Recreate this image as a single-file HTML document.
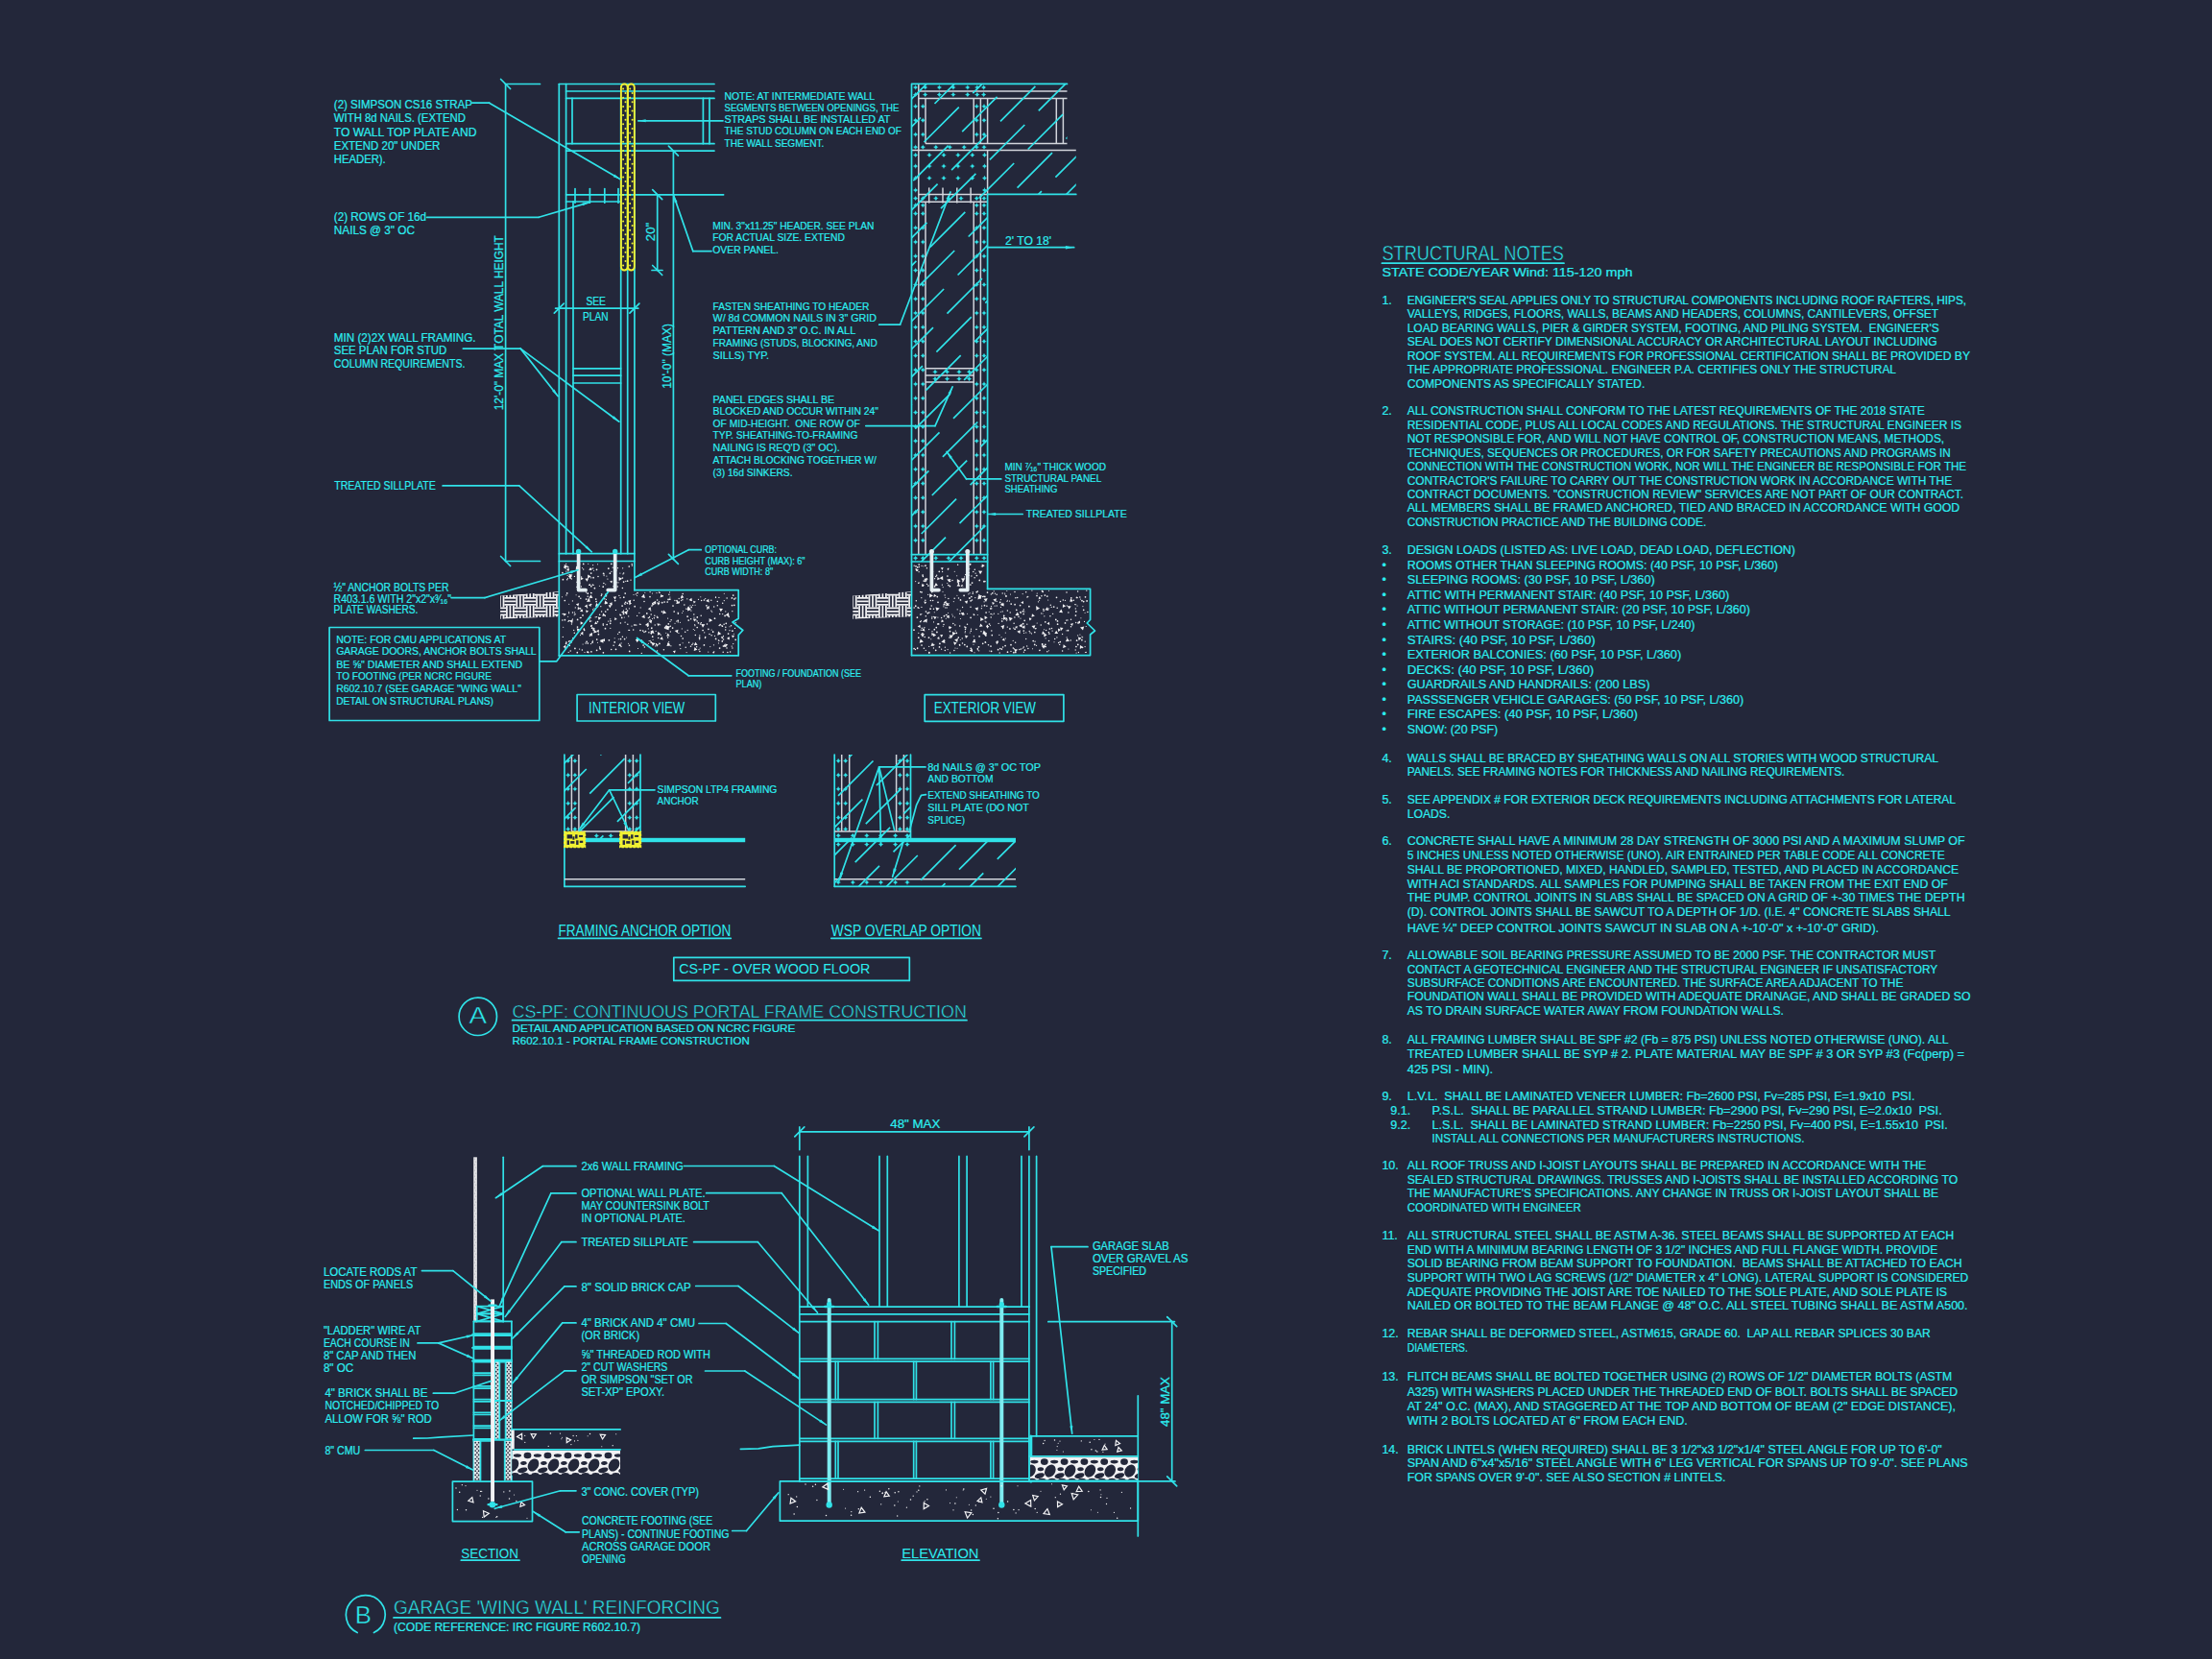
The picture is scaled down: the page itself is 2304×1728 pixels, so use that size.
<!DOCTYPE html>
<html lang="en"><head><meta charset="utf-8"><title>CS-PF Portal Frame Details and Structural Notes</title>
<style>
html,body{margin:0;padding:0;background:#23273a;}
body{width:2304px;height:1728px;overflow:hidden;}
svg{display:block;}
text{font-family:"Liberation Sans","DejaVu Sans",sans-serif;fill:#2ceef0;white-space:pre;}
.t{stroke:#2ceef0;stroke-width:.22px;}
.tl{stroke:#23273a;stroke-width:.5px;}
.tm{}
.c{stroke:#30e2e8;stroke-width:1.7;fill:none;stroke-linecap:round;stroke-linejoin:round;}
.g{stroke:#d2d5dc;stroke-width:1.5;fill:none;}
.jb{stroke:#e4eef2;fill:none;stroke-linecap:round;stroke-linejoin:round;}
.w{stroke:#f2f2f4;stroke-width:1;fill:none;}
.y{stroke:#f0f032;stroke-width:1.3;fill:none;}
.fc{fill:#30e2e8;stroke:none;}
.fw{fill:#f2f2f4;stroke:none;}
.fy{fill:#f0f032;stroke:none;}
.fg{fill:#d2d5dc;stroke:none;}
</style></head>
<body>
<svg width="2304" height="1728" viewBox="0 0 2304 1728">
<rect x="0" y="0" width="2304" height="1728" fill="#23273a"/>
<text class="tl" x="1439.4" y="271.3" font-size="21.6" textLength="189.6" lengthAdjust="spacingAndGlyphs">STRUCTURAL NOTES</text>
<line class="c" x1="1439.4" y1="274.2" x2="1629.0" y2="274.2"/>
<text class="t" x="1439.4" y="287.5" font-size="13.0" textLength="261.1" lengthAdjust="spacingAndGlyphs">STATE CODE/YEAR Wind: 115-120 mph</text>
<text class="t" x="1439.4" y="316.8" font-size="12.5">1.</text>
<text class="t" x="1465.7" y="316.8" font-size="12.5" textLength="582.4" lengthAdjust="spacingAndGlyphs">ENGINEER'S SEAL APPLIES ONLY TO STRUCTURAL COMPONENTS INCLUDING ROOF RAFTERS, HIPS,</text>
<text class="t" x="1465.7" y="331.4" font-size="12.5" textLength="553.4" lengthAdjust="spacingAndGlyphs">VALLEYS, RIDGES, FLOORS, WALLS, BEAMS AND HEADERS, COLUMNS, CANTILEVERS, OFFSET</text>
<text class="t" x="1465.7" y="345.7" font-size="12.5" textLength="554.0" lengthAdjust="spacingAndGlyphs">LOAD BEARING WALLS, PIER &amp; GIRDER SYSTEM, FOOTING, AND PILING SYSTEM.  ENGINEER'S</text>
<text class="t" x="1465.7" y="360.3" font-size="12.5" textLength="551.9" lengthAdjust="spacingAndGlyphs">SEAL DOES NOT CERTIFY DIMENSIONAL ACCURACY OR ARCHITECTURAL LAYOUT INCLUDING</text>
<text class="t" x="1465.7" y="374.7" font-size="12.5" textLength="586.3" lengthAdjust="spacingAndGlyphs">ROOF SYSTEM. ALL REQUIREMENTS FOR PROFESSIONAL CERTIFICATION SHALL BE PROVIDED BY</text>
<text class="t" x="1465.7" y="389.0" font-size="12.5" textLength="509.3" lengthAdjust="spacingAndGlyphs">THE APPROPRIATE PROFESSIONAL. ENGINEER P.A. CERTIFIES ONLY THE STRUCTURAL</text>
<text class="t" x="1465.7" y="403.6" font-size="12.5" textLength="247.6" lengthAdjust="spacingAndGlyphs">COMPONENTS AS SPECIFICALLY STATED.</text>
<text class="t" x="1439.4" y="432.2" font-size="12.5">2.</text>
<text class="t" x="1465.7" y="432.2" font-size="12.5" textLength="539.1" lengthAdjust="spacingAndGlyphs">ALL CONSTRUCTION SHALL CONFORM TO THE LATEST REQUIREMENTS OF THE 2018 STATE</text>
<text class="t" x="1465.7" y="446.6" font-size="12.5" textLength="577.3" lengthAdjust="spacingAndGlyphs">RESIDENTIAL CODE, PLUS ALL LOCAL CODES AND REGULATIONS. THE STRUCTURAL ENGINEER IS</text>
<text class="t" x="1465.7" y="461.2" font-size="12.5" textLength="559.4" lengthAdjust="spacingAndGlyphs">NOT RESPONSIBLE FOR, AND WILL NOT HAVE CONTROL OF, CONSTRUCTION MEANS, METHODS,</text>
<text class="t" x="1465.7" y="475.5" font-size="12.5" textLength="566.0" lengthAdjust="spacingAndGlyphs">TECHNIQUES, SEQUENCES OR PROCEDURES, OR FOR SAFETY PRECAUTIONS AND PROGRAMS IN</text>
<text class="t" x="1465.7" y="489.8" font-size="12.5" textLength="582.4" lengthAdjust="spacingAndGlyphs">CONNECTION WITH THE CONSTRUCTION WORK, NOR WILL THE ENGINEER BE RESPONSIBLE FOR THE</text>
<text class="t" x="1465.7" y="504.5" font-size="12.5" textLength="567.4" lengthAdjust="spacingAndGlyphs">CONTRACTOR'S FAILURE TO CARRY OUT THE CONSTRUCTION WORK IN ACCORDANCE WITH THE</text>
<text class="t" x="1465.7" y="518.8" font-size="12.5" textLength="579.4" lengthAdjust="spacingAndGlyphs">CONTRACT DOCUMENTS. "CONSTRUCTION REVIEW" SERVICES ARE NOT PART OF OUR CONTRACT.</text>
<text class="t" x="1465.7" y="533.4" font-size="12.5" textLength="575.5" lengthAdjust="spacingAndGlyphs">ALL MEMBERS SHALL BE FRAMED ANCHORED, TIED AND BRACED IN ACCORDANCE WITH GOOD</text>
<text class="t" x="1465.7" y="547.7" font-size="12.5" textLength="311.5" lengthAdjust="spacingAndGlyphs">CONSTRUCTION PRACTICE AND THE BUILDING CODE.</text>
<text class="t" x="1439.4" y="577.1" font-size="12.5">3.</text>
<text class="t" x="1465.7" y="577.1" font-size="12.5" textLength="404.3" lengthAdjust="spacingAndGlyphs">DESIGN LOADS (LISTED AS: LIVE LOAD, DEAD LOAD, DEFLECTION)</text>
<text class="t" x="1439.4" y="592.6" font-size="12.5">•</text>
<text class="t" x="1465.7" y="592.6" font-size="12.5" textLength="386.3" lengthAdjust="spacingAndGlyphs">ROOMS OTHER THAN SLEEPING ROOMS: (40 PSF, 10 PSF, L/360)</text>
<text class="t" x="1439.4" y="608.1" font-size="12.5">•</text>
<text class="t" x="1465.7" y="608.1" font-size="12.5" textLength="258.0" lengthAdjust="spacingAndGlyphs">SLEEPING ROOMS: (30 PSF, 10 PSF, L/360)</text>
<text class="t" x="1439.4" y="623.7" font-size="12.5">•</text>
<text class="t" x="1465.7" y="623.7" font-size="12.5" textLength="335.6" lengthAdjust="spacingAndGlyphs">ATTIC WITH PERMANENT STAIR: (40 PSF, 10 PSF, L/360)</text>
<text class="t" x="1439.4" y="639.2" font-size="12.5">•</text>
<text class="t" x="1465.7" y="639.2" font-size="12.5" textLength="357.1" lengthAdjust="spacingAndGlyphs">ATTIC WITHOUT PERMANENT STAIR: (20 PSF, 10 PSF, L/360)</text>
<text class="t" x="1439.4" y="654.7" font-size="12.5">•</text>
<text class="t" x="1465.7" y="654.7" font-size="12.5" textLength="299.8" lengthAdjust="spacingAndGlyphs">ATTIC WITHOUT STORAGE: (10 PSF, 10 PSF, L/240)</text>
<text class="t" x="1439.4" y="670.5" font-size="12.5">•</text>
<text class="t" x="1465.7" y="670.5" font-size="12.5" textLength="196.0" lengthAdjust="spacingAndGlyphs">STAIRS: (40 PSF, 10 PSF, L/360)</text>
<text class="t" x="1439.4" y="686.0" font-size="12.5">•</text>
<text class="t" x="1465.7" y="686.0" font-size="12.5" textLength="285.5" lengthAdjust="spacingAndGlyphs">EXTERIOR BALCONIES: (60 PSF, 10 PSF, L/360)</text>
<text class="t" x="1439.4" y="701.5" font-size="12.5">•</text>
<text class="t" x="1465.7" y="701.5" font-size="12.5" textLength="194.5" lengthAdjust="spacingAndGlyphs">DECKS: (40 PSF, 10 PSF, L/360)</text>
<text class="t" x="1439.4" y="717.0" font-size="12.5">•</text>
<text class="t" x="1465.7" y="717.0" font-size="12.5" textLength="252.7" lengthAdjust="spacingAndGlyphs">GUARDRAILS AND HANDRAILS: (200 LBS)</text>
<text class="t" x="1439.4" y="732.9" font-size="12.5">•</text>
<text class="t" x="1465.7" y="732.9" font-size="12.5" textLength="350.5" lengthAdjust="spacingAndGlyphs">PASSSENGER VEHICLE GARAGES: (50 PSF, 10 PSF, L/360)</text>
<text class="t" x="1439.4" y="748.4" font-size="12.5">•</text>
<text class="t" x="1465.7" y="748.4" font-size="12.5" textLength="240.1" lengthAdjust="spacingAndGlyphs">FIRE ESCAPES: (40 PSF, 10 PSF, L/360)</text>
<text class="t" x="1439.4" y="763.9" font-size="12.5">•</text>
<text class="t" x="1465.7" y="763.9" font-size="12.5" textLength="94.5" lengthAdjust="spacingAndGlyphs">SNOW: (20 PSF)</text>
<text class="t" x="1439.4" y="794.0" font-size="12.5">4.</text>
<text class="t" x="1465.7" y="794.0" font-size="12.5" textLength="553.4" lengthAdjust="spacingAndGlyphs">WALLS SHALL BE BRACED BY SHEATHING WALLS ON ALL STORIES WITH WOOD STRUCTURAL</text>
<text class="t" x="1465.7" y="808.3" font-size="12.5" textLength="455.6" lengthAdjust="spacingAndGlyphs">PANELS. SEE FRAMING NOTES FOR THICKNESS AND NAILING REQUIREMENTS.</text>
<text class="t" x="1439.4" y="837.3" font-size="12.5">5.</text>
<text class="t" x="1465.7" y="837.3" font-size="12.5" textLength="571.3" lengthAdjust="spacingAndGlyphs">SEE APPENDIX # FOR EXTERIOR DECK REQUIREMENTS INCLUDING ATTACHMENTS FOR LATERAL</text>
<text class="t" x="1465.7" y="851.6" font-size="12.5" textLength="44.7" lengthAdjust="spacingAndGlyphs">LOADS.</text>
<text class="t" x="1439.4" y="880.1" font-size="12.5">6.</text>
<text class="t" x="1465.7" y="880.1" font-size="12.5" textLength="580.9" lengthAdjust="spacingAndGlyphs">CONCRETE SHALL HAVE A MINIMUM 28 DAY STRENGTH OF 3000 PSI AND A MAXIMUM SLUMP OF</text>
<text class="t" x="1465.7" y="895.0" font-size="12.5" textLength="560.0" lengthAdjust="spacingAndGlyphs">5 INCHES UNLESS NOTED OTHERWISE (UNO). AIR ENTRAINED PER TABLE CODE ALL CONCRETE</text>
<text class="t" x="1465.7" y="909.9" font-size="12.5" textLength="574.3" lengthAdjust="spacingAndGlyphs">SHALL BE PROPORTIONED, MIXED, HANDLED, SAMPLED, TESTED, AND PLACED IN ACCORDANCE</text>
<text class="t" x="1465.7" y="924.5" font-size="12.5" textLength="563.0" lengthAdjust="spacingAndGlyphs">WITH ACI STANDARDS. ALL SAMPLES FOR PUMPING SHALL BE TAKEN FROM THE EXIT END OF</text>
<text class="t" x="1465.7" y="939.2" font-size="12.5" textLength="580.9" lengthAdjust="spacingAndGlyphs">THE PUMP. CONTROL JOINTS IN SLABS SHALL BE SPACED ON A GRID OF +-30 TIMES THE DEPTH</text>
<text class="t" x="1465.7" y="954.1" font-size="12.5" textLength="566.0" lengthAdjust="spacingAndGlyphs">(D). CONTROL JOINTS SHALL BE SAWCUT TO A DEPTH OF 1/D. (I.E. 4" CONCRETE SLABS SHALL</text>
<text class="t" x="1465.7" y="970.8" font-size="12.5" textLength="491.4" lengthAdjust="spacingAndGlyphs">HAVE ¼" DEEP CONTROL JOINTS SAWCUT IN SLAB ON A +-10'-0" x +-10'-0" GRID).</text>
<text class="t" x="1439.4" y="999.1" font-size="12.5">7.</text>
<text class="t" x="1465.7" y="999.1" font-size="12.5" textLength="550.5" lengthAdjust="spacingAndGlyphs">ALLOWABLE SOIL BEARING PRESSURE ASSUMED TO BE 2000 PSF. THE CONTRACTOR MUST</text>
<text class="t" x="1465.7" y="1013.5" font-size="12.5" textLength="552.5" lengthAdjust="spacingAndGlyphs">CONTACT A GEOTECHNICAL ENGINEER AND THE STRUCTURAL ENGINEER IF UNSATISFACTORY</text>
<text class="t" x="1465.7" y="1027.8" font-size="12.5" textLength="516.7" lengthAdjust="spacingAndGlyphs">SUBSURFACE CONDITIONS ARE ENCOUNTERED. THE SURFACE AREA ADJACENT TO THE</text>
<text class="t" x="1465.7" y="1042.4" font-size="12.5" textLength="586.8" lengthAdjust="spacingAndGlyphs">FOUNDATION WALL SHALL BE PROVIDED WITH ADEQUATE DRAINAGE, AND SHALL BE GRADED SO</text>
<text class="t" x="1465.7" y="1056.7" font-size="12.5" textLength="392.3" lengthAdjust="spacingAndGlyphs">AS TO DRAIN SURFACE WATER AWAY FROM FOUNDATION WALLS.</text>
<text class="t" x="1439.4" y="1086.6" font-size="12.5">8.</text>
<text class="t" x="1465.7" y="1086.6" font-size="12.5" textLength="563.9" lengthAdjust="spacingAndGlyphs">ALL FRAMING LUMBER SHALL BE SPF #2 (Fb = 875 PSI) UNLESS NOTED OTHERWISE (UNO). ALL</text>
<text class="t" x="1465.7" y="1102.1" font-size="12.5" textLength="580.3" lengthAdjust="spacingAndGlyphs">TREATED LUMBER SHALL BE SYP # 2. PLATE MATERIAL MAY BE SPF # 3 OR SYP #3 (Fc(perp) =</text>
<text class="t" x="1465.7" y="1117.6" font-size="12.5" textLength="89.5" lengthAdjust="spacingAndGlyphs">425 PSI - MIN).</text>
<text class="t" x="1439.4" y="1146.2" font-size="12.5">9.</text>
<text class="t" x="1465.7" y="1146.2" font-size="12.5" textLength="528.7" lengthAdjust="spacingAndGlyphs">L.V.L.  SHALL BE LAMINATED VENEER LUMBER: Fb=2600 PSI, Fv=285 PSI, E=1.9x10  PSI.</text>
<text class="t" x="1448.3" y="1161.2" font-size="12.5">9.1.</text>
<text class="t" x="1491.6" y="1161.2" font-size="12.5" textLength="531.1" lengthAdjust="spacingAndGlyphs">P.S.L.  SHALL BE PARALLEL STRAND LUMBER: Fb=2900 PSI, Fv=290 PSI, E=2.0x10  PSI.</text>
<text class="t" x="1448.3" y="1175.5" font-size="12.5">9.2.</text>
<text class="t" x="1491.6" y="1175.5" font-size="12.5" textLength="537.1" lengthAdjust="spacingAndGlyphs">L.S.L.  SHALL BE LAMINATED STRAND LUMBER: Fb=2250 PSI, Fv=400 PSI, E=1.55x10  PSI.</text>
<text class="t" x="1491.6" y="1189.8" font-size="12.5" textLength="387.9" lengthAdjust="spacingAndGlyphs">INSTALL ALL CONNECTIONS PER MANUFACTURERS INSTRUCTIONS.</text>
<text class="t" x="1439.4" y="1218.1" font-size="12.5">10.</text>
<text class="t" x="1465.7" y="1218.1" font-size="12.5" textLength="540.6" lengthAdjust="spacingAndGlyphs">ALL ROOF TRUSS AND I-JOIST LAYOUTS SHALL BE PREPARED IN ACCORDANCE WITH THE</text>
<text class="t" x="1465.7" y="1232.8" font-size="12.5" textLength="573.4" lengthAdjust="spacingAndGlyphs">SEALED STRUCTURAL DRAWINGS. TRUSSES AND I-JOISTS SHALL BE INSTALLED ACCORDING TO</text>
<text class="t" x="1465.7" y="1247.4" font-size="12.5" textLength="553.4" lengthAdjust="spacingAndGlyphs">THE MANUFACTURE'S SPECIFICATIONS. ANY CHANGE IN TRUSS OR I-JOIST LAYOUT SHALL BE</text>
<text class="t" x="1465.7" y="1262.0" font-size="12.5" textLength="181.1" lengthAdjust="spacingAndGlyphs">COORDINATED WITH ENGINEER</text>
<text class="t" x="1439.4" y="1291.2" font-size="12.5">11.</text>
<text class="t" x="1465.7" y="1291.2" font-size="12.5" textLength="569.5" lengthAdjust="spacingAndGlyphs">ALL STRUCTURAL STEEL SHALL BE ASTM A-36. STEEL BEAMS SHALL BE SUPPORTED AT EACH</text>
<text class="t" x="1465.7" y="1305.6" font-size="12.5" textLength="552.5" lengthAdjust="spacingAndGlyphs">END WITH A MINIMUM BEARING LENGTH OF 3 1/2" INCHES AND FULL FLANGE WIDTH. PROVIDE</text>
<text class="t" x="1465.7" y="1320.2" font-size="12.5" textLength="577.9" lengthAdjust="spacingAndGlyphs">SOLID BEARING FROM BEAM SUPPORT TO FOUNDATION.  BEAMS SHALL BE ATTACHED TO EACH</text>
<text class="t" x="1465.7" y="1334.8" font-size="12.5" textLength="584.5" lengthAdjust="spacingAndGlyphs">SUPPORT WITH TWO LAG SCREWS (1/2" DIAMETER x 4" LONG). LATERAL SUPPORT IS CONSIDERED</text>
<text class="t" x="1465.7" y="1349.7" font-size="12.5" textLength="562.4" lengthAdjust="spacingAndGlyphs">ADEQUATE PROVIDING THE JOIST ARE TOE NAILED TO THE SOLE PLATE, AND SOLE PLATE IS</text>
<text class="t" x="1465.7" y="1364.3" font-size="12.5" textLength="583.9" lengthAdjust="spacingAndGlyphs">NAILED OR BOLTED TO THE BEAM FLANGE @ 48" O.C. ALL STEEL TUBING SHALL BE ASTM A500.</text>
<text class="t" x="1439.4" y="1393.3" font-size="12.5">12.</text>
<text class="t" x="1465.7" y="1393.3" font-size="12.5" textLength="545.1" lengthAdjust="spacingAndGlyphs">REBAR SHALL BE DEFORMED STEEL, ASTM615, GRADE 60.  LAP ALL REBAR SPLICES 30 BAR</text>
<text class="t" x="1465.7" y="1407.6" font-size="12.5" textLength="63.2" lengthAdjust="spacingAndGlyphs">DIAMETERS.</text>
<text class="t" x="1439.4" y="1438.0" font-size="12.5">13.</text>
<text class="t" x="1465.7" y="1438.0" font-size="12.5" textLength="567.5" lengthAdjust="spacingAndGlyphs">FLITCH BEAMS SHALL BE BOLTED TOGETHER USING (2) ROWS OF 1/2" DIAMETER BOLTS (ASTM</text>
<text class="t" x="1465.7" y="1453.6" font-size="12.5" textLength="573.4" lengthAdjust="spacingAndGlyphs">A325) WITH WASHERS PLACED UNDER THE THREADED END OF BOLT. BOLTS SHALL BE SPACED</text>
<text class="t" x="1465.7" y="1469.1" font-size="12.5" textLength="571.3" lengthAdjust="spacingAndGlyphs">AT 24" O.C. (MAX), AND STAGGERED AT THE TOP AND BOTTOM OF BEAM (2" EDGE DISTANCE),</text>
<text class="t" x="1465.7" y="1483.7" font-size="12.5" textLength="292.1" lengthAdjust="spacingAndGlyphs">WITH 2 BOLTS LOCATED AT 6" FROM EACH END.</text>
<text class="t" x="1439.4" y="1513.5" font-size="12.5">14.</text>
<text class="t" x="1465.7" y="1513.5" font-size="12.5" textLength="557.0" lengthAdjust="spacingAndGlyphs">BRICK LINTELS (WHEN REQUIRED) SHALL BE 3 1/2"x3 1/2"x1/4" STEEL ANGLE FOR UP TO 6'-0"</text>
<text class="t" x="1465.7" y="1527.9" font-size="12.5" textLength="583.9" lengthAdjust="spacingAndGlyphs">SPAN AND 6"x4"x5/16" STEEL ANGLE WITH 6" LEG VERTICAL FOR SPANS UP TO 9'-0". SEE PLANS</text>
<text class="t" x="1465.7" y="1542.8" font-size="12.5" textLength="331.7" lengthAdjust="spacingAndGlyphs">FOR SPANS OVER 9'-0". SEE ALSO SECTION # LINTELS.</text>
<line class="c" x1="526.6" y1="87.5" x2="526.6" y2="584.5"/>
<line class="c" x1="526.6" y1="87.5" x2="562.5" y2="87.5"/>
<line class="c" x1="526.6" y1="584.5" x2="562.5" y2="584.5"/>
<line class="c" x1="521.6" y1="82.5" x2="531.6" y2="92.5"/>
<line class="c" x1="521.6" y1="579.5" x2="531.6" y2="589.5"/>
<text class="t" x="524.3" y="427.3" font-size="12.6" textLength="182.1" lengthAdjust="spacingAndGlyphs" transform="rotate(-90 524.3 427.3)">12'-0" MAX TOTAL WALL HEIGHT</text>
<line class="c" x1="582.3" y1="87.5" x2="744.0" y2="87.5"/>
<line class="c" x1="589.6" y1="95.0" x2="744.0" y2="95.0"/>
<line class="c" x1="589.6" y1="102.4" x2="744.0" y2="102.4"/>
<line class="c" x1="589.6" y1="149.7" x2="744.0" y2="149.7"/>
<line class="c" x1="589.6" y1="157.1" x2="744.0" y2="157.1"/>
<line class="c" x1="596.0" y1="102.4" x2="596.0" y2="149.7"/>
<line class="c" x1="732.4" y1="102.4" x2="732.4" y2="149.7"/>
<line class="c" x1="739.0" y1="102.4" x2="739.0" y2="149.7"/>
<line class="c" x1="582.3" y1="87.5" x2="582.3" y2="682.9"/>
<line class="c" x1="589.6" y1="87.5" x2="589.6" y2="576.7"/>
<line class="c" x1="597.0" y1="209.8" x2="597.0" y2="576.7"/>
<line class="c" x1="646.7" y1="102.4" x2="646.7" y2="576.7"/>
<line class="c" x1="653.7" y1="102.4" x2="653.7" y2="576.7"/>
<line class="c" x1="660.9" y1="102.4" x2="660.9" y2="614.7"/>
<line class="c" x1="589.6" y1="202.8" x2="753.6" y2="202.8"/>
<line class="c" x1="589.6" y1="210.0" x2="646.7" y2="210.0"/>
<line class="c" x1="599.0" y1="196.6" x2="599.0" y2="211.2"/>
<line class="c" x1="614.4" y1="196.6" x2="614.4" y2="211.2"/>
<line class="c" x1="629.8" y1="196.6" x2="629.8" y2="211.2"/>
<line class="c" x1="644.0" y1="196.6" x2="644.0" y2="211.2"/>
<line class="c" x1="597.0" y1="383.8" x2="646.7" y2="383.8"/>
<line class="c" x1="597.0" y1="391.2" x2="646.7" y2="391.2"/>
<line class="c" x1="597.0" y1="399.0" x2="646.7" y2="399.0"/>
<line class="c" x1="582.3" y1="576.7" x2="660.9" y2="576.7"/>
<line class="c" x1="582.3" y1="584.5" x2="660.9" y2="584.5"/>
<rect class="y" x="646.9" y="87.5" width="6.8" height="194.0" rx="3.4" ry="3.4" style="stroke-width:1.9"/>
<circle class="fy" cx="649.1" cy="92.5" r="1.0"/>
<circle class="fy" cx="651.5" cy="97.1" r="1.0"/>
<circle class="fy" cx="649.1" cy="101.7" r="1.0"/>
<circle class="fy" cx="651.5" cy="106.3" r="1.0"/>
<circle class="fy" cx="649.1" cy="110.9" r="1.0"/>
<circle class="fy" cx="651.5" cy="115.5" r="1.0"/>
<circle class="fy" cx="649.1" cy="120.1" r="1.0"/>
<circle class="fy" cx="651.5" cy="124.7" r="1.0"/>
<circle class="fy" cx="649.1" cy="129.3" r="1.0"/>
<circle class="fy" cx="651.5" cy="133.9" r="1.0"/>
<circle class="fy" cx="649.1" cy="138.5" r="1.0"/>
<circle class="fy" cx="651.5" cy="143.1" r="1.0"/>
<circle class="fy" cx="649.1" cy="147.7" r="1.0"/>
<circle class="fy" cx="651.5" cy="152.3" r="1.0"/>
<circle class="fy" cx="649.1" cy="156.9" r="1.0"/>
<circle class="fy" cx="651.5" cy="161.5" r="1.0"/>
<circle class="fy" cx="649.1" cy="166.1" r="1.0"/>
<circle class="fy" cx="651.5" cy="170.7" r="1.0"/>
<circle class="fy" cx="649.1" cy="175.3" r="1.0"/>
<circle class="fy" cx="651.5" cy="179.9" r="1.0"/>
<circle class="fy" cx="649.1" cy="184.5" r="1.0"/>
<circle class="fy" cx="651.5" cy="189.1" r="1.0"/>
<circle class="fy" cx="649.1" cy="193.7" r="1.0"/>
<circle class="fy" cx="651.5" cy="198.3" r="1.0"/>
<circle class="fy" cx="649.1" cy="202.9" r="1.0"/>
<circle class="fy" cx="651.5" cy="207.5" r="1.0"/>
<circle class="fy" cx="649.1" cy="212.1" r="1.0"/>
<circle class="fy" cx="651.5" cy="216.7" r="1.0"/>
<circle class="fy" cx="649.1" cy="221.3" r="1.0"/>
<circle class="fy" cx="651.5" cy="225.9" r="1.0"/>
<circle class="fy" cx="649.1" cy="230.5" r="1.0"/>
<circle class="fy" cx="651.5" cy="235.1" r="1.0"/>
<circle class="fy" cx="649.1" cy="239.7" r="1.0"/>
<circle class="fy" cx="651.5" cy="244.3" r="1.0"/>
<circle class="fy" cx="649.1" cy="248.9" r="1.0"/>
<circle class="fy" cx="651.5" cy="253.5" r="1.0"/>
<circle class="fy" cx="649.1" cy="258.1" r="1.0"/>
<circle class="fy" cx="651.5" cy="262.7" r="1.0"/>
<circle class="fy" cx="649.1" cy="267.3" r="1.0"/>
<circle class="fy" cx="651.5" cy="271.9" r="1.0"/>
<circle class="fy" cx="649.1" cy="276.5" r="1.0"/>
<rect class="y" x="654.0" y="87.5" width="6.8" height="194.0" rx="3.4" ry="3.4" style="stroke-width:1.9"/>
<circle class="fy" cx="656.2" cy="92.5" r="1.0"/>
<circle class="fy" cx="658.6" cy="97.1" r="1.0"/>
<circle class="fy" cx="656.2" cy="101.7" r="1.0"/>
<circle class="fy" cx="658.6" cy="106.3" r="1.0"/>
<circle class="fy" cx="656.2" cy="110.9" r="1.0"/>
<circle class="fy" cx="658.6" cy="115.5" r="1.0"/>
<circle class="fy" cx="656.2" cy="120.1" r="1.0"/>
<circle class="fy" cx="658.6" cy="124.7" r="1.0"/>
<circle class="fy" cx="656.2" cy="129.3" r="1.0"/>
<circle class="fy" cx="658.6" cy="133.9" r="1.0"/>
<circle class="fy" cx="656.2" cy="138.5" r="1.0"/>
<circle class="fy" cx="658.6" cy="143.1" r="1.0"/>
<circle class="fy" cx="656.2" cy="147.7" r="1.0"/>
<circle class="fy" cx="658.6" cy="152.3" r="1.0"/>
<circle class="fy" cx="656.2" cy="156.9" r="1.0"/>
<circle class="fy" cx="658.6" cy="161.5" r="1.0"/>
<circle class="fy" cx="656.2" cy="166.1" r="1.0"/>
<circle class="fy" cx="658.6" cy="170.7" r="1.0"/>
<circle class="fy" cx="656.2" cy="175.3" r="1.0"/>
<circle class="fy" cx="658.6" cy="179.9" r="1.0"/>
<circle class="fy" cx="656.2" cy="184.5" r="1.0"/>
<circle class="fy" cx="658.6" cy="189.1" r="1.0"/>
<circle class="fy" cx="656.2" cy="193.7" r="1.0"/>
<circle class="fy" cx="658.6" cy="198.3" r="1.0"/>
<circle class="fy" cx="656.2" cy="202.9" r="1.0"/>
<circle class="fy" cx="658.6" cy="207.5" r="1.0"/>
<circle class="fy" cx="656.2" cy="212.1" r="1.0"/>
<circle class="fy" cx="658.6" cy="216.7" r="1.0"/>
<circle class="fy" cx="656.2" cy="221.3" r="1.0"/>
<circle class="fy" cx="658.6" cy="225.9" r="1.0"/>
<circle class="fy" cx="656.2" cy="230.5" r="1.0"/>
<circle class="fy" cx="658.6" cy="235.1" r="1.0"/>
<circle class="fy" cx="656.2" cy="239.7" r="1.0"/>
<circle class="fy" cx="658.6" cy="244.3" r="1.0"/>
<circle class="fy" cx="656.2" cy="248.9" r="1.0"/>
<circle class="fy" cx="658.6" cy="253.5" r="1.0"/>
<circle class="fy" cx="656.2" cy="258.1" r="1.0"/>
<circle class="fy" cx="658.6" cy="262.7" r="1.0"/>
<circle class="fy" cx="656.2" cy="267.3" r="1.0"/>
<circle class="fy" cx="658.6" cy="271.9" r="1.0"/>
<circle class="fy" cx="656.2" cy="276.5" r="1.0"/>
<line class="c" x1="684.7" y1="202.6" x2="684.7" y2="281.5"/>
<line class="c" x1="679.7" y1="197.6" x2="689.7" y2="207.6"/>
<line class="c" x1="679.7" y1="276.5" x2="689.7" y2="286.5"/>
<line class="c" x1="679.0" y1="281.5" x2="690.0" y2="281.5"/>
<text class="t" x="682.0" y="251.2" font-size="12.6" textLength="19.5" lengthAdjust="spacingAndGlyphs" transform="rotate(-90 682.0 251.2)">20"</text>
<line class="c" x1="701.4" y1="157.1" x2="701.4" y2="582.4"/>
<line class="c" x1="696.4" y1="152.1" x2="706.4" y2="162.1"/>
<line class="c" x1="696.4" y1="577.4" x2="706.4" y2="587.4"/>
<text class="t" x="699.2" y="404.8" font-size="12.6" textLength="67.7" lengthAdjust="spacingAndGlyphs" transform="rotate(-90 699.2 404.8)">10'-0" (MAX)</text>
<line class="c" x1="578.6" y1="321.2" x2="664.8" y2="321.2"/>
<line class="c" x1="577.3" y1="326.2" x2="587.3" y2="316.2"/>
<line class="c" x1="655.9" y1="326.2" x2="665.9" y2="316.2"/>
<text class="t" x="610.4" y="318.4" font-size="12.6" textLength="20.4" lengthAdjust="spacingAndGlyphs">SEE</text>
<text class="t" x="607.0" y="334.3" font-size="12.6" textLength="26.5" lengthAdjust="spacingAndGlyphs">PLAN</text>
<path class="c" d="M660.9 614.7 L769.2 614.7 L769.2 644.3 L763.0 648.0 L773.8 656.5 L769.2 661.4 L769.2 682.9 L582.3 682.9"/>
<circle class="fw" cx="618.1" cy="601.7" r="0.85"/>
<circle class="fw" cx="618.1" cy="609.4" r="0.65"/>
<circle class="fw" cx="598.4" cy="600.4" r="0.65"/>
<circle class="fw" cx="591.7" cy="594.9" r="0.55"/>
<circle class="fw" cx="624.4" cy="610.3" r="0.55"/>
<circle class="fw" cx="628.6" cy="597.4" r="0.85"/>
<circle class="fw" cx="632.9" cy="603.1" r="0.65"/>
<circle class="fw" cx="630.7" cy="608.8" r="0.55"/>
<circle class="fw" cx="589.2" cy="592.0" r="0.65"/>
<circle class="fw" cx="628.9" cy="607.4" r="0.75"/>
<circle class="fw" cx="617.2" cy="609.1" r="0.65"/>
<circle class="fw" cx="631.9" cy="600.1" r="0.55"/>
<circle class="fw" cx="618.5" cy="594.3" r="0.55"/>
<circle class="fw" cx="636.9" cy="595.3" r="0.65"/>
<circle class="fw" cx="622.5" cy="587.8" r="0.55"/>
<circle class="fw" cx="614.3" cy="609.2" r="0.85"/>
<circle class="fw" cx="589.7" cy="587.4" r="0.55"/>
<circle class="fw" cx="600.5" cy="611.3" r="0.55"/>
<circle class="fw" cx="619.4" cy="612.7" r="0.85"/>
<circle class="fw" cx="615.7" cy="601.8" r="0.65"/>
<circle class="fw" cx="642.1" cy="594.1" r="0.55"/>
<circle class="fw" cx="607.7" cy="587.4" r="0.85"/>
<circle class="fw" cx="640.6" cy="590.1" r="0.65"/>
<circle class="fw" cx="636.8" cy="587.3" r="0.85"/>
<circle class="fw" cx="643.5" cy="591.7" r="0.65"/>
<circle class="fw" cx="617.7" cy="592.0" r="0.65"/>
<circle class="fw" cx="615.7" cy="597.1" r="0.85"/>
<circle class="fw" cx="615.8" cy="592.6" r="0.75"/>
<circle class="fw" cx="648.4" cy="612.5" r="0.75"/>
<circle class="fw" cx="658.2" cy="587.5" r="0.65"/>
<circle class="fw" cx="613.8" cy="609.4" r="0.55"/>
<circle class="fw" cx="587.9" cy="590.8" r="0.85"/>
<circle class="fw" cx="603.8" cy="607.2" r="0.75"/>
<circle class="fw" cx="645.9" cy="597.1" r="0.55"/>
<circle class="fw" cx="591.4" cy="602.3" r="0.65"/>
<circle class="fw" cx="585.9" cy="596.7" r="0.85"/>
<circle class="fw" cx="594.2" cy="602.4" r="0.65"/>
<circle class="fw" cx="648.6" cy="591.8" r="0.65"/>
<circle class="fw" cx="607.7" cy="593.0" r="0.65"/>
<circle class="fw" cx="638.2" cy="591.2" r="0.65"/>
<circle class="fw" cx="635.4" cy="597.2" r="0.85"/>
<circle class="fw" cx="629.2" cy="598.0" r="0.55"/>
<circle class="fw" cx="592.8" cy="600.4" r="0.75"/>
<circle class="fw" cx="602.3" cy="605.5" r="0.75"/>
<circle class="fw" cx="615.8" cy="610.7" r="0.85"/>
<circle class="fw" cx="606.4" cy="591.6" r="0.55"/>
<circle class="fw" cx="594.1" cy="599.6" r="0.55"/>
<circle class="fw" cx="605.4" cy="611.0" r="0.65"/>
<circle class="fw" cx="639.9" cy="588.8" r="0.85"/>
<circle class="fw" cx="617.6" cy="588.6" r="0.65"/>
<circle class="fw" cx="605.6" cy="600.9" r="0.65"/>
<circle class="fw" cx="591.6" cy="590.6" r="0.85"/>
<circle class="fw" cx="657.0" cy="604.2" r="0.65"/>
<circle class="fw" cx="628.2" cy="611.2" r="0.85"/>
<circle class="fw" cx="651.8" cy="605.4" r="0.55"/>
<circle class="fw" cx="586.4" cy="603.7" r="0.85"/>
<circle class="fw" cx="589.8" cy="595.1" r="0.65"/>
<circle class="fw" cx="658.4" cy="589.0" r="0.75"/>
<circle class="fw" cx="639.0" cy="610.6" r="0.65"/>
<circle class="fw" cx="643.2" cy="611.0" r="0.75"/>
<circle class="fw" cx="591.1" cy="599.4" r="0.55"/>
<circle class="fw" cx="648.9" cy="597.9" r="0.55"/>
<circle class="fw" cx="648.4" cy="602.0" r="0.85"/>
<circle class="fw" cx="612.7" cy="587.3" r="0.55"/>
<circle class="fw" cx="590.7" cy="603.8" r="0.75"/>
<circle class="fw" cx="649.6" cy="606.1" r="0.85"/>
<circle class="fw" cx="653.6" cy="605.2" r="0.85"/>
<circle class="fw" cx="617.2" cy="609.0" r="0.55"/>
<circle class="fw" cx="623.0" cy="600.5" r="0.75"/>
<circle class="fw" cx="629.1" cy="599.6" r="0.65"/>
<circle class="fw" cx="655.3" cy="590.0" r="0.85"/>
<circle class="fw" cx="603.6" cy="587.3" r="0.75"/>
<circle class="fw" cx="595.3" cy="603.0" r="0.65"/>
<circle class="fw" cx="640.3" cy="596.0" r="0.85"/>
<circle class="fw" cx="621.5" cy="593.3" r="0.85"/>
<circle class="fw" cx="633.8" cy="592.2" r="0.85"/>
<circle class="fw" cx="644.0" cy="606.8" r="0.65"/>
<circle class="fw" cx="649.6" cy="597.1" r="0.75"/>
<path class="fw" d="M599.7 593.6 L600.1 589.4 L603.5 591.9 Z"/>
<path class="fw" d="M591.5 589.7 L588.2 592.2 L587.7 588.1 Z"/>
<path class="fw" d="M596.4 598.4 L594.1 601.8 L592.3 598.1 Z"/>
<path class="fw" d="M612.2 598.6 L615.6 600.6 L612.1 602.5 Z"/>
<path class="fw" d="M644.7 605.1 L644.4 601.0 L648.1 602.8 Z"/>
<path class="fw" d="M605.1 600.9 L607.8 602.7 L604.9 604.2 Z"/>
<path class="fw" d="M609.3 602.7 L613.1 602.2 L611.6 605.8 Z"/>
<path class="fw" d="M615.1 591.0 L616.4 594.0 L613.2 593.7 Z"/>
<path class="fw" d="M643.1 606.8 L640.6 608.6 L640.3 605.5 Z"/>
<path class="fw" d="M592.7 599.4 L596.0 600.6 L593.3 602.8 Z"/>
<path class="fw" d="M592.6 591.4 L592.9 594.7 L589.9 593.2 Z"/>
<path class="fw" d="M635.1 605.6 L637.9 604.8 L637.2 607.6 Z"/>
<path class="fw" d="M599.9 606.0 L604.0 604.8 L603.0 608.9 Z"/>
<circle class="fw" cx="671.0" cy="658.5" r="0.75"/>
<circle class="fw" cx="610.7" cy="616.9" r="0.75"/>
<circle class="fw" cx="672.5" cy="657.6" r="0.85"/>
<circle class="fw" cx="710.3" cy="654.9" r="0.55"/>
<circle class="fw" cx="705.0" cy="625.5" r="0.85"/>
<circle class="fw" cx="651.6" cy="638.0" r="0.65"/>
<circle class="fw" cx="595.5" cy="668.9" r="0.55"/>
<circle class="fw" cx="678.1" cy="668.9" r="0.85"/>
<circle class="fw" cx="729.8" cy="621.8" r="0.55"/>
<circle class="fw" cx="733.7" cy="658.8" r="0.65"/>
<circle class="fw" cx="601.3" cy="679.7" r="0.85"/>
<circle class="fw" cx="605.2" cy="643.4" r="0.65"/>
<circle class="fw" cx="682.8" cy="672.9" r="0.65"/>
<circle class="fw" cx="762.2" cy="673.1" r="0.65"/>
<circle class="fw" cx="677.0" cy="621.6" r="0.85"/>
<circle class="fw" cx="706.2" cy="646.4" r="0.85"/>
<circle class="fw" cx="683.1" cy="657.4" r="0.55"/>
<circle class="fw" cx="760.6" cy="679.0" r="0.75"/>
<circle class="fw" cx="649.5" cy="639.5" r="0.85"/>
<circle class="fw" cx="707.2" cy="623.5" r="0.65"/>
<circle class="fw" cx="645.7" cy="640.1" r="0.65"/>
<circle class="fw" cx="589.9" cy="669.1" r="0.85"/>
<circle class="fw" cx="590.7" cy="617.9" r="0.85"/>
<circle class="fw" cx="592.7" cy="629.3" r="0.55"/>
<circle class="fw" cx="721.7" cy="630.4" r="0.55"/>
<circle class="fw" cx="711.2" cy="618.6" r="0.75"/>
<circle class="fw" cx="675.3" cy="654.9" r="0.55"/>
<circle class="fw" cx="678.2" cy="639.9" r="0.75"/>
<circle class="fw" cx="636.0" cy="646.8" r="0.85"/>
<circle class="fw" cx="628.4" cy="679.8" r="0.85"/>
<circle class="fw" cx="752.7" cy="639.6" r="0.65"/>
<circle class="fw" cx="724.1" cy="630.3" r="0.55"/>
<circle class="fw" cx="757.0" cy="675.1" r="0.75"/>
<circle class="fw" cx="617.4" cy="667.3" r="0.55"/>
<circle class="fw" cx="629.8" cy="623.7" r="0.75"/>
<circle class="fw" cx="766.2" cy="648.6" r="0.55"/>
<circle class="fw" cx="753.3" cy="672.9" r="0.75"/>
<circle class="fw" cx="701.0" cy="631.0" r="0.85"/>
<circle class="fw" cx="673.8" cy="638.9" r="0.85"/>
<circle class="fw" cx="747.3" cy="626.6" r="0.75"/>
<circle class="fw" cx="696.9" cy="619.2" r="0.75"/>
<circle class="fw" cx="756.3" cy="649.3" r="0.85"/>
<circle class="fw" cx="712.8" cy="630.0" r="0.75"/>
<circle class="fw" cx="679.5" cy="618.0" r="0.55"/>
<circle class="fw" cx="710.9" cy="624.7" r="0.75"/>
<circle class="fw" cx="661.2" cy="631.7" r="0.85"/>
<circle class="fw" cx="670.5" cy="620.0" r="0.75"/>
<circle class="fw" cx="723.0" cy="643.1" r="0.55"/>
<circle class="fw" cx="748.5" cy="666.9" r="0.75"/>
<circle class="fw" cx="762.9" cy="657.2" r="0.85"/>
<circle class="fw" cx="687.2" cy="617.3" r="0.65"/>
<circle class="fw" cx="749.0" cy="667.5" r="0.55"/>
<circle class="fw" cx="750.2" cy="650.6" r="0.85"/>
<circle class="fw" cx="728.8" cy="661.9" r="0.65"/>
<circle class="fw" cx="641.5" cy="676.3" r="0.85"/>
<circle class="fw" cx="697.8" cy="624.2" r="0.85"/>
<circle class="fw" cx="690.3" cy="620.8" r="0.75"/>
<circle class="fw" cx="643.6" cy="660.3" r="0.65"/>
<circle class="fw" cx="709.5" cy="662.5" r="0.75"/>
<circle class="fw" cx="711.2" cy="665.0" r="0.85"/>
<circle class="fw" cx="651.2" cy="618.1" r="0.85"/>
<circle class="fw" cx="698.0" cy="647.4" r="0.55"/>
<circle class="fw" cx="706.1" cy="638.1" r="0.65"/>
<circle class="fw" cx="745.5" cy="622.4" r="0.65"/>
<circle class="fw" cx="586.2" cy="639.4" r="0.75"/>
<circle class="fw" cx="739.0" cy="660.5" r="0.75"/>
<circle class="fw" cx="624.8" cy="675.3" r="0.75"/>
<circle class="fw" cx="614.3" cy="646.1" r="0.65"/>
<circle class="fw" cx="668.4" cy="666.7" r="0.55"/>
<circle class="fw" cx="735.9" cy="630.8" r="0.85"/>
<circle class="fw" cx="679.5" cy="644.5" r="0.55"/>
<circle class="fw" cx="761.5" cy="651.8" r="0.75"/>
<circle class="fw" cx="648.4" cy="663.3" r="0.75"/>
<circle class="fw" cx="725.6" cy="673.8" r="0.75"/>
<circle class="fw" cx="615.8" cy="646.9" r="0.65"/>
<circle class="fw" cx="630.6" cy="619.2" r="0.75"/>
<circle class="fw" cx="636.7" cy="676.4" r="0.75"/>
<circle class="fw" cx="655.5" cy="672.3" r="0.75"/>
<circle class="fw" cx="611.7" cy="632.9" r="0.55"/>
<circle class="fw" cx="737.9" cy="655.3" r="0.85"/>
<circle class="fw" cx="659.7" cy="655.9" r="0.75"/>
<circle class="fw" cx="646.5" cy="665.6" r="0.85"/>
<circle class="fw" cx="654.7" cy="641.9" r="0.65"/>
<circle class="fw" cx="615.7" cy="629.4" r="0.75"/>
<circle class="fw" cx="604.7" cy="633.4" r="0.55"/>
<circle class="fw" cx="742.6" cy="658.2" r="0.75"/>
<circle class="fw" cx="762.9" cy="675.0" r="0.65"/>
<circle class="fw" cx="740.9" cy="636.2" r="0.65"/>
<circle class="fw" cx="720.9" cy="671.5" r="0.75"/>
<circle class="fw" cx="592.5" cy="668.3" r="0.65"/>
<circle class="fw" cx="614.5" cy="662.2" r="0.75"/>
<circle class="fw" cx="753.2" cy="679.3" r="0.75"/>
<circle class="fw" cx="684.0" cy="617.6" r="0.55"/>
<circle class="fw" cx="651.1" cy="648.2" r="0.65"/>
<circle class="fw" cx="666.3" cy="650.1" r="0.65"/>
<circle class="fw" cx="730.3" cy="648.7" r="0.75"/>
<circle class="fw" cx="669.7" cy="657.0" r="0.85"/>
<circle class="fw" cx="739.8" cy="673.6" r="0.55"/>
<circle class="fw" cx="714.7" cy="634.1" r="0.65"/>
<circle class="fw" cx="674.1" cy="671.2" r="0.55"/>
<circle class="fw" cx="758.6" cy="660.1" r="0.85"/>
<circle class="fw" cx="684.5" cy="678.1" r="0.75"/>
<circle class="fw" cx="721.8" cy="670.2" r="0.65"/>
<circle class="fw" cx="648.1" cy="631.1" r="0.85"/>
<circle class="fw" cx="600.1" cy="619.8" r="0.55"/>
<circle class="fw" cx="754.3" cy="618.2" r="0.55"/>
<circle class="fw" cx="692.6" cy="653.9" r="0.85"/>
<circle class="fw" cx="699.1" cy="645.8" r="0.75"/>
<circle class="fw" cx="661.8" cy="651.1" r="0.75"/>
<circle class="fw" cx="730.2" cy="641.3" r="0.75"/>
<circle class="fw" cx="757.9" cy="679.6" r="0.75"/>
<circle class="fw" cx="610.6" cy="624.1" r="0.85"/>
<circle class="fw" cx="693.8" cy="659.2" r="0.55"/>
<circle class="fw" cx="620.7" cy="624.1" r="0.85"/>
<circle class="fw" cx="717.6" cy="669.3" r="0.75"/>
<circle class="fw" cx="646.5" cy="640.7" r="0.85"/>
<circle class="fw" cx="647.0" cy="673.4" r="0.75"/>
<circle class="fw" cx="596.5" cy="638.1" r="0.75"/>
<circle class="fw" cx="696.1" cy="624.4" r="0.85"/>
<circle class="fw" cx="720.2" cy="632.4" r="0.85"/>
<circle class="fw" cx="764.8" cy="623.9" r="0.85"/>
<circle class="fw" cx="616.2" cy="651.4" r="0.75"/>
<circle class="fw" cx="653.6" cy="636.1" r="0.75"/>
<circle class="fw" cx="749.6" cy="675.1" r="0.85"/>
<circle class="fw" cx="597.7" cy="656.4" r="0.65"/>
<circle class="fw" cx="755.7" cy="656.1" r="0.75"/>
<circle class="fw" cx="740.8" cy="625.3" r="0.75"/>
<circle class="fw" cx="645.2" cy="658.5" r="0.85"/>
<circle class="fw" cx="592.6" cy="637.3" r="0.55"/>
<circle class="fw" cx="736.5" cy="650.0" r="0.75"/>
<circle class="fw" cx="614.5" cy="647.4" r="0.55"/>
<circle class="fw" cx="707.2" cy="627.2" r="0.85"/>
<circle class="fw" cx="626.3" cy="620.5" r="0.65"/>
<circle class="fw" cx="618.9" cy="633.8" r="0.55"/>
<circle class="fw" cx="700.6" cy="654.1" r="0.85"/>
<circle class="fw" cx="719.9" cy="636.1" r="0.65"/>
<circle class="fw" cx="755.1" cy="641.4" r="0.85"/>
<circle class="fw" cx="655.4" cy="633.8" r="0.65"/>
<circle class="fw" cx="628.3" cy="650.0" r="0.85"/>
<circle class="fw" cx="675.9" cy="658.8" r="0.75"/>
<circle class="fw" cx="649.4" cy="635.9" r="0.55"/>
<circle class="fw" cx="598.3" cy="659.3" r="0.75"/>
<circle class="fw" cx="655.7" cy="678.4" r="0.85"/>
<circle class="fw" cx="612.3" cy="670.0" r="0.85"/>
<circle class="fw" cx="689.7" cy="627.7" r="0.85"/>
<circle class="fw" cx="660.0" cy="619.5" r="0.55"/>
<circle class="fw" cx="667.1" cy="650.4" r="0.65"/>
<circle class="fw" cx="613.6" cy="624.0" r="0.85"/>
<circle class="fw" cx="677.9" cy="636.0" r="0.55"/>
<circle class="fw" cx="754.3" cy="625.6" r="0.65"/>
<circle class="fw" cx="653.8" cy="650.2" r="0.75"/>
<circle class="fw" cx="754.1" cy="650.2" r="0.75"/>
<circle class="fw" cx="727.5" cy="624.3" r="0.65"/>
<circle class="fw" cx="723.9" cy="651.7" r="0.65"/>
<circle class="fw" cx="632.2" cy="650.5" r="0.85"/>
<circle class="fw" cx="604.5" cy="655.9" r="0.65"/>
<circle class="fw" cx="760.0" cy="652.7" r="0.55"/>
<circle class="fw" cx="664.0" cy="617.6" r="0.85"/>
<circle class="fw" cx="654.6" cy="670.3" r="0.55"/>
<circle class="fw" cx="598.9" cy="675.4" r="0.85"/>
<circle class="fw" cx="686.9" cy="670.4" r="0.85"/>
<circle class="fw" cx="683.6" cy="670.7" r="0.75"/>
<circle class="fw" cx="660.2" cy="625.3" r="0.75"/>
<circle class="fw" cx="729.5" cy="650.1" r="0.75"/>
<circle class="fw" cx="764.8" cy="630.3" r="0.85"/>
<circle class="fw" cx="635.7" cy="649.3" r="0.85"/>
<circle class="fw" cx="680.1" cy="666.2" r="0.55"/>
<circle class="fw" cx="742.7" cy="658.0" r="0.75"/>
<circle class="fw" cx="710.6" cy="638.5" r="0.55"/>
<circle class="fw" cx="734.7" cy="623.6" r="0.65"/>
<circle class="fw" cx="596.4" cy="625.9" r="0.65"/>
<circle class="fw" cx="617.0" cy="669.4" r="0.75"/>
<circle class="fw" cx="762.5" cy="630.6" r="0.85"/>
<circle class="fw" cx="588.3" cy="625.5" r="0.85"/>
<circle class="fw" cx="688.2" cy="661.3" r="0.65"/>
<circle class="fw" cx="734.5" cy="664.5" r="0.75"/>
<circle class="fw" cx="663.4" cy="665.3" r="0.65"/>
<circle class="fw" cx="615.6" cy="617.5" r="0.75"/>
<circle class="fw" cx="649.8" cy="622.2" r="0.85"/>
<circle class="fw" cx="652.4" cy="639.1" r="0.55"/>
<circle class="fw" cx="687.7" cy="650.8" r="0.55"/>
<circle class="fw" cx="639.1" cy="672.3" r="0.75"/>
<circle class="fw" cx="610.1" cy="670.1" r="0.75"/>
<circle class="fw" cx="628.3" cy="651.3" r="0.65"/>
<circle class="fw" cx="745.5" cy="621.8" r="0.55"/>
<circle class="fw" cx="695.6" cy="664.0" r="0.75"/>
<circle class="fw" cx="766.2" cy="666.3" r="0.85"/>
<circle class="fw" cx="624.6" cy="640.2" r="0.75"/>
<circle class="fw" cx="594.2" cy="677.9" r="0.75"/>
<circle class="fw" cx="704.8" cy="647.1" r="0.65"/>
<circle class="fw" cx="741.1" cy="656.1" r="0.55"/>
<circle class="fw" cx="706.3" cy="647.9" r="0.65"/>
<circle class="fw" cx="678.3" cy="659.5" r="0.85"/>
<circle class="fw" cx="681.8" cy="641.3" r="0.75"/>
<circle class="fw" cx="763.7" cy="670.6" r="0.65"/>
<circle class="fw" cx="692.1" cy="627.0" r="0.85"/>
<circle class="fw" cx="715.1" cy="679.6" r="0.55"/>
<circle class="fw" cx="621.4" cy="642.6" r="0.65"/>
<circle class="fw" cx="631.4" cy="620.7" r="0.85"/>
<circle class="fw" cx="764.3" cy="660.2" r="0.55"/>
<circle class="fw" cx="663.6" cy="641.4" r="0.65"/>
<circle class="fw" cx="615.5" cy="670.6" r="0.65"/>
<circle class="fw" cx="702.9" cy="625.5" r="0.65"/>
<circle class="fw" cx="716.2" cy="656.5" r="0.65"/>
<circle class="fw" cx="592.7" cy="646.5" r="0.85"/>
<circle class="fw" cx="719.5" cy="625.2" r="0.55"/>
<circle class="fw" cx="740.6" cy="645.8" r="0.65"/>
<circle class="fw" cx="611.8" cy="679.1" r="0.85"/>
<circle class="fw" cx="728.9" cy="678.6" r="0.75"/>
<circle class="fw" cx="678.7" cy="654.4" r="0.75"/>
<circle class="fw" cx="630.3" cy="641.5" r="0.75"/>
<circle class="fw" cx="751.2" cy="651.2" r="0.55"/>
<circle class="fw" cx="662.3" cy="618.9" r="0.65"/>
<circle class="fw" cx="760.0" cy="656.7" r="0.65"/>
<circle class="fw" cx="706.9" cy="659.4" r="0.55"/>
<circle class="fw" cx="586.3" cy="663.4" r="0.65"/>
<circle class="fw" cx="658.0" cy="652.1" r="0.55"/>
<circle class="fw" cx="664.5" cy="675.5" r="0.55"/>
<circle class="fw" cx="677.6" cy="667.2" r="0.55"/>
<circle class="fw" cx="729.1" cy="675.1" r="0.55"/>
<circle class="fw" cx="737.8" cy="679.1" r="0.55"/>
<circle class="fw" cx="612.2" cy="621.3" r="0.75"/>
<circle class="fw" cx="722.8" cy="640.1" r="0.75"/>
<circle class="fw" cx="715.8" cy="623.8" r="0.65"/>
<circle class="fw" cx="664.5" cy="667.5" r="0.55"/>
<circle class="fw" cx="744.5" cy="644.2" r="0.85"/>
<circle class="fw" cx="652.3" cy="634.2" r="0.75"/>
<circle class="fw" cx="766.2" cy="623.0" r="0.75"/>
<circle class="fw" cx="626.6" cy="637.1" r="0.75"/>
<circle class="fw" cx="726.1" cy="647.0" r="0.75"/>
<circle class="fw" cx="585.5" cy="621.7" r="0.55"/>
<circle class="fw" cx="613.5" cy="644.4" r="0.85"/>
<circle class="fw" cx="708.2" cy="671.7" r="0.85"/>
<circle class="fw" cx="745.6" cy="665.4" r="0.85"/>
<circle class="fw" cx="710.5" cy="622.2" r="0.65"/>
<circle class="fw" cx="695.2" cy="627.0" r="0.85"/>
<circle class="fw" cx="641.5" cy="635.4" r="0.65"/>
<circle class="fw" cx="593.3" cy="672.4" r="0.75"/>
<circle class="fw" cx="674.5" cy="652.3" r="0.65"/>
<circle class="fw" cx="752.3" cy="667.9" r="0.85"/>
<circle class="fw" cx="608.6" cy="656.3" r="0.85"/>
<circle class="fw" cx="585.9" cy="645.9" r="0.75"/>
<circle class="fw" cx="598.6" cy="637.9" r="0.55"/>
<circle class="fw" cx="604.4" cy="643.5" r="0.75"/>
<circle class="fw" cx="620.2" cy="642.8" r="0.65"/>
<circle class="fw" cx="753.4" cy="662.4" r="0.55"/>
<circle class="fw" cx="719.0" cy="630.8" r="0.55"/>
<circle class="fw" cx="594.1" cy="667.4" r="0.65"/>
<circle class="fw" cx="588.7" cy="639.9" r="0.55"/>
<circle class="fw" cx="651.6" cy="627.3" r="0.85"/>
<circle class="fw" cx="697.9" cy="622.0" r="0.55"/>
<circle class="fw" cx="752.4" cy="652.2" r="0.85"/>
<circle class="fw" cx="618.4" cy="656.5" r="0.85"/>
<circle class="fw" cx="646.1" cy="622.7" r="0.65"/>
<circle class="fw" cx="640.2" cy="664.7" r="0.55"/>
<circle class="fw" cx="589.9" cy="619.9" r="0.65"/>
<circle class="fw" cx="724.3" cy="661.6" r="0.75"/>
<circle class="fw" cx="614.9" cy="643.3" r="0.85"/>
<circle class="fw" cx="741.7" cy="637.3" r="0.55"/>
<circle class="fw" cx="592.2" cy="679.4" r="0.55"/>
<circle class="fw" cx="763.7" cy="620.1" r="0.85"/>
<circle class="fw" cx="726.2" cy="653.5" r="0.85"/>
<circle class="fw" cx="675.3" cy="643.7" r="0.65"/>
<circle class="fw" cx="684.3" cy="642.2" r="0.65"/>
<circle class="fw" cx="691.4" cy="676.7" r="0.75"/>
<circle class="fw" cx="615.9" cy="678.8" r="0.85"/>
<circle class="fw" cx="635.8" cy="654.4" r="0.55"/>
<circle class="fw" cx="622.5" cy="669.3" r="0.55"/>
<circle class="fw" cx="615.8" cy="652.2" r="0.85"/>
<circle class="fw" cx="743.2" cy="679.6" r="0.85"/>
<circle class="fw" cx="705.3" cy="626.7" r="0.75"/>
<circle class="fw" cx="749.2" cy="651.6" r="0.75"/>
<circle class="fw" cx="708.8" cy="675.6" r="0.65"/>
<circle class="fw" cx="588.7" cy="675.9" r="0.55"/>
<circle class="fw" cx="743.7" cy="632.1" r="0.75"/>
<circle class="fw" cx="759.2" cy="642.6" r="0.75"/>
<circle class="fw" cx="667.0" cy="656.5" r="0.85"/>
<circle class="fw" cx="663.6" cy="620.5" r="0.55"/>
<circle class="fw" cx="607.0" cy="658.8" r="0.55"/>
<circle class="fw" cx="682.2" cy="651.0" r="0.65"/>
<circle class="fw" cx="723.7" cy="650.5" r="0.55"/>
<circle class="fw" cx="589.6" cy="670.4" r="0.85"/>
<circle class="fw" cx="654.6" cy="656.2" r="0.55"/>
<circle class="fw" cx="696.2" cy="670.5" r="0.85"/>
<circle class="fw" cx="592.6" cy="638.7" r="0.65"/>
<circle class="fw" cx="757.1" cy="622.9" r="0.75"/>
<circle class="fw" cx="653.4" cy="628.3" r="0.85"/>
<circle class="fw" cx="622.6" cy="631.9" r="0.65"/>
<circle class="fw" cx="622.5" cy="647.6" r="0.85"/>
<circle class="fw" cx="743.8" cy="678.8" r="0.65"/>
<circle class="fw" cx="723.6" cy="656.5" r="0.55"/>
<circle class="fw" cx="601.5" cy="653.1" r="0.85"/>
<circle class="fw" cx="728.6" cy="665.8" r="0.75"/>
<circle class="fw" cx="607.0" cy="640.9" r="0.85"/>
<circle class="fw" cx="695.6" cy="644.1" r="0.65"/>
<circle class="fw" cx="611.1" cy="668.3" r="0.85"/>
<circle class="fw" cx="606.4" cy="677.0" r="0.75"/>
<circle class="fw" cx="636.7" cy="629.4" r="0.85"/>
<circle class="fw" cx="696.7" cy="668.6" r="0.55"/>
<circle class="fw" cx="591.6" cy="642.3" r="0.55"/>
<circle class="fw" cx="678.3" cy="657.8" r="0.75"/>
<circle class="fw" cx="626.7" cy="619.0" r="0.85"/>
<circle class="fw" cx="722.3" cy="655.5" r="0.55"/>
<circle class="fw" cx="709.9" cy="622.6" r="0.55"/>
<circle class="fw" cx="616.6" cy="654.2" r="0.85"/>
<circle class="fw" cx="617.2" cy="668.6" r="0.75"/>
<circle class="fw" cx="765.5" cy="654.4" r="0.55"/>
<circle class="fw" cx="762.4" cy="622.9" r="0.85"/>
<circle class="fw" cx="650.6" cy="665.6" r="0.85"/>
<circle class="fw" cx="625.3" cy="676.1" r="0.85"/>
<circle class="fw" cx="741.1" cy="661.7" r="0.75"/>
<circle class="fw" cx="606.1" cy="635.3" r="0.65"/>
<circle class="fw" cx="753.5" cy="666.1" r="0.75"/>
<circle class="fw" cx="698.9" cy="672.8" r="0.65"/>
<circle class="fw" cx="596.6" cy="664.6" r="0.55"/>
<circle class="fw" cx="728.6" cy="664.2" r="0.85"/>
<circle class="fw" cx="607.1" cy="671.0" r="0.55"/>
<circle class="fw" cx="711.1" cy="669.7" r="0.55"/>
<circle class="fw" cx="633.6" cy="647.1" r="0.65"/>
<circle class="fw" cx="702.2" cy="637.0" r="0.85"/>
<circle class="fw" cx="621.6" cy="677.3" r="0.85"/>
<circle class="fw" cx="616.4" cy="659.9" r="0.65"/>
<circle class="fw" cx="632.9" cy="634.8" r="0.85"/>
<circle class="fw" cx="631.4" cy="624.3" r="0.65"/>
<circle class="fw" cx="743.5" cy="671.8" r="0.65"/>
<circle class="fw" cx="679.0" cy="631.0" r="0.75"/>
<circle class="fw" cx="586.7" cy="653.3" r="0.55"/>
<circle class="fw" cx="668.3" cy="680.4" r="0.65"/>
<circle class="fw" cx="652.6" cy="664.0" r="0.55"/>
<circle class="fw" cx="640.2" cy="668.9" r="0.85"/>
<circle class="fw" cx="716.1" cy="642.2" r="0.85"/>
<circle class="fw" cx="689.5" cy="637.1" r="0.85"/>
<circle class="fw" cx="713.7" cy="658.3" r="0.75"/>
<circle class="fw" cx="696.3" cy="649.8" r="0.85"/>
<circle class="fw" cx="755.8" cy="653.2" r="0.75"/>
<circle class="fw" cx="665.9" cy="638.3" r="0.65"/>
<circle class="fw" cx="660.6" cy="651.1" r="0.75"/>
<circle class="fw" cx="730.6" cy="625.5" r="0.75"/>
<circle class="fw" cx="727.4" cy="648.8" r="0.85"/>
<circle class="fw" cx="624.6" cy="674.0" r="0.75"/>
<circle class="fw" cx="677.1" cy="616.7" r="0.65"/>
<circle class="fw" cx="733.4" cy="671.9" r="0.85"/>
<circle class="fw" cx="708.5" cy="648.2" r="0.55"/>
<circle class="fw" cx="623.4" cy="660.7" r="0.85"/>
<circle class="fw" cx="635.7" cy="644.8" r="0.65"/>
<circle class="fw" cx="678.9" cy="654.1" r="0.75"/>
<circle class="fw" cx="686.6" cy="626.5" r="0.55"/>
<circle class="fw" cx="662.9" cy="651.1" r="0.65"/>
<circle class="fw" cx="670.1" cy="672.0" r="0.85"/>
<circle class="fw" cx="625.8" cy="631.7" r="0.65"/>
<circle class="fw" cx="717.2" cy="646.1" r="0.85"/>
<circle class="fw" cx="717.5" cy="633.2" r="0.55"/>
<circle class="fw" cx="758.8" cy="664.7" r="0.85"/>
<circle class="fw" cx="655.6" cy="656.4" r="0.65"/>
<circle class="fw" cx="599.3" cy="632.9" r="0.65"/>
<circle class="fw" cx="678.4" cy="660.1" r="0.55"/>
<circle class="fw" cx="591.9" cy="647.3" r="0.65"/>
<circle class="fw" cx="748.4" cy="669.9" r="0.55"/>
<circle class="fw" cx="634.4" cy="666.8" r="0.85"/>
<circle class="fw" cx="650.4" cy="628.3" r="0.55"/>
<circle class="fw" cx="646.4" cy="648.9" r="0.75"/>
<circle class="fw" cx="593.0" cy="667.8" r="0.75"/>
<circle class="fw" cx="726.3" cy="642.9" r="0.85"/>
<circle class="fw" cx="588.4" cy="645.7" r="0.85"/>
<circle class="fw" cx="679.7" cy="663.2" r="0.85"/>
<circle class="fw" cx="612.3" cy="618.2" r="0.85"/>
<circle class="fw" cx="732.1" cy="656.5" r="0.85"/>
<circle class="fw" cx="676.6" cy="642.5" r="0.65"/>
<circle class="fw" cx="749.7" cy="639.6" r="0.75"/>
<circle class="fw" cx="698.3" cy="658.0" r="0.65"/>
<circle class="fw" cx="686.5" cy="617.0" r="0.65"/>
<circle class="fw" cx="595.4" cy="650.0" r="0.65"/>
<circle class="fw" cx="604.4" cy="634.2" r="0.55"/>
<circle class="fw" cx="644.3" cy="665.7" r="0.55"/>
<circle class="fw" cx="609.0" cy="679.5" r="0.55"/>
<circle class="fw" cx="599.0" cy="639.7" r="0.75"/>
<circle class="fw" cx="748.9" cy="622.4" r="0.65"/>
<circle class="fw" cx="630.5" cy="654.7" r="0.85"/>
<circle class="fw" cx="703.0" cy="649.3" r="0.55"/>
<circle class="fw" cx="676.0" cy="643.4" r="0.65"/>
<circle class="fw" cx="755.8" cy="636.9" r="0.55"/>
<circle class="fw" cx="675.4" cy="670.2" r="0.55"/>
<circle class="fw" cx="681.4" cy="643.8" r="0.75"/>
<circle class="fw" cx="697.6" cy="616.9" r="0.55"/>
<circle class="fw" cx="706.3" cy="639.3" r="0.75"/>
<circle class="fw" cx="719.5" cy="673.2" r="0.75"/>
<circle class="fw" cx="747.3" cy="630.8" r="0.75"/>
<circle class="fw" cx="684.9" cy="643.2" r="0.85"/>
<circle class="fw" cx="736.7" cy="633.9" r="0.75"/>
<circle class="fw" cx="603.1" cy="621.3" r="0.85"/>
<circle class="fw" cx="604.5" cy="661.6" r="0.55"/>
<circle class="fw" cx="647.1" cy="669.9" r="0.55"/>
<circle class="fw" cx="596.4" cy="644.9" r="0.55"/>
<circle class="fw" cx="762.8" cy="636.7" r="0.65"/>
<circle class="fw" cx="644.9" cy="620.4" r="0.65"/>
<circle class="fw" cx="671.0" cy="626.4" r="0.75"/>
<circle class="fw" cx="671.4" cy="674.1" r="0.75"/>
<circle class="fw" cx="616.1" cy="617.8" r="0.65"/>
<circle class="fw" cx="744.5" cy="662.3" r="0.65"/>
<circle class="fw" cx="598.2" cy="640.8" r="0.55"/>
<circle class="fw" cx="601.6" cy="645.4" r="0.85"/>
<circle class="fw" cx="626.1" cy="667.0" r="0.75"/>
<circle class="fw" cx="667.2" cy="632.9" r="0.55"/>
<circle class="fw" cx="617.6" cy="635.0" r="0.65"/>
<circle class="fw" cx="685.7" cy="664.4" r="0.75"/>
<circle class="fw" cx="709.6" cy="625.6" r="0.65"/>
<circle class="fw" cx="706.6" cy="638.8" r="0.65"/>
<circle class="fw" cx="650.3" cy="643.0" r="0.55"/>
<circle class="fw" cx="591.6" cy="671.6" r="0.55"/>
<circle class="fw" cx="612.7" cy="679.4" r="0.85"/>
<circle class="fw" cx="630.7" cy="637.0" r="0.85"/>
<circle class="fw" cx="676.2" cy="667.6" r="0.65"/>
<circle class="fw" cx="678.7" cy="669.7" r="0.65"/>
<circle class="fw" cx="603.6" cy="676.1" r="0.65"/>
<circle class="fw" cx="752.7" cy="628.2" r="0.75"/>
<circle class="fw" cx="647.7" cy="643.4" r="0.85"/>
<circle class="fw" cx="608.3" cy="655.2" r="0.85"/>
<circle class="fw" cx="651.0" cy="629.2" r="0.75"/>
<circle class="fw" cx="733.4" cy="625.0" r="0.85"/>
<circle class="fw" cx="724.9" cy="645.8" r="0.65"/>
<circle class="fw" cx="711.4" cy="636.6" r="0.55"/>
<circle class="fw" cx="604.8" cy="623.2" r="0.75"/>
<circle class="fw" cx="698.3" cy="652.3" r="0.75"/>
<circle class="fw" cx="709.7" cy="622.9" r="0.55"/>
<circle class="fw" cx="734.7" cy="663.4" r="0.75"/>
<circle class="fw" cx="714.2" cy="674.3" r="0.75"/>
<circle class="fw" cx="696.7" cy="670.4" r="0.65"/>
<circle class="fw" cx="621.1" cy="626.6" r="0.85"/>
<circle class="fw" cx="640.7" cy="625.6" r="0.85"/>
<circle class="fw" cx="728.0" cy="676.7" r="0.65"/>
<circle class="fw" cx="677.1" cy="645.4" r="0.65"/>
<circle class="fw" cx="671.8" cy="617.2" r="0.55"/>
<circle class="fw" cx="684.6" cy="625.0" r="0.75"/>
<circle class="fw" cx="621.7" cy="666.1" r="0.85"/>
<circle class="fw" cx="719.6" cy="644.8" r="0.75"/>
<path class="fw" d="M638.7 621.7 L642.0 621.3 L640.7 624.4 Z"/>
<path class="fw" d="M607.3 637.3 L604.0 636.9 L606.0 634.2 Z"/>
<path class="fw" d="M689.5 663.0 L690.8 666.4 L687.3 665.8 Z"/>
<path class="fw" d="M657.3 624.8 L656.6 628.4 L653.9 626.0 Z"/>
<path class="fw" d="M637.4 630.6 L634.5 628.8 L637.5 627.2 Z"/>
<path class="fw" d="M705.8 659.6 L702.7 657.0 L706.5 655.7 Z"/>
<path class="fw" d="M738.7 627.6 L735.1 626.1 L738.2 623.8 Z"/>
<path class="fw" d="M596.8 645.2 L596.1 649.2 L593.0 646.6 Z"/>
<path class="fw" d="M696.8 656.2 L692.6 655.1 L695.6 652.0 Z"/>
<path class="fw" d="M759.7 666.4 L757.0 664.9 L759.7 663.3 Z"/>
<path class="fw" d="M679.7 627.7 L683.1 625.7 L683.1 629.6 Z"/>
<path class="fw" d="M599.9 629.2 L603.2 628.3 L602.3 631.6 Z"/>
<path class="fw" d="M607.5 661.4 L604.3 660.1 L607.0 658.0 Z"/>
<path class="fw" d="M623.8 655.8 L623.7 659.0 L621.0 657.3 Z"/>
<path class="fw" d="M758.9 638.1 L759.6 642.4 L755.6 640.8 Z"/>
<path class="fw" d="M722.1 625.7 L724.9 626.7 L722.7 628.6 Z"/>
<path class="fw" d="M628.5 669.8 L624.6 667.9 L628.2 665.5 Z"/>
<path class="fw" d="M600.7 654.2 L604.2 655.4 L601.4 657.8 Z"/>
<path class="fw" d="M748.1 657.5 L751.3 660.2 L747.3 661.7 Z"/>
<path class="fw" d="M589.1 671.7 L589.8 675.2 L586.4 674.1 Z"/>
<path class="fw" d="M675.4 648.3 L675.9 652.6 L671.9 650.9 Z"/>
<path class="fw" d="M601.7 635.2 L601.9 632.1 L604.5 633.8 Z"/>
<path class="fw" d="M616.7 658.9 L616.9 662.8 L613.4 661.0 Z"/>
<path class="fw" d="M642.8 645.0 L639.9 646.0 L640.5 643.0 Z"/>
<path class="fw" d="M613.3 622.8 L615.6 619.4 L617.4 623.1 Z"/>
<path class="fw" d="M620.2 654.9 L617.4 656.5 L617.4 653.3 Z"/>
<path class="fw" d="M715.2 635.1 L717.1 631.3 L719.4 634.8 Z"/>
<path class="fw" d="M682.6 670.1 L679.8 673.1 L678.6 669.1 Z"/>
<path class="fw" d="M684.0 627.4 L687.7 627.4 L685.9 630.6 Z"/>
<path class="fw" d="M703.7 677.6 L702.9 680.5 L700.8 678.3 Z"/>
<path class="fw" d="M755.1 670.6 L756.6 673.9 L753.0 673.6 Z"/>
<path class="fw" d="M653.6 636.1 L653.1 640.3 L649.8 637.7 Z"/>
<path class="fw" d="M694.4 673.1 L695.8 669.1 L698.5 672.4 Z"/>
<path class="fw" d="M623.7 646.0 L622.7 642.4 L626.3 643.3 Z"/>
<path class="fw" d="M628.1 638.6 L630.8 640.9 L627.4 642.1 Z"/>
<path class="fw" d="M655.3 627.1 L658.0 628.6 L655.4 630.2 Z"/>
<path class="fw" d="M751.0 662.9 L753.9 663.4 L752.0 665.8 Z"/>
<path class="fw" d="M680.0 656.0 L681.5 659.7 L677.4 659.2 Z"/>
<path class="fw" d="M758.3 671.6 L755.9 673.5 L755.5 670.5 Z"/>
<path class="fw" d="M610.9 638.4 L610.0 635.5 L613.0 636.2 Z"/>
<path class="fw" d="M647.3 673.1 L643.9 672.7 L645.9 670.0 Z"/>
<path class="fw" d="M633.2 628.5 L629.9 629.6 L630.6 626.2 Z"/>
<path class="fw" d="M668.2 642.7 L671.2 640.3 L671.8 644.1 Z"/>
<path class="fw" d="M587.5 641.8 L586.9 638.7 L589.9 639.6 Z"/>
<path class="fw" d="M694.1 638.4 L690.1 639.6 L691.1 635.5 Z"/>
<path class="fw" d="M647.1 637.7 L649.8 635.9 L650.0 639.1 Z"/>
<path class="fw" d="M635.3 633.2 L633.7 630.2 L637.1 630.3 Z"/>
<path class="fw" d="M620.3 647.2 L622.4 649.7 L619.2 650.3 Z"/>
<path class="fw" d="M630.4 625.4 L633.0 628.0 L629.5 629.0 Z"/>
<path class="fw" d="M738.6 648.1 L738.7 644.1 L742.1 646.2 Z"/>
<path class="fw" d="M716.5 632.3 L720.0 634.9 L716.0 636.6 Z"/>
<path class="fw" d="M687.7 622.4 L688.3 618.9 L691.0 621.1 Z"/>
<path class="fw" d="M682.2 628.9 L679.5 631.1 L678.9 627.7 Z"/>
<path class="fw" d="M675.5 646.8 L679.3 645.8 L678.3 649.6 Z"/>
<path class="fw" d="M604.6 647.2 L607.7 649.0 L604.6 650.8 Z"/>
<path class="fw" d="M612.8 630.0 L615.9 628.9 L615.3 632.1 Z"/>
<path class="fw" d="M688.3 660.2 L684.9 661.8 L685.2 658.0 Z"/>
<path class="fw" d="M627.0 666.9 L629.8 664.9 L630.1 668.3 Z"/>
<path class="fw" d="M677.8 632.3 L677.9 635.9 L674.8 634.2 Z"/>
<path class="fw" d="M611.2 626.9 L612.8 623.3 L615.1 626.5 Z"/>
<path class="fw" d="M691.9 653.4 L694.3 650.8 L695.3 654.1 Z"/>
<path class="fw" d="M705.6 625.7 L707.8 628.6 L704.2 629.1 Z"/>
<path class="fw" d="M738.7 631.1 L738.7 634.6 L735.7 632.8 Z"/>
<path class="fw" d="M724.3 668.8 L726.6 671.7 L722.9 672.2 Z"/>
<path class="fw" d="M765.1 662.1 L763.2 664.5 L762.0 661.7 Z"/>
<path class="fw" d="M611.9 633.0 L608.8 631.6 L611.6 629.6 Z"/>
<path class="fw" d="M698.2 652.5 L695.6 655.7 L694.1 651.8 Z"/>
<path class="fw" d="M619.2 655.9 L621.9 658.6 L618.2 659.6 Z"/>
<path class="fw" d="M720.9 626.3 L717.5 625.0 L720.4 622.7 Z"/>
<path class="fw" d="M672.0 622.9 L667.9 622.0 L670.7 618.9 Z"/>
<path class="fw" d="M749.0 633.7 L753.0 634.0 L750.8 637.3 Z"/>
<path class="fw" d="M624.1 631.0 L620.0 632.0 L621.2 627.9 Z"/>
<path class="fw" d="M722.7 677.9 L723.5 674.0 L726.4 676.7 Z"/>
<path class="fw" d="M710.4 619.5 L712.3 622.5 L708.7 622.6 Z"/>
<path class="fw" d="M732.0 653.7 L730.2 650.0 L734.3 650.3 Z"/>
<path class="fw" d="M683.0 671.1 L685.9 671.3 L684.3 673.7 Z"/>
<path class="fw" d="M694.1 662.5 L695.8 659.4 L697.6 662.4 Z"/>
<path class="fw" d="M661.8 666.1 L665.5 666.0 L663.7 669.2 Z"/>
<path class="fw" d="M725.2 644.8 L723.3 647.5 L721.9 644.6 Z"/>
<path class="fw" d="M685.7 652.3 L684.2 649.6 L687.3 649.7 Z"/>
<path class="jb" d="M602.6 574.4 L602.6 614.6 L610.1 614.6" style="stroke-width:3.7"/>
<circle class="fc" cx="602.6" cy="574.4" r="2.7"/>
<path class="jb" d="M640.7 574.4 L640.7 614.6 L633.2 614.6" style="stroke-width:3.7"/>
<circle class="fc" cx="640.7" cy="574.4" r="2.7"/>
<clipPath id="clipG1"><path d="M521.1 620.6 L581.6 616.2 L581.6 642.2 L521.1 644.8 Z"/></clipPath>
<g clip-path="url(#clipG1)">
<line class="w" x1="514.9" y1="612.5" x2="527.1" y2="612.5" style="stroke-width:1.75"/>
<line class="w" x1="514.9" y1="616.0" x2="527.1" y2="616.0" style="stroke-width:1.75"/>
<line class="w" x1="514.9" y1="619.5" x2="527.1" y2="619.5" style="stroke-width:1.75"/>
<line class="w" x1="517.5" y1="620.3" x2="517.5" y2="632.5" style="stroke-width:1.75"/>
<line class="w" x1="521.0" y1="620.3" x2="521.0" y2="632.5" style="stroke-width:1.75"/>
<line class="w" x1="524.5" y1="620.3" x2="524.5" y2="632.5" style="stroke-width:1.75"/>
<line class="w" x1="514.9" y1="633.3" x2="527.1" y2="633.3" style="stroke-width:1.75"/>
<line class="w" x1="514.9" y1="636.8" x2="527.1" y2="636.8" style="stroke-width:1.75"/>
<line class="w" x1="514.9" y1="640.3" x2="527.1" y2="640.3" style="stroke-width:1.75"/>
<line class="w" x1="517.5" y1="641.1" x2="517.5" y2="653.3" style="stroke-width:1.75"/>
<line class="w" x1="521.0" y1="641.1" x2="521.0" y2="653.3" style="stroke-width:1.75"/>
<line class="w" x1="524.5" y1="641.1" x2="524.5" y2="653.3" style="stroke-width:1.75"/>
<line class="w" x1="527.9" y1="609.9" x2="527.9" y2="622.1" style="stroke-width:1.75"/>
<line class="w" x1="531.4" y1="609.9" x2="531.4" y2="622.1" style="stroke-width:1.75"/>
<line class="w" x1="534.9" y1="609.9" x2="534.9" y2="622.1" style="stroke-width:1.75"/>
<line class="w" x1="525.3" y1="622.9" x2="537.5" y2="622.9" style="stroke-width:1.75"/>
<line class="w" x1="525.3" y1="626.4" x2="537.5" y2="626.4" style="stroke-width:1.75"/>
<line class="w" x1="525.3" y1="629.9" x2="537.5" y2="629.9" style="stroke-width:1.75"/>
<line class="w" x1="527.9" y1="630.7" x2="527.9" y2="642.9" style="stroke-width:1.75"/>
<line class="w" x1="531.4" y1="630.7" x2="531.4" y2="642.9" style="stroke-width:1.75"/>
<line class="w" x1="534.9" y1="630.7" x2="534.9" y2="642.9" style="stroke-width:1.75"/>
<line class="w" x1="525.3" y1="643.7" x2="537.5" y2="643.7" style="stroke-width:1.75"/>
<line class="w" x1="525.3" y1="647.2" x2="537.5" y2="647.2" style="stroke-width:1.75"/>
<line class="w" x1="525.3" y1="650.7" x2="537.5" y2="650.7" style="stroke-width:1.75"/>
<line class="w" x1="535.7" y1="612.5" x2="547.9" y2="612.5" style="stroke-width:1.75"/>
<line class="w" x1="535.7" y1="616.0" x2="547.9" y2="616.0" style="stroke-width:1.75"/>
<line class="w" x1="535.7" y1="619.5" x2="547.9" y2="619.5" style="stroke-width:1.75"/>
<line class="w" x1="538.3" y1="620.3" x2="538.3" y2="632.5" style="stroke-width:1.75"/>
<line class="w" x1="541.8" y1="620.3" x2="541.8" y2="632.5" style="stroke-width:1.75"/>
<line class="w" x1="545.3" y1="620.3" x2="545.3" y2="632.5" style="stroke-width:1.75"/>
<line class="w" x1="535.7" y1="633.3" x2="547.9" y2="633.3" style="stroke-width:1.75"/>
<line class="w" x1="535.7" y1="636.8" x2="547.9" y2="636.8" style="stroke-width:1.75"/>
<line class="w" x1="535.7" y1="640.3" x2="547.9" y2="640.3" style="stroke-width:1.75"/>
<line class="w" x1="538.3" y1="641.1" x2="538.3" y2="653.3" style="stroke-width:1.75"/>
<line class="w" x1="541.8" y1="641.1" x2="541.8" y2="653.3" style="stroke-width:1.75"/>
<line class="w" x1="545.3" y1="641.1" x2="545.3" y2="653.3" style="stroke-width:1.75"/>
<line class="w" x1="548.7" y1="609.9" x2="548.7" y2="622.1" style="stroke-width:1.75"/>
<line class="w" x1="552.2" y1="609.9" x2="552.2" y2="622.1" style="stroke-width:1.75"/>
<line class="w" x1="555.7" y1="609.9" x2="555.7" y2="622.1" style="stroke-width:1.75"/>
<line class="w" x1="546.1" y1="622.9" x2="558.3" y2="622.9" style="stroke-width:1.75"/>
<line class="w" x1="546.1" y1="626.4" x2="558.3" y2="626.4" style="stroke-width:1.75"/>
<line class="w" x1="546.1" y1="629.9" x2="558.3" y2="629.9" style="stroke-width:1.75"/>
<line class="w" x1="548.7" y1="630.7" x2="548.7" y2="642.9" style="stroke-width:1.75"/>
<line class="w" x1="552.2" y1="630.7" x2="552.2" y2="642.9" style="stroke-width:1.75"/>
<line class="w" x1="555.7" y1="630.7" x2="555.7" y2="642.9" style="stroke-width:1.75"/>
<line class="w" x1="546.1" y1="643.7" x2="558.3" y2="643.7" style="stroke-width:1.75"/>
<line class="w" x1="546.1" y1="647.2" x2="558.3" y2="647.2" style="stroke-width:1.75"/>
<line class="w" x1="546.1" y1="650.7" x2="558.3" y2="650.7" style="stroke-width:1.75"/>
<line class="w" x1="556.5" y1="612.5" x2="568.7" y2="612.5" style="stroke-width:1.75"/>
<line class="w" x1="556.5" y1="616.0" x2="568.7" y2="616.0" style="stroke-width:1.75"/>
<line class="w" x1="556.5" y1="619.5" x2="568.7" y2="619.5" style="stroke-width:1.75"/>
<line class="w" x1="559.1" y1="620.3" x2="559.1" y2="632.5" style="stroke-width:1.75"/>
<line class="w" x1="562.6" y1="620.3" x2="562.6" y2="632.5" style="stroke-width:1.75"/>
<line class="w" x1="566.1" y1="620.3" x2="566.1" y2="632.5" style="stroke-width:1.75"/>
<line class="w" x1="556.5" y1="633.3" x2="568.7" y2="633.3" style="stroke-width:1.75"/>
<line class="w" x1="556.5" y1="636.8" x2="568.7" y2="636.8" style="stroke-width:1.75"/>
<line class="w" x1="556.5" y1="640.3" x2="568.7" y2="640.3" style="stroke-width:1.75"/>
<line class="w" x1="559.1" y1="641.1" x2="559.1" y2="653.3" style="stroke-width:1.75"/>
<line class="w" x1="562.6" y1="641.1" x2="562.6" y2="653.3" style="stroke-width:1.75"/>
<line class="w" x1="566.1" y1="641.1" x2="566.1" y2="653.3" style="stroke-width:1.75"/>
<line class="w" x1="569.5" y1="609.9" x2="569.5" y2="622.1" style="stroke-width:1.75"/>
<line class="w" x1="573.0" y1="609.9" x2="573.0" y2="622.1" style="stroke-width:1.75"/>
<line class="w" x1="576.5" y1="609.9" x2="576.5" y2="622.1" style="stroke-width:1.75"/>
<line class="w" x1="566.9" y1="622.9" x2="579.1" y2="622.9" style="stroke-width:1.75"/>
<line class="w" x1="566.9" y1="626.4" x2="579.1" y2="626.4" style="stroke-width:1.75"/>
<line class="w" x1="566.9" y1="629.9" x2="579.1" y2="629.9" style="stroke-width:1.75"/>
<line class="w" x1="569.5" y1="630.7" x2="569.5" y2="642.9" style="stroke-width:1.75"/>
<line class="w" x1="573.0" y1="630.7" x2="573.0" y2="642.9" style="stroke-width:1.75"/>
<line class="w" x1="576.5" y1="630.7" x2="576.5" y2="642.9" style="stroke-width:1.75"/>
<line class="w" x1="566.9" y1="643.7" x2="579.1" y2="643.7" style="stroke-width:1.75"/>
<line class="w" x1="566.9" y1="647.2" x2="579.1" y2="647.2" style="stroke-width:1.75"/>
<line class="w" x1="566.9" y1="650.7" x2="579.1" y2="650.7" style="stroke-width:1.75"/>
<line class="w" x1="577.3" y1="612.5" x2="589.5" y2="612.5" style="stroke-width:1.75"/>
<line class="w" x1="577.3" y1="616.0" x2="589.5" y2="616.0" style="stroke-width:1.75"/>
<line class="w" x1="577.3" y1="619.5" x2="589.5" y2="619.5" style="stroke-width:1.75"/>
<line class="w" x1="579.9" y1="620.3" x2="579.9" y2="632.5" style="stroke-width:1.75"/>
<line class="w" x1="583.4" y1="620.3" x2="583.4" y2="632.5" style="stroke-width:1.75"/>
<line class="w" x1="586.9" y1="620.3" x2="586.9" y2="632.5" style="stroke-width:1.75"/>
<line class="w" x1="577.3" y1="633.3" x2="589.5" y2="633.3" style="stroke-width:1.75"/>
<line class="w" x1="577.3" y1="636.8" x2="589.5" y2="636.8" style="stroke-width:1.75"/>
<line class="w" x1="577.3" y1="640.3" x2="589.5" y2="640.3" style="stroke-width:1.75"/>
<line class="w" x1="579.9" y1="641.1" x2="579.9" y2="653.3" style="stroke-width:1.75"/>
<line class="w" x1="583.4" y1="641.1" x2="583.4" y2="653.3" style="stroke-width:1.75"/>
<line class="w" x1="586.9" y1="641.1" x2="586.9" y2="653.3" style="stroke-width:1.75"/>
</g>
<text class="t" x="347.8" y="112.8" font-size="12.6" textLength="144.1" lengthAdjust="spacingAndGlyphs">(2) SIMPSON CS16 STRAP</text>
<text class="t" x="347.8" y="127.4" font-size="12.6" textLength="137.2" lengthAdjust="spacingAndGlyphs">WITH 8d NAILS. (EXTEND</text>
<text class="t" x="347.8" y="141.5" font-size="12.6" textLength="148.6" lengthAdjust="spacingAndGlyphs">TO WALL TOP PLATE AND</text>
<text class="t" x="347.8" y="155.8" font-size="12.6" textLength="110.6" lengthAdjust="spacingAndGlyphs">EXTEND 20" UNDER</text>
<text class="t" x="347.8" y="169.8" font-size="12.6" textLength="53.9" lengthAdjust="spacingAndGlyphs">HEADER).</text>
<text class="t" x="347.8" y="230.3" font-size="12.6" textLength="96.3" lengthAdjust="spacingAndGlyphs">(2) ROWS OF 16d</text>
<text class="t" x="347.8" y="244.1" font-size="12.6" textLength="84.1" lengthAdjust="spacingAndGlyphs">NAILS @ 3" OC</text>
<text class="t" x="347.8" y="355.5" font-size="12.6" textLength="147.8" lengthAdjust="spacingAndGlyphs">MIN (2)2X WALL FRAMING.</text>
<text class="t" x="347.8" y="369.3" font-size="12.6" textLength="117.5" lengthAdjust="spacingAndGlyphs">SEE PLAN FOR STUD</text>
<text class="t" x="347.8" y="382.8" font-size="12.6" textLength="136.6" lengthAdjust="spacingAndGlyphs">COLUMN REQUIREMENTS.</text>
<text class="t" x="348.3" y="509.6" font-size="12.6" textLength="105.4" lengthAdjust="spacingAndGlyphs">TREATED SILLPLATE</text>
<text class="t" x="347.5" y="615.8" font-size="12.6" textLength="119.9" lengthAdjust="spacingAndGlyphs">½" ANCHOR BOLTS PER</text>
<text class="t" x="347.5" y="628.1" font-size="12.6" textLength="122.5" lengthAdjust="spacingAndGlyphs">R403.1.6 WITH 2"x2"x³⁄₁₆"</text>
<text class="t" x="347.5" y="639.4" font-size="12.6" textLength="87.9" lengthAdjust="spacingAndGlyphs">PLATE WASHERS.</text>
<line class="c" x1="491.9" y1="107.2" x2="509.6" y2="107.2"/>
<line class="c" x1="509.6" y1="107.2" x2="646.2" y2="186.8"/>
<path class="fc" d="M646.2 186.8 L638.7 184.2 L640.2 181.5 Z"/>
<line class="c" x1="444.6" y1="226.3" x2="561.3" y2="226.3"/>
<line class="c" x1="561.3" y1="226.3" x2="614.4" y2="210.6"/>
<path class="fc" d="M614.4 210.6 L607.3 214.3 L606.4 211.4 Z"/>
<line class="c" x1="482.3" y1="363.1" x2="542.2" y2="363.1"/>
<line class="c" x1="542.2" y1="363.1" x2="581.2" y2="412.7"/>
<path class="fc" d="M581.2 412.7 L575.2 407.5 L577.5 405.6 Z"/>
<line class="c" x1="542.2" y1="363.1" x2="644.9" y2="439.2"/>
<path class="fc" d="M644.9 439.2 L637.7 435.7 L639.5 433.3 Z"/>
<line class="c" x1="461.1" y1="505.9" x2="540.8" y2="505.9"/>
<line class="c" x1="540.8" y1="505.9" x2="616.3" y2="574.8"/>
<path class="fc" d="M616.3 574.8 L609.5 570.6 L611.5 568.4 Z"/>
<line class="c" x1="470.0" y1="622.6" x2="504.9" y2="622.6"/>
<line class="c" x1="504.9" y1="622.6" x2="601.9" y2="593.7"/>
<path class="fc" d="M601.9 593.7 L594.8 597.4 L593.9 594.5 Z"/>
<path class="c" d="M343.1 653.5 L561.8 653.5 L561.8 750.5 L343.1 750.5 Z"/>
<text class="t" x="350.2" y="669.6" font-size="11.7" textLength="176.9" lengthAdjust="spacingAndGlyphs">NOTE: FOR CMU APPLICATIONS AT</text>
<text class="t" x="350.2" y="682.2" font-size="11.7" textLength="208.4" lengthAdjust="spacingAndGlyphs">GARAGE DOORS, ANCHOR BOLTS SHALL</text>
<text class="t" x="350.2" y="695.8" font-size="11.7" textLength="194.0" lengthAdjust="spacingAndGlyphs">BE ⅝" DIAMETER AND SHALL EXTEND</text>
<text class="t" x="350.2" y="707.8" font-size="11.7" textLength="161.7" lengthAdjust="spacingAndGlyphs">TO FOOTING (PER NCRC FIGURE</text>
<text class="t" x="350.2" y="721.0" font-size="11.7" textLength="192.7" lengthAdjust="spacingAndGlyphs">R602.10.7 (SEE GARAGE "WING WALL"</text>
<text class="t" x="350.2" y="733.8" font-size="11.7" textLength="163.8" lengthAdjust="spacingAndGlyphs">DETAIL ON STRUCTURAL PLANS)</text>
<path class="c" d="M561.8 688.9 L579.6 688.9 L633.3 616.8"/>
<text class="t" x="754.5" y="103.7" font-size="11.8" textLength="156.6" lengthAdjust="spacingAndGlyphs">NOTE: AT INTERMEDIATE WALL</text>
<text class="t" x="754.5" y="115.9" font-size="11.8" textLength="181.8" lengthAdjust="spacingAndGlyphs">SEGMENTS BETWEEN OPENINGS, THE</text>
<text class="t" x="754.5" y="127.8" font-size="11.8" textLength="172.9" lengthAdjust="spacingAndGlyphs">STRAPS SHALL BE INSTALLED AT</text>
<text class="t" x="754.5" y="140.2" font-size="11.8" textLength="184.4" lengthAdjust="spacingAndGlyphs">THE STUD COLUMN ON EACH END OF</text>
<text class="t" x="754.5" y="152.5" font-size="11.8" textLength="103.9" lengthAdjust="spacingAndGlyphs">THE WALL SEGMENT.</text>
<line class="c" x1="753.0" y1="125.8" x2="664.8" y2="125.8"/>
<path class="fc" d="M664.8 125.8 L672.7 124.3 L672.7 127.3 Z"/>
<text class="t" x="742.2" y="238.7" font-size="11.8" textLength="168.2" lengthAdjust="spacingAndGlyphs">MIN. 3"x11.25" HEADER. SEE PLAN</text>
<text class="t" x="742.2" y="250.9" font-size="11.8" textLength="137.7" lengthAdjust="spacingAndGlyphs">FOR ACTUAL SIZE. EXTEND</text>
<text class="t" x="742.2" y="263.5" font-size="11.8" textLength="68.7" lengthAdjust="spacingAndGlyphs">OVER PANEL.</text>
<line class="c" x1="741.0" y1="261.6" x2="721.8" y2="261.6"/>
<line class="c" x1="721.8" y1="261.6" x2="701.6" y2="203.4"/>
<path class="fc" d="M701.6 203.4 L705.6 210.3 L702.7 211.3 Z"/>
<text class="t" x="742.6" y="322.6" font-size="11.8" textLength="162.8" lengthAdjust="spacingAndGlyphs">FASTEN SHEATHING TO HEADER</text>
<text class="t" x="742.6" y="335.3" font-size="11.8" textLength="170.4" lengthAdjust="spacingAndGlyphs">W/ 8d COMMON NAILS IN 3" GRID</text>
<text class="t" x="742.6" y="347.8" font-size="11.8" textLength="148.6" lengthAdjust="spacingAndGlyphs">PATTERN AND 3" O.C. IN ALL</text>
<text class="t" x="742.6" y="361.1" font-size="11.8" textLength="171.1" lengthAdjust="spacingAndGlyphs">FRAMING (STUDS, BLOCKING, AND</text>
<text class="t" x="742.6" y="374.1" font-size="11.8" textLength="58.4" lengthAdjust="spacingAndGlyphs">SILLS) TYP.</text>
<text class="t" x="742.6" y="419.8" font-size="11.8" textLength="126.4" lengthAdjust="spacingAndGlyphs">PANEL EDGES SHALL BE</text>
<text class="t" x="742.6" y="432.4" font-size="11.8" textLength="172.4" lengthAdjust="spacingAndGlyphs">BLOCKED AND OCCUR WITHIN 24"</text>
<text class="t" x="742.6" y="444.6" font-size="11.8" textLength="153.2" lengthAdjust="spacingAndGlyphs">OF MID-HEIGHT.  ONE ROW OF</text>
<text class="t" x="742.6" y="457.0" font-size="11.8" textLength="150.8" lengthAdjust="spacingAndGlyphs">TYP. SHEATHING-TO-FRAMING</text>
<text class="t" x="742.6" y="469.8" font-size="11.8" textLength="132.0" lengthAdjust="spacingAndGlyphs">NAILING IS REQ'D (3" OC).</text>
<text class="t" x="742.6" y="482.6" font-size="11.8" textLength="170.2" lengthAdjust="spacingAndGlyphs">ATTACH BLOCKING TOGETHER W/</text>
<text class="t" x="742.6" y="495.8" font-size="11.8" textLength="82.9" lengthAdjust="spacingAndGlyphs">(3) 16d SINKERS.</text>
<line class="c" x1="915.7" y1="338.2" x2="937.5" y2="338.2"/>
<line class="c" x1="937.5" y1="338.2" x2="990.0" y2="200.0"/>
<path class="fc" d="M990.0 200.0 L988.6 207.9 L985.8 206.8 Z"/>
<line class="c" x1="901.8" y1="443.6" x2="974.0" y2="443.6"/>
<line class="c" x1="974.0" y1="443.6" x2="992.1" y2="402.9"/>
<path class="fc" d="M992.1 402.9 L990.3 410.7 L987.5 409.5 Z"/>
<text class="t" x="734.3" y="576.0" font-size="10.6" textLength="74.7" lengthAdjust="spacingAndGlyphs">OPTIONAL CURB:</text>
<text class="t" x="734.3" y="587.8" font-size="10.6" textLength="104.3" lengthAdjust="spacingAndGlyphs">CURB HEIGHT (MAX): 6"</text>
<text class="t" x="734.3" y="598.8" font-size="10.6" textLength="70.8" lengthAdjust="spacingAndGlyphs">CURB WIDTH: 8"</text>
<line class="c" x1="730.3" y1="572.7" x2="717.2" y2="572.7"/>
<line class="c" x1="717.2" y1="572.7" x2="661.5" y2="601.6"/>
<path class="fc" d="M661.5 601.6 L667.8 596.6 L669.2 599.3 Z"/>
<text class="t" x="766.5" y="705.0" font-size="10.6" textLength="130.4" lengthAdjust="spacingAndGlyphs">FOOTING / FOUNDATION (SEE</text>
<text class="t" x="766.5" y="716.2" font-size="10.6" textLength="26.8" lengthAdjust="spacingAndGlyphs">PLAN)</text>
<line class="c" x1="761.8" y1="703.8" x2="717.2" y2="703.8"/>
<line class="c" x1="717.2" y1="703.8" x2="663.5" y2="664.5"/>
<path class="fc" d="M663.5 664.5 L670.7 667.9 L668.9 670.4 Z"/>
<path class="c" d="M601.1 723.5 L745.3 723.5 L745.3 751.0 L601.1 751.0 Z"/>
<text class="tm" x="613.1" y="743.2" font-size="16.3" textLength="100.2" lengthAdjust="spacingAndGlyphs">INTERIOR VIEW</text>
<line class="g" x1="956.8" y1="94.9" x2="1111.5" y2="94.9"/>
<line class="g" x1="956.8" y1="102.5" x2="1111.5" y2="102.5"/>
<line class="g" x1="964.0" y1="149.6" x2="1111.5" y2="149.6"/>
<line class="g" x1="949.5" y1="156.5" x2="1120.8" y2="156.5"/>
<line class="g" x1="964.0" y1="102.5" x2="964.0" y2="149.6"/>
<line class="g" x1="1014.2" y1="102.5" x2="1014.2" y2="149.6"/>
<line class="g" x1="1021.4" y1="102.5" x2="1021.4" y2="149.6"/>
<line class="g" x1="1028.6" y1="102.5" x2="1028.6" y2="149.6"/>
<line class="g" x1="1100.3" y1="102.5" x2="1100.3" y2="149.6"/>
<line class="g" x1="1107.4" y1="102.5" x2="1107.4" y2="149.6"/>
<line class="g" x1="956.8" y1="87.4" x2="956.8" y2="577.7"/>
<line class="g" x1="964.0" y1="210.6" x2="964.0" y2="577.7"/>
<line class="g" x1="1014.2" y1="210.6" x2="1014.2" y2="577.7"/>
<line class="g" x1="1021.4" y1="202.4" x2="1021.4" y2="577.7"/>
<line class="g" x1="956.8" y1="202.4" x2="1028.6" y2="202.4"/>
<line class="g" x1="956.8" y1="210.3" x2="1028.6" y2="210.3"/>
<line class="g" x1="967.7" y1="195.4" x2="967.7" y2="211.6"/>
<line class="g" x1="982.0" y1="195.4" x2="982.0" y2="211.6"/>
<line class="g" x1="996.8" y1="195.4" x2="996.8" y2="211.6"/>
<line class="g" x1="1011.1" y1="195.4" x2="1011.1" y2="211.6"/>
<line class="g" x1="964.0" y1="383.7" x2="1014.2" y2="383.7"/>
<line class="g" x1="964.0" y1="390.9" x2="1014.2" y2="390.9"/>
<line class="g" x1="964.0" y1="398.1" x2="1014.2" y2="398.1"/>
<path class="c" d="M1111.5 87.4 L949.5 87.4 L949.5 682.6"/>
<line class="g" x1="1028.6" y1="156.5" x2="1028.6" y2="202.4"/>
<line class="c" x1="1028.6" y1="202.4" x2="1028.6" y2="613.4"/>
<line class="c" x1="1028.6" y1="202.4" x2="1120.8" y2="202.4"/>
<line class="c" x1="949.5" y1="577.7" x2="1028.6" y2="577.7"/>
<line class="c" x1="949.5" y1="585.0" x2="1028.6" y2="585.0"/>
<clipPath id="clipE"><path d="M949.5 87.4 L1111.5 87.4 L1111.5 156.5 L1120.8 156.5 L1120.8 202.4 L1028.6 202.4 L1028.6 585.0 L949.5 585.0 Z"/></clipPath>
<g clip-path="url(#clipE)">
<path class="c" style="stroke-linecap:butt" d="M970.1 82.4L933.7 118.8M959.0 122.5L922.6 158.9M1009.9 71.6L973.5 108.0M998.8 111.6L962.4 148.0M1049.7 60.7L1013.3 97.1M987.7 151.7L951.3 188.1M1038.6 100.8L1002.2 137.2M976.6 191.7L940.2 228.1M1027.5 140.8L991.1 177.2M1078.4 89.9L1042.0 126.3M965.5 231.8L929.1 268.1M1016.4 180.8L980.0 217.2M1067.3 130.0L1030.9 166.4M1118.2 79.0L1081.8 115.4M954.4 271.8L918.0 308.2M1005.3 220.9L968.9 257.3M1056.2 170.0L1019.8 206.4M1107.1 119.1L1070.7 155.5M1158.0 68.2L1121.6 104.6M994.2 261.0L957.8 297.4M1045.1 210.1L1008.7 246.5M1096.0 159.2L1059.6 195.6M1146.9 108.3L1110.5 144.7M983.1 301.0L946.7 337.4M1034.0 250.1L997.6 286.5M1084.9 199.2L1048.5 235.6M1135.8 148.3L1099.4 184.7M972.0 341.1L935.6 377.5M1022.9 290.2L986.5 326.6M1073.8 239.3L1037.4 275.7M1124.7 188.4L1088.3 224.8M960.9 381.1L924.5 417.5M1011.8 330.2L975.4 366.6M1062.7 279.3L1026.3 315.7M1113.6 228.4L1077.2 264.8M949.8 421.2L913.4 457.6M1000.7 370.2L964.3 406.6M1051.6 319.4L1015.2 355.8M1102.5 268.5L1066.1 304.9M1153.4 217.5L1117.0 253.9M989.6 410.3L953.2 446.7M1040.5 359.4L1004.1 395.8M1091.4 308.5L1055.0 344.9M1142.3 257.6L1105.9 294.0M978.5 450.4L942.1 486.8M1029.4 399.5L993.0 435.9M1080.3 348.6L1043.9 385.0M1131.2 297.7L1094.8 334.1M967.4 490.4L931.0 526.8M1018.3 439.5L981.9 475.9M1069.2 388.6L1032.8 425.0M1120.1 337.7L1083.7 374.1M956.3 530.5L919.9 566.9M1007.2 479.6L970.8 516.0M1058.1 428.7L1021.7 465.1M1109.0 377.8L1072.6 414.2M996.1 519.6L959.7 556.0M1047.0 468.7L1010.6 505.1M1097.9 417.8L1061.5 454.2M1148.8 366.9L1112.4 403.3M985.0 559.7L948.6 596.1M1035.9 508.8L999.5 545.1M1086.8 457.9L1050.4 494.3M1137.7 407.0L1101.3 443.4M1024.8 548.8L988.4 585.2M1075.7 497.9L1039.3 534.3M1126.6 447.0L1090.2 483.4M1064.6 538.0L1028.2 574.4M1115.5 487.1L1079.1 523.5M1053.5 578.0L1017.1 614.4M1104.4 527.1L1068.0 563.5M1155.3 476.2L1118.9 512.6M1093.3 567.1L1056.9 603.5M1144.2 516.2L1107.8 552.6M1133.1 556.3L1096.7 592.7"/>
</g>
<circle class="fc" cx="953.6" cy="91.0" r="1.5"/>
<line class="c" x1="951.6" y1="91.0" x2="955.6" y2="91.0" style="stroke-width:0.7"/>
<line class="c" x1="953.6" y1="89.0" x2="953.6" y2="93.0" style="stroke-width:0.7"/>
<circle class="fc" cx="963.7" cy="91.0" r="1.5"/>
<line class="c" x1="961.7" y1="91.0" x2="965.7" y2="91.0" style="stroke-width:0.7"/>
<line class="c" x1="963.7" y1="89.0" x2="963.7" y2="93.0" style="stroke-width:0.7"/>
<circle class="fc" cx="978.4" cy="91.0" r="1.5"/>
<line class="c" x1="976.4" y1="91.0" x2="980.4" y2="91.0" style="stroke-width:0.7"/>
<line class="c" x1="978.4" y1="89.0" x2="978.4" y2="93.0" style="stroke-width:0.7"/>
<circle class="fc" cx="992.9" cy="91.0" r="1.5"/>
<line class="c" x1="990.9" y1="91.0" x2="994.9" y2="91.0" style="stroke-width:0.7"/>
<line class="c" x1="992.9" y1="89.0" x2="992.9" y2="93.0" style="stroke-width:0.7"/>
<circle class="fc" cx="1007.8" cy="91.0" r="1.5"/>
<line class="c" x1="1005.8" y1="91.0" x2="1009.8" y2="91.0" style="stroke-width:0.7"/>
<line class="c" x1="1007.8" y1="89.0" x2="1007.8" y2="93.0" style="stroke-width:0.7"/>
<circle class="fc" cx="1017.8" cy="91.0" r="1.5"/>
<line class="c" x1="1015.8" y1="91.0" x2="1019.8" y2="91.0" style="stroke-width:0.7"/>
<line class="c" x1="1017.8" y1="89.0" x2="1017.8" y2="93.0" style="stroke-width:0.7"/>
<circle class="fc" cx="1024.6" cy="91.0" r="1.5"/>
<line class="c" x1="1022.6" y1="91.0" x2="1026.6" y2="91.0" style="stroke-width:0.7"/>
<line class="c" x1="1024.6" y1="89.0" x2="1024.6" y2="93.0" style="stroke-width:0.7"/>
<circle class="fc" cx="953.6" cy="98.5" r="1.5"/>
<line class="c" x1="951.6" y1="98.5" x2="955.6" y2="98.5" style="stroke-width:0.7"/>
<line class="c" x1="953.6" y1="96.5" x2="953.6" y2="100.5" style="stroke-width:0.7"/>
<circle class="fc" cx="963.7" cy="98.5" r="1.5"/>
<line class="c" x1="961.7" y1="98.5" x2="965.7" y2="98.5" style="stroke-width:0.7"/>
<line class="c" x1="963.7" y1="96.5" x2="963.7" y2="100.5" style="stroke-width:0.7"/>
<circle class="fc" cx="978.4" cy="98.5" r="1.5"/>
<line class="c" x1="976.4" y1="98.5" x2="980.4" y2="98.5" style="stroke-width:0.7"/>
<line class="c" x1="978.4" y1="96.5" x2="978.4" y2="100.5" style="stroke-width:0.7"/>
<circle class="fc" cx="992.9" cy="98.5" r="1.5"/>
<line class="c" x1="990.9" y1="98.5" x2="994.9" y2="98.5" style="stroke-width:0.7"/>
<line class="c" x1="992.9" y1="96.5" x2="992.9" y2="100.5" style="stroke-width:0.7"/>
<circle class="fc" cx="1007.8" cy="98.5" r="1.5"/>
<line class="c" x1="1005.8" y1="98.5" x2="1009.8" y2="98.5" style="stroke-width:0.7"/>
<line class="c" x1="1007.8" y1="96.5" x2="1007.8" y2="100.5" style="stroke-width:0.7"/>
<circle class="fc" cx="1017.8" cy="98.5" r="1.5"/>
<line class="c" x1="1015.8" y1="98.5" x2="1019.8" y2="98.5" style="stroke-width:0.7"/>
<line class="c" x1="1017.8" y1="96.5" x2="1017.8" y2="100.5" style="stroke-width:0.7"/>
<circle class="fc" cx="1024.6" cy="98.5" r="1.5"/>
<line class="c" x1="1022.6" y1="98.5" x2="1026.6" y2="98.5" style="stroke-width:0.7"/>
<line class="c" x1="1024.6" y1="96.5" x2="1024.6" y2="100.5" style="stroke-width:0.7"/>
<circle class="fc" cx="953.6" cy="110.7" r="1.5"/>
<line class="c" x1="951.6" y1="110.7" x2="955.6" y2="110.7" style="stroke-width:0.7"/>
<line class="c" x1="953.6" y1="108.7" x2="953.6" y2="112.7" style="stroke-width:0.7"/>
<circle class="fc" cx="961.3" cy="110.7" r="1.5"/>
<line class="c" x1="959.3" y1="110.7" x2="963.3" y2="110.7" style="stroke-width:0.7"/>
<line class="c" x1="961.3" y1="108.7" x2="961.3" y2="112.7" style="stroke-width:0.7"/>
<circle class="fc" cx="1017.3" cy="110.7" r="1.5"/>
<line class="c" x1="1015.3" y1="110.7" x2="1019.3" y2="110.7" style="stroke-width:0.7"/>
<line class="c" x1="1017.3" y1="108.7" x2="1017.3" y2="112.7" style="stroke-width:0.7"/>
<circle class="fc" cx="1025.0" cy="110.7" r="1.5"/>
<line class="c" x1="1023.0" y1="110.7" x2="1027.0" y2="110.7" style="stroke-width:0.7"/>
<line class="c" x1="1025.0" y1="108.7" x2="1025.0" y2="112.7" style="stroke-width:0.7"/>
<circle class="fc" cx="953.6" cy="125.2" r="1.5"/>
<line class="c" x1="951.6" y1="125.2" x2="955.6" y2="125.2" style="stroke-width:0.7"/>
<line class="c" x1="953.6" y1="123.2" x2="953.6" y2="127.2" style="stroke-width:0.7"/>
<circle class="fc" cx="961.3" cy="125.2" r="1.5"/>
<line class="c" x1="959.3" y1="125.2" x2="963.3" y2="125.2" style="stroke-width:0.7"/>
<line class="c" x1="961.3" y1="123.2" x2="961.3" y2="127.2" style="stroke-width:0.7"/>
<circle class="fc" cx="1017.3" cy="125.2" r="1.5"/>
<line class="c" x1="1015.3" y1="125.2" x2="1019.3" y2="125.2" style="stroke-width:0.7"/>
<line class="c" x1="1017.3" y1="123.2" x2="1017.3" y2="127.2" style="stroke-width:0.7"/>
<circle class="fc" cx="1025.0" cy="125.2" r="1.5"/>
<line class="c" x1="1023.0" y1="125.2" x2="1027.0" y2="125.2" style="stroke-width:0.7"/>
<line class="c" x1="1025.0" y1="123.2" x2="1025.0" y2="127.2" style="stroke-width:0.7"/>
<circle class="fc" cx="953.6" cy="140.1" r="1.5"/>
<line class="c" x1="951.6" y1="140.1" x2="955.6" y2="140.1" style="stroke-width:0.7"/>
<line class="c" x1="953.6" y1="138.1" x2="953.6" y2="142.1" style="stroke-width:0.7"/>
<circle class="fc" cx="961.3" cy="140.1" r="1.5"/>
<line class="c" x1="959.3" y1="140.1" x2="963.3" y2="140.1" style="stroke-width:0.7"/>
<line class="c" x1="961.3" y1="138.1" x2="961.3" y2="142.1" style="stroke-width:0.7"/>
<circle class="fc" cx="1017.3" cy="140.1" r="1.5"/>
<line class="c" x1="1015.3" y1="140.1" x2="1019.3" y2="140.1" style="stroke-width:0.7"/>
<line class="c" x1="1017.3" y1="138.1" x2="1017.3" y2="142.1" style="stroke-width:0.7"/>
<circle class="fc" cx="1025.0" cy="140.1" r="1.5"/>
<line class="c" x1="1023.0" y1="140.1" x2="1027.0" y2="140.1" style="stroke-width:0.7"/>
<line class="c" x1="1025.0" y1="138.1" x2="1025.0" y2="142.1" style="stroke-width:0.7"/>
<circle class="fc" cx="953.6" cy="153.2" r="1.5"/>
<line class="c" x1="951.6" y1="153.2" x2="955.6" y2="153.2" style="stroke-width:0.7"/>
<line class="c" x1="953.6" y1="151.2" x2="953.6" y2="155.2" style="stroke-width:0.7"/>
<circle class="fc" cx="961.3" cy="153.2" r="1.5"/>
<line class="c" x1="959.3" y1="153.2" x2="963.3" y2="153.2" style="stroke-width:0.7"/>
<line class="c" x1="961.3" y1="151.2" x2="961.3" y2="155.2" style="stroke-width:0.7"/>
<circle class="fc" cx="974.8" cy="153.2" r="1.5"/>
<line class="c" x1="972.8" y1="153.2" x2="976.8" y2="153.2" style="stroke-width:0.7"/>
<line class="c" x1="974.8" y1="151.2" x2="974.8" y2="155.2" style="stroke-width:0.7"/>
<circle class="fc" cx="989.3" cy="153.2" r="1.5"/>
<line class="c" x1="987.3" y1="153.2" x2="991.3" y2="153.2" style="stroke-width:0.7"/>
<line class="c" x1="989.3" y1="151.2" x2="989.3" y2="155.2" style="stroke-width:0.7"/>
<circle class="fc" cx="1004.2" cy="153.2" r="1.5"/>
<line class="c" x1="1002.2" y1="153.2" x2="1006.2" y2="153.2" style="stroke-width:0.7"/>
<line class="c" x1="1004.2" y1="151.2" x2="1004.2" y2="155.2" style="stroke-width:0.7"/>
<circle class="fc" cx="1017.3" cy="153.2" r="1.5"/>
<line class="c" x1="1015.3" y1="153.2" x2="1019.3" y2="153.2" style="stroke-width:0.7"/>
<line class="c" x1="1017.3" y1="151.2" x2="1017.3" y2="155.2" style="stroke-width:0.7"/>
<circle class="fc" cx="1025.0" cy="153.2" r="1.5"/>
<line class="c" x1="1023.0" y1="153.2" x2="1027.0" y2="153.2" style="stroke-width:0.7"/>
<line class="c" x1="1025.0" y1="151.2" x2="1025.0" y2="155.2" style="stroke-width:0.7"/>
<circle class="fc" cx="953.6" cy="161.4" r="1.5"/>
<line class="c" x1="951.6" y1="161.4" x2="955.6" y2="161.4" style="stroke-width:0.7"/>
<line class="c" x1="953.6" y1="159.4" x2="953.6" y2="163.4" style="stroke-width:0.7"/>
<circle class="fc" cx="968.0" cy="161.4" r="1.5"/>
<line class="c" x1="966.0" y1="161.4" x2="970.0" y2="161.4" style="stroke-width:0.7"/>
<line class="c" x1="968.0" y1="159.4" x2="968.0" y2="163.4" style="stroke-width:0.7"/>
<circle class="fc" cx="983.0" cy="161.4" r="1.5"/>
<line class="c" x1="981.0" y1="161.4" x2="985.0" y2="161.4" style="stroke-width:0.7"/>
<line class="c" x1="983.0" y1="159.4" x2="983.0" y2="163.4" style="stroke-width:0.7"/>
<circle class="fc" cx="997.9" cy="161.4" r="1.5"/>
<line class="c" x1="995.9" y1="161.4" x2="999.9" y2="161.4" style="stroke-width:0.7"/>
<line class="c" x1="997.9" y1="159.4" x2="997.9" y2="163.4" style="stroke-width:0.7"/>
<circle class="fc" cx="1012.8" cy="161.4" r="1.5"/>
<line class="c" x1="1010.8" y1="161.4" x2="1014.8" y2="161.4" style="stroke-width:0.7"/>
<line class="c" x1="1012.8" y1="159.4" x2="1012.8" y2="163.4" style="stroke-width:0.7"/>
<circle class="fc" cx="1025.5" cy="161.4" r="1.5"/>
<line class="c" x1="1023.5" y1="161.4" x2="1027.5" y2="161.4" style="stroke-width:0.7"/>
<line class="c" x1="1025.5" y1="159.4" x2="1025.5" y2="163.4" style="stroke-width:0.7"/>
<circle class="fc" cx="953.6" cy="173.1" r="1.5"/>
<line class="c" x1="951.6" y1="173.1" x2="955.6" y2="173.1" style="stroke-width:0.7"/>
<line class="c" x1="953.6" y1="171.1" x2="953.6" y2="175.1" style="stroke-width:0.7"/>
<circle class="fc" cx="968.0" cy="173.1" r="1.5"/>
<line class="c" x1="966.0" y1="173.1" x2="970.0" y2="173.1" style="stroke-width:0.7"/>
<line class="c" x1="968.0" y1="171.1" x2="968.0" y2="175.1" style="stroke-width:0.7"/>
<circle class="fc" cx="983.0" cy="173.1" r="1.5"/>
<line class="c" x1="981.0" y1="173.1" x2="985.0" y2="173.1" style="stroke-width:0.7"/>
<line class="c" x1="983.0" y1="171.1" x2="983.0" y2="175.1" style="stroke-width:0.7"/>
<circle class="fc" cx="997.9" cy="173.1" r="1.5"/>
<line class="c" x1="995.9" y1="173.1" x2="999.9" y2="173.1" style="stroke-width:0.7"/>
<line class="c" x1="997.9" y1="171.1" x2="997.9" y2="175.1" style="stroke-width:0.7"/>
<circle class="fc" cx="1012.8" cy="173.1" r="1.5"/>
<line class="c" x1="1010.8" y1="173.1" x2="1014.8" y2="173.1" style="stroke-width:0.7"/>
<line class="c" x1="1012.8" y1="171.1" x2="1012.8" y2="175.1" style="stroke-width:0.7"/>
<circle class="fc" cx="1025.5" cy="173.1" r="1.5"/>
<line class="c" x1="1023.5" y1="173.1" x2="1027.5" y2="173.1" style="stroke-width:0.7"/>
<line class="c" x1="1025.5" y1="171.1" x2="1025.5" y2="175.1" style="stroke-width:0.7"/>
<circle class="fc" cx="953.6" cy="185.4" r="1.5"/>
<line class="c" x1="951.6" y1="185.4" x2="955.6" y2="185.4" style="stroke-width:0.7"/>
<line class="c" x1="953.6" y1="183.4" x2="953.6" y2="187.4" style="stroke-width:0.7"/>
<circle class="fc" cx="968.0" cy="185.4" r="1.5"/>
<line class="c" x1="966.0" y1="185.4" x2="970.0" y2="185.4" style="stroke-width:0.7"/>
<line class="c" x1="968.0" y1="183.4" x2="968.0" y2="187.4" style="stroke-width:0.7"/>
<circle class="fc" cx="983.0" cy="185.4" r="1.5"/>
<line class="c" x1="981.0" y1="185.4" x2="985.0" y2="185.4" style="stroke-width:0.7"/>
<line class="c" x1="983.0" y1="183.4" x2="983.0" y2="187.4" style="stroke-width:0.7"/>
<circle class="fc" cx="997.9" cy="185.4" r="1.5"/>
<line class="c" x1="995.9" y1="185.4" x2="999.9" y2="185.4" style="stroke-width:0.7"/>
<line class="c" x1="997.9" y1="183.4" x2="997.9" y2="187.4" style="stroke-width:0.7"/>
<circle class="fc" cx="1012.8" cy="185.4" r="1.5"/>
<line class="c" x1="1010.8" y1="185.4" x2="1014.8" y2="185.4" style="stroke-width:0.7"/>
<line class="c" x1="1012.8" y1="183.4" x2="1012.8" y2="187.4" style="stroke-width:0.7"/>
<circle class="fc" cx="1025.5" cy="185.4" r="1.5"/>
<line class="c" x1="1023.5" y1="185.4" x2="1027.5" y2="185.4" style="stroke-width:0.7"/>
<line class="c" x1="1025.5" y1="183.4" x2="1025.5" y2="187.4" style="stroke-width:0.7"/>
<circle class="fc" cx="953.6" cy="198.0" r="1.5"/>
<line class="c" x1="951.6" y1="198.0" x2="955.6" y2="198.0" style="stroke-width:0.7"/>
<line class="c" x1="953.6" y1="196.0" x2="953.6" y2="200.0" style="stroke-width:0.7"/>
<circle class="fc" cx="1025.5" cy="198.0" r="1.5"/>
<line class="c" x1="1023.5" y1="198.0" x2="1027.5" y2="198.0" style="stroke-width:0.7"/>
<line class="c" x1="1025.5" y1="196.0" x2="1025.5" y2="200.0" style="stroke-width:0.7"/>
<circle class="fc" cx="953.6" cy="206.6" r="1.5"/>
<line class="c" x1="951.6" y1="206.6" x2="955.6" y2="206.6" style="stroke-width:0.7"/>
<line class="c" x1="953.6" y1="204.6" x2="953.6" y2="208.6" style="stroke-width:0.7"/>
<circle class="fc" cx="961.3" cy="206.6" r="1.5"/>
<line class="c" x1="959.3" y1="206.6" x2="963.3" y2="206.6" style="stroke-width:0.7"/>
<line class="c" x1="961.3" y1="204.6" x2="961.3" y2="208.6" style="stroke-width:0.7"/>
<circle class="fc" cx="974.8" cy="206.6" r="1.5"/>
<line class="c" x1="972.8" y1="206.6" x2="976.8" y2="206.6" style="stroke-width:0.7"/>
<line class="c" x1="974.8" y1="204.6" x2="974.8" y2="208.6" style="stroke-width:0.7"/>
<circle class="fc" cx="988.0" cy="206.6" r="1.5"/>
<line class="c" x1="986.0" y1="206.6" x2="990.0" y2="206.6" style="stroke-width:0.7"/>
<line class="c" x1="988.0" y1="204.6" x2="988.0" y2="208.6" style="stroke-width:0.7"/>
<circle class="fc" cx="1001.0" cy="206.6" r="1.5"/>
<line class="c" x1="999.0" y1="206.6" x2="1003.0" y2="206.6" style="stroke-width:0.7"/>
<line class="c" x1="1001.0" y1="204.6" x2="1001.0" y2="208.6" style="stroke-width:0.7"/>
<circle class="fc" cx="1017.3" cy="206.6" r="1.5"/>
<line class="c" x1="1015.3" y1="206.6" x2="1019.3" y2="206.6" style="stroke-width:0.7"/>
<line class="c" x1="1017.3" y1="204.6" x2="1017.3" y2="208.6" style="stroke-width:0.7"/>
<circle class="fc" cx="1025.0" cy="206.6" r="1.5"/>
<line class="c" x1="1023.0" y1="206.6" x2="1027.0" y2="206.6" style="stroke-width:0.7"/>
<line class="c" x1="1025.0" y1="204.6" x2="1025.0" y2="208.6" style="stroke-width:0.7"/>
<circle class="fc" cx="953.6" cy="213.8" r="1.5"/>
<line class="c" x1="951.6" y1="213.8" x2="955.6" y2="213.8" style="stroke-width:0.7"/>
<line class="c" x1="953.6" y1="211.8" x2="953.6" y2="215.8" style="stroke-width:0.7"/>
<circle class="fc" cx="953.6" cy="222.4" r="1.5"/>
<line class="c" x1="951.6" y1="222.4" x2="955.6" y2="222.4" style="stroke-width:0.7"/>
<line class="c" x1="953.6" y1="220.4" x2="953.6" y2="224.4" style="stroke-width:0.7"/>
<circle class="fc" cx="953.6" cy="237.2" r="1.5"/>
<line class="c" x1="951.6" y1="237.2" x2="955.6" y2="237.2" style="stroke-width:0.7"/>
<line class="c" x1="953.6" y1="235.2" x2="953.6" y2="239.2" style="stroke-width:0.7"/>
<circle class="fc" cx="953.6" cy="252.0" r="1.5"/>
<line class="c" x1="951.6" y1="252.0" x2="955.6" y2="252.0" style="stroke-width:0.7"/>
<line class="c" x1="953.6" y1="250.0" x2="953.6" y2="254.0" style="stroke-width:0.7"/>
<circle class="fc" cx="953.6" cy="266.8" r="1.5"/>
<line class="c" x1="951.6" y1="266.8" x2="955.6" y2="266.8" style="stroke-width:0.7"/>
<line class="c" x1="953.6" y1="264.8" x2="953.6" y2="268.8" style="stroke-width:0.7"/>
<circle class="fc" cx="953.6" cy="281.6" r="1.5"/>
<line class="c" x1="951.6" y1="281.6" x2="955.6" y2="281.6" style="stroke-width:0.7"/>
<line class="c" x1="953.6" y1="279.6" x2="953.6" y2="283.6" style="stroke-width:0.7"/>
<circle class="fc" cx="953.6" cy="296.4" r="1.5"/>
<line class="c" x1="951.6" y1="296.4" x2="955.6" y2="296.4" style="stroke-width:0.7"/>
<line class="c" x1="953.6" y1="294.4" x2="953.6" y2="298.4" style="stroke-width:0.7"/>
<circle class="fc" cx="953.6" cy="311.2" r="1.5"/>
<line class="c" x1="951.6" y1="311.2" x2="955.6" y2="311.2" style="stroke-width:0.7"/>
<line class="c" x1="953.6" y1="309.2" x2="953.6" y2="313.2" style="stroke-width:0.7"/>
<circle class="fc" cx="953.6" cy="326.0" r="1.5"/>
<line class="c" x1="951.6" y1="326.0" x2="955.6" y2="326.0" style="stroke-width:0.7"/>
<line class="c" x1="953.6" y1="324.0" x2="953.6" y2="328.0" style="stroke-width:0.7"/>
<circle class="fc" cx="953.6" cy="340.8" r="1.5"/>
<line class="c" x1="951.6" y1="340.8" x2="955.6" y2="340.8" style="stroke-width:0.7"/>
<line class="c" x1="953.6" y1="338.8" x2="953.6" y2="342.8" style="stroke-width:0.7"/>
<circle class="fc" cx="953.6" cy="355.6" r="1.5"/>
<line class="c" x1="951.6" y1="355.6" x2="955.6" y2="355.6" style="stroke-width:0.7"/>
<line class="c" x1="953.6" y1="353.6" x2="953.6" y2="357.6" style="stroke-width:0.7"/>
<circle class="fc" cx="953.6" cy="370.4" r="1.5"/>
<line class="c" x1="951.6" y1="370.4" x2="955.6" y2="370.4" style="stroke-width:0.7"/>
<line class="c" x1="953.6" y1="368.4" x2="953.6" y2="372.4" style="stroke-width:0.7"/>
<circle class="fc" cx="953.6" cy="385.2" r="1.5"/>
<line class="c" x1="951.6" y1="385.2" x2="955.6" y2="385.2" style="stroke-width:0.7"/>
<line class="c" x1="953.6" y1="383.2" x2="953.6" y2="387.2" style="stroke-width:0.7"/>
<circle class="fc" cx="953.6" cy="400.0" r="1.5"/>
<line class="c" x1="951.6" y1="400.0" x2="955.6" y2="400.0" style="stroke-width:0.7"/>
<line class="c" x1="953.6" y1="398.0" x2="953.6" y2="402.0" style="stroke-width:0.7"/>
<circle class="fc" cx="953.6" cy="414.8" r="1.5"/>
<line class="c" x1="951.6" y1="414.8" x2="955.6" y2="414.8" style="stroke-width:0.7"/>
<line class="c" x1="953.6" y1="412.8" x2="953.6" y2="416.8" style="stroke-width:0.7"/>
<circle class="fc" cx="953.6" cy="429.6" r="1.5"/>
<line class="c" x1="951.6" y1="429.6" x2="955.6" y2="429.6" style="stroke-width:0.7"/>
<line class="c" x1="953.6" y1="427.6" x2="953.6" y2="431.6" style="stroke-width:0.7"/>
<circle class="fc" cx="953.6" cy="444.4" r="1.5"/>
<line class="c" x1="951.6" y1="444.4" x2="955.6" y2="444.4" style="stroke-width:0.7"/>
<line class="c" x1="953.6" y1="442.4" x2="953.6" y2="446.4" style="stroke-width:0.7"/>
<circle class="fc" cx="953.6" cy="459.2" r="1.5"/>
<line class="c" x1="951.6" y1="459.2" x2="955.6" y2="459.2" style="stroke-width:0.7"/>
<line class="c" x1="953.6" y1="457.2" x2="953.6" y2="461.2" style="stroke-width:0.7"/>
<circle class="fc" cx="953.6" cy="474.0" r="1.5"/>
<line class="c" x1="951.6" y1="474.0" x2="955.6" y2="474.0" style="stroke-width:0.7"/>
<line class="c" x1="953.6" y1="472.0" x2="953.6" y2="476.0" style="stroke-width:0.7"/>
<circle class="fc" cx="953.6" cy="488.8" r="1.5"/>
<line class="c" x1="951.6" y1="488.8" x2="955.6" y2="488.8" style="stroke-width:0.7"/>
<line class="c" x1="953.6" y1="486.8" x2="953.6" y2="490.8" style="stroke-width:0.7"/>
<circle class="fc" cx="953.6" cy="503.6" r="1.5"/>
<line class="c" x1="951.6" y1="503.6" x2="955.6" y2="503.6" style="stroke-width:0.7"/>
<line class="c" x1="953.6" y1="501.6" x2="953.6" y2="505.6" style="stroke-width:0.7"/>
<circle class="fc" cx="953.6" cy="518.4" r="1.5"/>
<line class="c" x1="951.6" y1="518.4" x2="955.6" y2="518.4" style="stroke-width:0.7"/>
<line class="c" x1="953.6" y1="516.4" x2="953.6" y2="520.4" style="stroke-width:0.7"/>
<circle class="fc" cx="953.6" cy="533.2" r="1.5"/>
<line class="c" x1="951.6" y1="533.2" x2="955.6" y2="533.2" style="stroke-width:0.7"/>
<line class="c" x1="953.6" y1="531.2" x2="953.6" y2="535.2" style="stroke-width:0.7"/>
<circle class="fc" cx="953.6" cy="548.0" r="1.5"/>
<line class="c" x1="951.6" y1="548.0" x2="955.6" y2="548.0" style="stroke-width:0.7"/>
<line class="c" x1="953.6" y1="546.0" x2="953.6" y2="550.0" style="stroke-width:0.7"/>
<circle class="fc" cx="953.6" cy="562.8" r="1.5"/>
<line class="c" x1="951.6" y1="562.8" x2="955.6" y2="562.8" style="stroke-width:0.7"/>
<line class="c" x1="953.6" y1="560.8" x2="953.6" y2="564.8" style="stroke-width:0.7"/>
<circle class="fc" cx="961.3" cy="213.8" r="1.5"/>
<line class="c" x1="959.3" y1="213.8" x2="963.3" y2="213.8" style="stroke-width:0.7"/>
<line class="c" x1="961.3" y1="211.8" x2="961.3" y2="215.8" style="stroke-width:0.7"/>
<circle class="fc" cx="961.3" cy="222.4" r="1.5"/>
<line class="c" x1="959.3" y1="222.4" x2="963.3" y2="222.4" style="stroke-width:0.7"/>
<line class="c" x1="961.3" y1="220.4" x2="961.3" y2="224.4" style="stroke-width:0.7"/>
<circle class="fc" cx="961.3" cy="237.2" r="1.5"/>
<line class="c" x1="959.3" y1="237.2" x2="963.3" y2="237.2" style="stroke-width:0.7"/>
<line class="c" x1="961.3" y1="235.2" x2="961.3" y2="239.2" style="stroke-width:0.7"/>
<circle class="fc" cx="961.3" cy="252.0" r="1.5"/>
<line class="c" x1="959.3" y1="252.0" x2="963.3" y2="252.0" style="stroke-width:0.7"/>
<line class="c" x1="961.3" y1="250.0" x2="961.3" y2="254.0" style="stroke-width:0.7"/>
<circle class="fc" cx="961.3" cy="266.8" r="1.5"/>
<line class="c" x1="959.3" y1="266.8" x2="963.3" y2="266.8" style="stroke-width:0.7"/>
<line class="c" x1="961.3" y1="264.8" x2="961.3" y2="268.8" style="stroke-width:0.7"/>
<circle class="fc" cx="961.3" cy="281.6" r="1.5"/>
<line class="c" x1="959.3" y1="281.6" x2="963.3" y2="281.6" style="stroke-width:0.7"/>
<line class="c" x1="961.3" y1="279.6" x2="961.3" y2="283.6" style="stroke-width:0.7"/>
<circle class="fc" cx="961.3" cy="296.4" r="1.5"/>
<line class="c" x1="959.3" y1="296.4" x2="963.3" y2="296.4" style="stroke-width:0.7"/>
<line class="c" x1="961.3" y1="294.4" x2="961.3" y2="298.4" style="stroke-width:0.7"/>
<circle class="fc" cx="961.3" cy="311.2" r="1.5"/>
<line class="c" x1="959.3" y1="311.2" x2="963.3" y2="311.2" style="stroke-width:0.7"/>
<line class="c" x1="961.3" y1="309.2" x2="961.3" y2="313.2" style="stroke-width:0.7"/>
<circle class="fc" cx="961.3" cy="326.0" r="1.5"/>
<line class="c" x1="959.3" y1="326.0" x2="963.3" y2="326.0" style="stroke-width:0.7"/>
<line class="c" x1="961.3" y1="324.0" x2="961.3" y2="328.0" style="stroke-width:0.7"/>
<circle class="fc" cx="961.3" cy="340.8" r="1.5"/>
<line class="c" x1="959.3" y1="340.8" x2="963.3" y2="340.8" style="stroke-width:0.7"/>
<line class="c" x1="961.3" y1="338.8" x2="961.3" y2="342.8" style="stroke-width:0.7"/>
<circle class="fc" cx="961.3" cy="355.6" r="1.5"/>
<line class="c" x1="959.3" y1="355.6" x2="963.3" y2="355.6" style="stroke-width:0.7"/>
<line class="c" x1="961.3" y1="353.6" x2="961.3" y2="357.6" style="stroke-width:0.7"/>
<circle class="fc" cx="961.3" cy="370.4" r="1.5"/>
<line class="c" x1="959.3" y1="370.4" x2="963.3" y2="370.4" style="stroke-width:0.7"/>
<line class="c" x1="961.3" y1="368.4" x2="961.3" y2="372.4" style="stroke-width:0.7"/>
<circle class="fc" cx="961.3" cy="385.2" r="1.5"/>
<line class="c" x1="959.3" y1="385.2" x2="963.3" y2="385.2" style="stroke-width:0.7"/>
<line class="c" x1="961.3" y1="383.2" x2="961.3" y2="387.2" style="stroke-width:0.7"/>
<circle class="fc" cx="961.3" cy="400.0" r="1.5"/>
<line class="c" x1="959.3" y1="400.0" x2="963.3" y2="400.0" style="stroke-width:0.7"/>
<line class="c" x1="961.3" y1="398.0" x2="961.3" y2="402.0" style="stroke-width:0.7"/>
<circle class="fc" cx="961.3" cy="414.8" r="1.5"/>
<line class="c" x1="959.3" y1="414.8" x2="963.3" y2="414.8" style="stroke-width:0.7"/>
<line class="c" x1="961.3" y1="412.8" x2="961.3" y2="416.8" style="stroke-width:0.7"/>
<circle class="fc" cx="961.3" cy="429.6" r="1.5"/>
<line class="c" x1="959.3" y1="429.6" x2="963.3" y2="429.6" style="stroke-width:0.7"/>
<line class="c" x1="961.3" y1="427.6" x2="961.3" y2="431.6" style="stroke-width:0.7"/>
<circle class="fc" cx="961.3" cy="444.4" r="1.5"/>
<line class="c" x1="959.3" y1="444.4" x2="963.3" y2="444.4" style="stroke-width:0.7"/>
<line class="c" x1="961.3" y1="442.4" x2="961.3" y2="446.4" style="stroke-width:0.7"/>
<circle class="fc" cx="961.3" cy="459.2" r="1.5"/>
<line class="c" x1="959.3" y1="459.2" x2="963.3" y2="459.2" style="stroke-width:0.7"/>
<line class="c" x1="961.3" y1="457.2" x2="961.3" y2="461.2" style="stroke-width:0.7"/>
<circle class="fc" cx="961.3" cy="474.0" r="1.5"/>
<line class="c" x1="959.3" y1="474.0" x2="963.3" y2="474.0" style="stroke-width:0.7"/>
<line class="c" x1="961.3" y1="472.0" x2="961.3" y2="476.0" style="stroke-width:0.7"/>
<circle class="fc" cx="961.3" cy="488.8" r="1.5"/>
<line class="c" x1="959.3" y1="488.8" x2="963.3" y2="488.8" style="stroke-width:0.7"/>
<line class="c" x1="961.3" y1="486.8" x2="961.3" y2="490.8" style="stroke-width:0.7"/>
<circle class="fc" cx="961.3" cy="503.6" r="1.5"/>
<line class="c" x1="959.3" y1="503.6" x2="963.3" y2="503.6" style="stroke-width:0.7"/>
<line class="c" x1="961.3" y1="501.6" x2="961.3" y2="505.6" style="stroke-width:0.7"/>
<circle class="fc" cx="961.3" cy="518.4" r="1.5"/>
<line class="c" x1="959.3" y1="518.4" x2="963.3" y2="518.4" style="stroke-width:0.7"/>
<line class="c" x1="961.3" y1="516.4" x2="961.3" y2="520.4" style="stroke-width:0.7"/>
<circle class="fc" cx="961.3" cy="533.2" r="1.5"/>
<line class="c" x1="959.3" y1="533.2" x2="963.3" y2="533.2" style="stroke-width:0.7"/>
<line class="c" x1="961.3" y1="531.2" x2="961.3" y2="535.2" style="stroke-width:0.7"/>
<circle class="fc" cx="961.3" cy="548.0" r="1.5"/>
<line class="c" x1="959.3" y1="548.0" x2="963.3" y2="548.0" style="stroke-width:0.7"/>
<line class="c" x1="961.3" y1="546.0" x2="961.3" y2="550.0" style="stroke-width:0.7"/>
<circle class="fc" cx="961.3" cy="562.8" r="1.5"/>
<line class="c" x1="959.3" y1="562.8" x2="963.3" y2="562.8" style="stroke-width:0.7"/>
<line class="c" x1="961.3" y1="560.8" x2="961.3" y2="564.8" style="stroke-width:0.7"/>
<circle class="fc" cx="1017.3" cy="213.8" r="1.5"/>
<line class="c" x1="1015.3" y1="213.8" x2="1019.3" y2="213.8" style="stroke-width:0.7"/>
<line class="c" x1="1017.3" y1="211.8" x2="1017.3" y2="215.8" style="stroke-width:0.7"/>
<circle class="fc" cx="1017.3" cy="222.4" r="1.5"/>
<line class="c" x1="1015.3" y1="222.4" x2="1019.3" y2="222.4" style="stroke-width:0.7"/>
<line class="c" x1="1017.3" y1="220.4" x2="1017.3" y2="224.4" style="stroke-width:0.7"/>
<circle class="fc" cx="1017.3" cy="237.2" r="1.5"/>
<line class="c" x1="1015.3" y1="237.2" x2="1019.3" y2="237.2" style="stroke-width:0.7"/>
<line class="c" x1="1017.3" y1="235.2" x2="1017.3" y2="239.2" style="stroke-width:0.7"/>
<circle class="fc" cx="1017.3" cy="252.0" r="1.5"/>
<line class="c" x1="1015.3" y1="252.0" x2="1019.3" y2="252.0" style="stroke-width:0.7"/>
<line class="c" x1="1017.3" y1="250.0" x2="1017.3" y2="254.0" style="stroke-width:0.7"/>
<circle class="fc" cx="1017.3" cy="266.8" r="1.5"/>
<line class="c" x1="1015.3" y1="266.8" x2="1019.3" y2="266.8" style="stroke-width:0.7"/>
<line class="c" x1="1017.3" y1="264.8" x2="1017.3" y2="268.8" style="stroke-width:0.7"/>
<circle class="fc" cx="1017.3" cy="281.6" r="1.5"/>
<line class="c" x1="1015.3" y1="281.6" x2="1019.3" y2="281.6" style="stroke-width:0.7"/>
<line class="c" x1="1017.3" y1="279.6" x2="1017.3" y2="283.6" style="stroke-width:0.7"/>
<circle class="fc" cx="1017.3" cy="296.4" r="1.5"/>
<line class="c" x1="1015.3" y1="296.4" x2="1019.3" y2="296.4" style="stroke-width:0.7"/>
<line class="c" x1="1017.3" y1="294.4" x2="1017.3" y2="298.4" style="stroke-width:0.7"/>
<circle class="fc" cx="1017.3" cy="311.2" r="1.5"/>
<line class="c" x1="1015.3" y1="311.2" x2="1019.3" y2="311.2" style="stroke-width:0.7"/>
<line class="c" x1="1017.3" y1="309.2" x2="1017.3" y2="313.2" style="stroke-width:0.7"/>
<circle class="fc" cx="1017.3" cy="326.0" r="1.5"/>
<line class="c" x1="1015.3" y1="326.0" x2="1019.3" y2="326.0" style="stroke-width:0.7"/>
<line class="c" x1="1017.3" y1="324.0" x2="1017.3" y2="328.0" style="stroke-width:0.7"/>
<circle class="fc" cx="1017.3" cy="340.8" r="1.5"/>
<line class="c" x1="1015.3" y1="340.8" x2="1019.3" y2="340.8" style="stroke-width:0.7"/>
<line class="c" x1="1017.3" y1="338.8" x2="1017.3" y2="342.8" style="stroke-width:0.7"/>
<circle class="fc" cx="1017.3" cy="355.6" r="1.5"/>
<line class="c" x1="1015.3" y1="355.6" x2="1019.3" y2="355.6" style="stroke-width:0.7"/>
<line class="c" x1="1017.3" y1="353.6" x2="1017.3" y2="357.6" style="stroke-width:0.7"/>
<circle class="fc" cx="1017.3" cy="370.4" r="1.5"/>
<line class="c" x1="1015.3" y1="370.4" x2="1019.3" y2="370.4" style="stroke-width:0.7"/>
<line class="c" x1="1017.3" y1="368.4" x2="1017.3" y2="372.4" style="stroke-width:0.7"/>
<circle class="fc" cx="1017.3" cy="385.2" r="1.5"/>
<line class="c" x1="1015.3" y1="385.2" x2="1019.3" y2="385.2" style="stroke-width:0.7"/>
<line class="c" x1="1017.3" y1="383.2" x2="1017.3" y2="387.2" style="stroke-width:0.7"/>
<circle class="fc" cx="1017.3" cy="400.0" r="1.5"/>
<line class="c" x1="1015.3" y1="400.0" x2="1019.3" y2="400.0" style="stroke-width:0.7"/>
<line class="c" x1="1017.3" y1="398.0" x2="1017.3" y2="402.0" style="stroke-width:0.7"/>
<circle class="fc" cx="1017.3" cy="414.8" r="1.5"/>
<line class="c" x1="1015.3" y1="414.8" x2="1019.3" y2="414.8" style="stroke-width:0.7"/>
<line class="c" x1="1017.3" y1="412.8" x2="1017.3" y2="416.8" style="stroke-width:0.7"/>
<circle class="fc" cx="1017.3" cy="429.6" r="1.5"/>
<line class="c" x1="1015.3" y1="429.6" x2="1019.3" y2="429.6" style="stroke-width:0.7"/>
<line class="c" x1="1017.3" y1="427.6" x2="1017.3" y2="431.6" style="stroke-width:0.7"/>
<circle class="fc" cx="1017.3" cy="444.4" r="1.5"/>
<line class="c" x1="1015.3" y1="444.4" x2="1019.3" y2="444.4" style="stroke-width:0.7"/>
<line class="c" x1="1017.3" y1="442.4" x2="1017.3" y2="446.4" style="stroke-width:0.7"/>
<circle class="fc" cx="1017.3" cy="459.2" r="1.5"/>
<line class="c" x1="1015.3" y1="459.2" x2="1019.3" y2="459.2" style="stroke-width:0.7"/>
<line class="c" x1="1017.3" y1="457.2" x2="1017.3" y2="461.2" style="stroke-width:0.7"/>
<circle class="fc" cx="1017.3" cy="474.0" r="1.5"/>
<line class="c" x1="1015.3" y1="474.0" x2="1019.3" y2="474.0" style="stroke-width:0.7"/>
<line class="c" x1="1017.3" y1="472.0" x2="1017.3" y2="476.0" style="stroke-width:0.7"/>
<circle class="fc" cx="1017.3" cy="488.8" r="1.5"/>
<line class="c" x1="1015.3" y1="488.8" x2="1019.3" y2="488.8" style="stroke-width:0.7"/>
<line class="c" x1="1017.3" y1="486.8" x2="1017.3" y2="490.8" style="stroke-width:0.7"/>
<circle class="fc" cx="1017.3" cy="503.6" r="1.5"/>
<line class="c" x1="1015.3" y1="503.6" x2="1019.3" y2="503.6" style="stroke-width:0.7"/>
<line class="c" x1="1017.3" y1="501.6" x2="1017.3" y2="505.6" style="stroke-width:0.7"/>
<circle class="fc" cx="1017.3" cy="518.4" r="1.5"/>
<line class="c" x1="1015.3" y1="518.4" x2="1019.3" y2="518.4" style="stroke-width:0.7"/>
<line class="c" x1="1017.3" y1="516.4" x2="1017.3" y2="520.4" style="stroke-width:0.7"/>
<circle class="fc" cx="1017.3" cy="533.2" r="1.5"/>
<line class="c" x1="1015.3" y1="533.2" x2="1019.3" y2="533.2" style="stroke-width:0.7"/>
<line class="c" x1="1017.3" y1="531.2" x2="1017.3" y2="535.2" style="stroke-width:0.7"/>
<circle class="fc" cx="1017.3" cy="548.0" r="1.5"/>
<line class="c" x1="1015.3" y1="548.0" x2="1019.3" y2="548.0" style="stroke-width:0.7"/>
<line class="c" x1="1017.3" y1="546.0" x2="1017.3" y2="550.0" style="stroke-width:0.7"/>
<circle class="fc" cx="1017.3" cy="562.8" r="1.5"/>
<line class="c" x1="1015.3" y1="562.8" x2="1019.3" y2="562.8" style="stroke-width:0.7"/>
<line class="c" x1="1017.3" y1="560.8" x2="1017.3" y2="564.8" style="stroke-width:0.7"/>
<circle class="fc" cx="1025.0" cy="213.8" r="1.5"/>
<line class="c" x1="1023.0" y1="213.8" x2="1027.0" y2="213.8" style="stroke-width:0.7"/>
<line class="c" x1="1025.0" y1="211.8" x2="1025.0" y2="215.8" style="stroke-width:0.7"/>
<circle class="fc" cx="1025.0" cy="222.4" r="1.5"/>
<line class="c" x1="1023.0" y1="222.4" x2="1027.0" y2="222.4" style="stroke-width:0.7"/>
<line class="c" x1="1025.0" y1="220.4" x2="1025.0" y2="224.4" style="stroke-width:0.7"/>
<circle class="fc" cx="1025.0" cy="237.2" r="1.5"/>
<line class="c" x1="1023.0" y1="237.2" x2="1027.0" y2="237.2" style="stroke-width:0.7"/>
<line class="c" x1="1025.0" y1="235.2" x2="1025.0" y2="239.2" style="stroke-width:0.7"/>
<circle class="fc" cx="1025.0" cy="252.0" r="1.5"/>
<line class="c" x1="1023.0" y1="252.0" x2="1027.0" y2="252.0" style="stroke-width:0.7"/>
<line class="c" x1="1025.0" y1="250.0" x2="1025.0" y2="254.0" style="stroke-width:0.7"/>
<circle class="fc" cx="1025.0" cy="266.8" r="1.5"/>
<line class="c" x1="1023.0" y1="266.8" x2="1027.0" y2="266.8" style="stroke-width:0.7"/>
<line class="c" x1="1025.0" y1="264.8" x2="1025.0" y2="268.8" style="stroke-width:0.7"/>
<circle class="fc" cx="1025.0" cy="281.6" r="1.5"/>
<line class="c" x1="1023.0" y1="281.6" x2="1027.0" y2="281.6" style="stroke-width:0.7"/>
<line class="c" x1="1025.0" y1="279.6" x2="1025.0" y2="283.6" style="stroke-width:0.7"/>
<circle class="fc" cx="1025.0" cy="296.4" r="1.5"/>
<line class="c" x1="1023.0" y1="296.4" x2="1027.0" y2="296.4" style="stroke-width:0.7"/>
<line class="c" x1="1025.0" y1="294.4" x2="1025.0" y2="298.4" style="stroke-width:0.7"/>
<circle class="fc" cx="1025.0" cy="311.2" r="1.5"/>
<line class="c" x1="1023.0" y1="311.2" x2="1027.0" y2="311.2" style="stroke-width:0.7"/>
<line class="c" x1="1025.0" y1="309.2" x2="1025.0" y2="313.2" style="stroke-width:0.7"/>
<circle class="fc" cx="1025.0" cy="326.0" r="1.5"/>
<line class="c" x1="1023.0" y1="326.0" x2="1027.0" y2="326.0" style="stroke-width:0.7"/>
<line class="c" x1="1025.0" y1="324.0" x2="1025.0" y2="328.0" style="stroke-width:0.7"/>
<circle class="fc" cx="1025.0" cy="340.8" r="1.5"/>
<line class="c" x1="1023.0" y1="340.8" x2="1027.0" y2="340.8" style="stroke-width:0.7"/>
<line class="c" x1="1025.0" y1="338.8" x2="1025.0" y2="342.8" style="stroke-width:0.7"/>
<circle class="fc" cx="1025.0" cy="355.6" r="1.5"/>
<line class="c" x1="1023.0" y1="355.6" x2="1027.0" y2="355.6" style="stroke-width:0.7"/>
<line class="c" x1="1025.0" y1="353.6" x2="1025.0" y2="357.6" style="stroke-width:0.7"/>
<circle class="fc" cx="1025.0" cy="370.4" r="1.5"/>
<line class="c" x1="1023.0" y1="370.4" x2="1027.0" y2="370.4" style="stroke-width:0.7"/>
<line class="c" x1="1025.0" y1="368.4" x2="1025.0" y2="372.4" style="stroke-width:0.7"/>
<circle class="fc" cx="1025.0" cy="385.2" r="1.5"/>
<line class="c" x1="1023.0" y1="385.2" x2="1027.0" y2="385.2" style="stroke-width:0.7"/>
<line class="c" x1="1025.0" y1="383.2" x2="1025.0" y2="387.2" style="stroke-width:0.7"/>
<circle class="fc" cx="1025.0" cy="400.0" r="1.5"/>
<line class="c" x1="1023.0" y1="400.0" x2="1027.0" y2="400.0" style="stroke-width:0.7"/>
<line class="c" x1="1025.0" y1="398.0" x2="1025.0" y2="402.0" style="stroke-width:0.7"/>
<circle class="fc" cx="1025.0" cy="414.8" r="1.5"/>
<line class="c" x1="1023.0" y1="414.8" x2="1027.0" y2="414.8" style="stroke-width:0.7"/>
<line class="c" x1="1025.0" y1="412.8" x2="1025.0" y2="416.8" style="stroke-width:0.7"/>
<circle class="fc" cx="1025.0" cy="429.6" r="1.5"/>
<line class="c" x1="1023.0" y1="429.6" x2="1027.0" y2="429.6" style="stroke-width:0.7"/>
<line class="c" x1="1025.0" y1="427.6" x2="1025.0" y2="431.6" style="stroke-width:0.7"/>
<circle class="fc" cx="1025.0" cy="444.4" r="1.5"/>
<line class="c" x1="1023.0" y1="444.4" x2="1027.0" y2="444.4" style="stroke-width:0.7"/>
<line class="c" x1="1025.0" y1="442.4" x2="1025.0" y2="446.4" style="stroke-width:0.7"/>
<circle class="fc" cx="1025.0" cy="459.2" r="1.5"/>
<line class="c" x1="1023.0" y1="459.2" x2="1027.0" y2="459.2" style="stroke-width:0.7"/>
<line class="c" x1="1025.0" y1="457.2" x2="1025.0" y2="461.2" style="stroke-width:0.7"/>
<circle class="fc" cx="1025.0" cy="474.0" r="1.5"/>
<line class="c" x1="1023.0" y1="474.0" x2="1027.0" y2="474.0" style="stroke-width:0.7"/>
<line class="c" x1="1025.0" y1="472.0" x2="1025.0" y2="476.0" style="stroke-width:0.7"/>
<circle class="fc" cx="1025.0" cy="488.8" r="1.5"/>
<line class="c" x1="1023.0" y1="488.8" x2="1027.0" y2="488.8" style="stroke-width:0.7"/>
<line class="c" x1="1025.0" y1="486.8" x2="1025.0" y2="490.8" style="stroke-width:0.7"/>
<circle class="fc" cx="1025.0" cy="503.6" r="1.5"/>
<line class="c" x1="1023.0" y1="503.6" x2="1027.0" y2="503.6" style="stroke-width:0.7"/>
<line class="c" x1="1025.0" y1="501.6" x2="1025.0" y2="505.6" style="stroke-width:0.7"/>
<circle class="fc" cx="1025.0" cy="518.4" r="1.5"/>
<line class="c" x1="1023.0" y1="518.4" x2="1027.0" y2="518.4" style="stroke-width:0.7"/>
<line class="c" x1="1025.0" y1="516.4" x2="1025.0" y2="520.4" style="stroke-width:0.7"/>
<circle class="fc" cx="1025.0" cy="533.2" r="1.5"/>
<line class="c" x1="1023.0" y1="533.2" x2="1027.0" y2="533.2" style="stroke-width:0.7"/>
<line class="c" x1="1025.0" y1="531.2" x2="1025.0" y2="535.2" style="stroke-width:0.7"/>
<circle class="fc" cx="1025.0" cy="548.0" r="1.5"/>
<line class="c" x1="1023.0" y1="548.0" x2="1027.0" y2="548.0" style="stroke-width:0.7"/>
<line class="c" x1="1025.0" y1="546.0" x2="1025.0" y2="550.0" style="stroke-width:0.7"/>
<circle class="fc" cx="1025.0" cy="562.8" r="1.5"/>
<line class="c" x1="1023.0" y1="562.8" x2="1027.0" y2="562.8" style="stroke-width:0.7"/>
<line class="c" x1="1025.0" y1="560.8" x2="1025.0" y2="564.8" style="stroke-width:0.7"/>
<circle class="fc" cx="974.0" cy="387.3" r="1.5"/>
<line class="c" x1="972.0" y1="387.3" x2="976.0" y2="387.3" style="stroke-width:0.7"/>
<line class="c" x1="974.0" y1="385.3" x2="974.0" y2="389.3" style="stroke-width:0.7"/>
<circle class="fc" cx="974.0" cy="394.6" r="1.5"/>
<line class="c" x1="972.0" y1="394.6" x2="976.0" y2="394.6" style="stroke-width:0.7"/>
<line class="c" x1="974.0" y1="392.6" x2="974.0" y2="396.6" style="stroke-width:0.7"/>
<circle class="fc" cx="986.5" cy="387.3" r="1.5"/>
<line class="c" x1="984.5" y1="387.3" x2="988.5" y2="387.3" style="stroke-width:0.7"/>
<line class="c" x1="986.5" y1="385.3" x2="986.5" y2="389.3" style="stroke-width:0.7"/>
<circle class="fc" cx="986.5" cy="394.6" r="1.5"/>
<line class="c" x1="984.5" y1="394.6" x2="988.5" y2="394.6" style="stroke-width:0.7"/>
<line class="c" x1="986.5" y1="392.6" x2="986.5" y2="396.6" style="stroke-width:0.7"/>
<circle class="fc" cx="999.0" cy="387.3" r="1.5"/>
<line class="c" x1="997.0" y1="387.3" x2="1001.0" y2="387.3" style="stroke-width:0.7"/>
<line class="c" x1="999.0" y1="385.3" x2="999.0" y2="389.3" style="stroke-width:0.7"/>
<circle class="fc" cx="999.0" cy="394.6" r="1.5"/>
<line class="c" x1="997.0" y1="394.6" x2="1001.0" y2="394.6" style="stroke-width:0.7"/>
<line class="c" x1="999.0" y1="392.6" x2="999.0" y2="396.6" style="stroke-width:0.7"/>
<circle class="fc" cx="1009.5" cy="387.3" r="1.5"/>
<line class="c" x1="1007.5" y1="387.3" x2="1011.5" y2="387.3" style="stroke-width:0.7"/>
<line class="c" x1="1009.5" y1="385.3" x2="1009.5" y2="389.3" style="stroke-width:0.7"/>
<circle class="fc" cx="1009.5" cy="394.6" r="1.5"/>
<line class="c" x1="1007.5" y1="394.6" x2="1011.5" y2="394.6" style="stroke-width:0.7"/>
<line class="c" x1="1009.5" y1="392.6" x2="1009.5" y2="396.6" style="stroke-width:0.7"/>
<circle class="fc" cx="953.6" cy="581.3" r="1.5"/>
<line class="c" x1="951.6" y1="581.3" x2="955.6" y2="581.3" style="stroke-width:0.7"/>
<line class="c" x1="953.6" y1="579.3" x2="953.6" y2="583.3" style="stroke-width:0.7"/>
<circle class="fc" cx="961.3" cy="581.3" r="1.5"/>
<line class="c" x1="959.3" y1="581.3" x2="963.3" y2="581.3" style="stroke-width:0.7"/>
<line class="c" x1="961.3" y1="579.3" x2="961.3" y2="583.3" style="stroke-width:0.7"/>
<circle class="fc" cx="974.8" cy="581.3" r="1.5"/>
<line class="c" x1="972.8" y1="581.3" x2="976.8" y2="581.3" style="stroke-width:0.7"/>
<line class="c" x1="974.8" y1="579.3" x2="974.8" y2="583.3" style="stroke-width:0.7"/>
<circle class="fc" cx="988.0" cy="581.3" r="1.5"/>
<line class="c" x1="986.0" y1="581.3" x2="990.0" y2="581.3" style="stroke-width:0.7"/>
<line class="c" x1="988.0" y1="579.3" x2="988.0" y2="583.3" style="stroke-width:0.7"/>
<circle class="fc" cx="1001.0" cy="581.3" r="1.5"/>
<line class="c" x1="999.0" y1="581.3" x2="1003.0" y2="581.3" style="stroke-width:0.7"/>
<line class="c" x1="1001.0" y1="579.3" x2="1001.0" y2="583.3" style="stroke-width:0.7"/>
<circle class="fc" cx="1017.3" cy="581.3" r="1.5"/>
<line class="c" x1="1015.3" y1="581.3" x2="1019.3" y2="581.3" style="stroke-width:0.7"/>
<line class="c" x1="1017.3" y1="579.3" x2="1017.3" y2="583.3" style="stroke-width:0.7"/>
<circle class="fc" cx="1025.0" cy="581.3" r="1.5"/>
<line class="c" x1="1023.0" y1="581.3" x2="1027.0" y2="581.3" style="stroke-width:0.7"/>
<line class="c" x1="1025.0" y1="579.3" x2="1025.0" y2="583.3" style="stroke-width:0.7"/>
<line class="c" x1="1028.6" y1="257.7" x2="1118.7" y2="257.7"/>
<path class="fc" d="M1118.7 257.7 L1109.9 259.4 L1109.9 256.0 Z"/>
<text class="t" x="1047.0" y="255.1" font-size="12.6" textLength="48.0" lengthAdjust="spacingAndGlyphs">2' TO 18'</text>
<path class="c" d="M1028.6 613.4 L1135.6 613.4 L1135.6 645.5 L1132.2 649.0 L1140.5 657.0 L1135.6 661.0 L1135.6 682.6 L949.5 682.6"/>
<circle class="fw" cx="964.2" cy="604.3" r="0.75"/>
<circle class="fw" cx="987.5" cy="592.8" r="0.85"/>
<circle class="fw" cx="1011.9" cy="600.0" r="0.65"/>
<circle class="fw" cx="1010.4" cy="587.8" r="0.85"/>
<circle class="fw" cx="957.1" cy="606.9" r="0.65"/>
<circle class="fw" cx="1020.3" cy="604.4" r="0.85"/>
<circle class="fw" cx="1025.9" cy="605.5" r="0.85"/>
<circle class="fw" cx="997.6" cy="588.3" r="0.75"/>
<circle class="fw" cx="992.0" cy="604.4" r="0.75"/>
<circle class="fw" cx="953.7" cy="605.6" r="0.55"/>
<circle class="fw" cx="961.3" cy="610.1" r="0.85"/>
<circle class="fw" cx="963.9" cy="605.3" r="0.85"/>
<circle class="fw" cx="987.9" cy="592.1" r="0.55"/>
<circle class="fw" cx="986.8" cy="607.5" r="0.55"/>
<circle class="fw" cx="1009.8" cy="592.6" r="0.55"/>
<circle class="fw" cx="961.1" cy="599.1" r="0.85"/>
<circle class="fw" cx="966.9" cy="610.0" r="0.85"/>
<circle class="fw" cx="973.6" cy="610.8" r="0.85"/>
<circle class="fw" cx="975.6" cy="599.3" r="0.75"/>
<circle class="fw" cx="954.0" cy="589.8" r="0.85"/>
<circle class="fw" cx="952.2" cy="589.2" r="0.65"/>
<circle class="fw" cx="994.3" cy="595.3" r="0.55"/>
<circle class="fw" cx="965.4" cy="591.7" r="0.75"/>
<circle class="fw" cx="1013.8" cy="595.6" r="0.75"/>
<circle class="fw" cx="970.2" cy="591.6" r="0.65"/>
<circle class="fw" cx="1009.6" cy="596.6" r="0.55"/>
<circle class="fw" cx="1002.1" cy="609.4" r="0.65"/>
<circle class="fw" cx="982.2" cy="611.6" r="0.55"/>
<circle class="fw" cx="1017.4" cy="599.5" r="0.85"/>
<circle class="fw" cx="1001.4" cy="610.3" r="0.65"/>
<circle class="fw" cx="964.0" cy="589.2" r="0.85"/>
<circle class="fw" cx="1009.3" cy="599.3" r="0.75"/>
<circle class="fw" cx="955.9" cy="593.8" r="0.75"/>
<circle class="fw" cx="954.6" cy="593.6" r="0.85"/>
<circle class="fw" cx="957.1" cy="595.7" r="0.65"/>
<circle class="fw" cx="1024.9" cy="605.7" r="0.85"/>
<circle class="fw" cx="955.7" cy="590.9" r="0.85"/>
<circle class="fw" cx="954.1" cy="592.7" r="0.75"/>
<circle class="fw" cx="1010.9" cy="609.0" r="0.85"/>
<circle class="fw" cx="987.9" cy="609.5" r="0.85"/>
<circle class="fw" cx="974.8" cy="600.5" r="0.75"/>
<circle class="fw" cx="962.3" cy="605.1" r="0.85"/>
<circle class="fw" cx="1002.8" cy="610.8" r="0.55"/>
<circle class="fw" cx="971.6" cy="595.5" r="0.65"/>
<circle class="fw" cx="1015.1" cy="601.8" r="0.75"/>
<circle class="fw" cx="1002.6" cy="605.8" r="0.65"/>
<circle class="fw" cx="961.9" cy="589.8" r="0.55"/>
<circle class="fw" cx="965.8" cy="603.2" r="0.65"/>
<circle class="fw" cx="957.3" cy="590.4" r="0.75"/>
<circle class="fw" cx="961.4" cy="600.6" r="0.75"/>
<circle class="fw" cx="981.4" cy="609.2" r="0.65"/>
<circle class="fw" cx="965.5" cy="608.4" r="0.65"/>
<circle class="fw" cx="1004.6" cy="600.9" r="0.55"/>
<circle class="fw" cx="996.7" cy="599.8" r="0.55"/>
<circle class="fw" cx="1010.6" cy="587.7" r="0.85"/>
<circle class="fw" cx="1016.1" cy="597.2" r="0.65"/>
<circle class="fw" cx="1015.3" cy="593.2" r="0.75"/>
<circle class="fw" cx="1007.3" cy="593.5" r="0.65"/>
<circle class="fw" cx="974.9" cy="609.5" r="0.75"/>
<circle class="fw" cx="1012.6" cy="607.1" r="0.85"/>
<circle class="fw" cx="1022.3" cy="589.9" r="0.55"/>
<circle class="fw" cx="989.7" cy="605.4" r="0.75"/>
<circle class="fw" cx="973.6" cy="602.7" r="0.65"/>
<circle class="fw" cx="956.7" cy="607.4" r="0.65"/>
<circle class="fw" cx="978.3" cy="595.3" r="0.85"/>
<circle class="fw" cx="960.0" cy="589.4" r="0.55"/>
<circle class="fw" cx="998.4" cy="607.2" r="0.85"/>
<circle class="fw" cx="989.4" cy="610.6" r="0.85"/>
<circle class="fw" cx="986.9" cy="600.0" r="0.85"/>
<circle class="fw" cx="957.2" cy="588.1" r="0.85"/>
<circle class="fw" cx="955.1" cy="594.2" r="0.85"/>
<circle class="fw" cx="1005.6" cy="598.6" r="0.65"/>
<circle class="fw" cx="981.6" cy="595.5" r="0.65"/>
<path class="fw" d="M1000.2 610.7 L996.6 610.6 L998.4 607.5 Z"/>
<path class="fw" d="M990.3 602.9 L988.9 606.6 L986.3 603.5 Z"/>
<path class="fw" d="M996.9 603.1 L1000.5 605.2 L996.9 607.3 Z"/>
<path class="fw" d="M1003.3 606.1 L1001.0 602.5 L1005.3 602.3 Z"/>
<path class="fw" d="M982.1 599.9 L982.3 604.2 L978.5 602.3 Z"/>
<path class="fw" d="M1023.1 590.9 L1022.6 587.6 L1025.8 588.9 Z"/>
<path class="fw" d="M979.7 591.5 L982.6 591.0 L981.6 593.8 Z"/>
<path class="fw" d="M974.9 607.1 L976.9 610.1 L973.3 610.3 Z"/>
<path class="fw" d="M960.7 607.7 L963.0 609.9 L959.9 610.8 Z"/>
<path class="fw" d="M976.5 601.0 L979.2 602.9 L976.2 604.3 Z"/>
<path class="fw" d="M1021.1 598.3 L1019.1 594.6 L1023.2 594.8 Z"/>
<path class="fw" d="M965.1 605.7 L962.3 603.1 L965.9 602.0 Z"/>
<circle class="fw" cx="1125.4" cy="624.1" r="0.55"/>
<circle class="fw" cx="1063.0" cy="644.1" r="0.55"/>
<circle class="fw" cx="1085.9" cy="672.2" r="0.55"/>
<circle class="fw" cx="993.9" cy="677.5" r="0.75"/>
<circle class="fw" cx="1128.7" cy="626.6" r="0.85"/>
<circle class="fw" cx="1080.2" cy="618.1" r="0.55"/>
<circle class="fw" cx="1058.7" cy="635.2" r="0.65"/>
<circle class="fw" cx="984.7" cy="622.2" r="0.55"/>
<circle class="fw" cx="1078.4" cy="654.8" r="0.75"/>
<circle class="fw" cx="985.4" cy="640.5" r="0.65"/>
<circle class="fw" cx="1002.6" cy="632.5" r="0.65"/>
<circle class="fw" cx="1030.2" cy="637.2" r="0.55"/>
<circle class="fw" cx="1027.9" cy="631.3" r="0.75"/>
<circle class="fw" cx="1045.6" cy="641.6" r="0.65"/>
<circle class="fw" cx="1007.6" cy="639.3" r="0.55"/>
<circle class="fw" cx="1005.8" cy="653.7" r="0.85"/>
<circle class="fw" cx="1089.1" cy="673.5" r="0.85"/>
<circle class="fw" cx="967.9" cy="679.9" r="0.75"/>
<circle class="fw" cx="969.8" cy="665.8" r="0.55"/>
<circle class="fw" cx="1120.2" cy="677.0" r="0.65"/>
<circle class="fw" cx="1024.5" cy="621.2" r="0.65"/>
<circle class="fw" cx="983.0" cy="650.5" r="0.75"/>
<circle class="fw" cx="984.4" cy="674.2" r="0.65"/>
<circle class="fw" cx="1032.3" cy="619.0" r="0.65"/>
<circle class="fw" cx="1096.1" cy="657.1" r="0.65"/>
<circle class="fw" cx="1070.7" cy="621.5" r="0.65"/>
<circle class="fw" cx="1026.3" cy="668.9" r="0.85"/>
<circle class="fw" cx="959.8" cy="622.7" r="0.65"/>
<circle class="fw" cx="1057.8" cy="679.5" r="0.85"/>
<circle class="fw" cx="1038.2" cy="619.2" r="0.75"/>
<circle class="fw" cx="1124.8" cy="622.1" r="0.75"/>
<circle class="fw" cx="1122.6" cy="616.1" r="0.75"/>
<circle class="fw" cx="1066.9" cy="637.1" r="0.65"/>
<circle class="fw" cx="1065.9" cy="653.8" r="0.75"/>
<circle class="fw" cx="984.1" cy="619.9" r="0.65"/>
<circle class="fw" cx="1015.8" cy="622.6" r="0.65"/>
<circle class="fw" cx="1048.7" cy="646.6" r="0.55"/>
<circle class="fw" cx="984.7" cy="632.9" r="0.55"/>
<circle class="fw" cx="1057.1" cy="655.2" r="0.85"/>
<circle class="fw" cx="1014.3" cy="662.8" r="0.65"/>
<circle class="fw" cx="958.9" cy="639.5" r="0.55"/>
<circle class="fw" cx="989.1" cy="664.0" r="0.85"/>
<circle class="fw" cx="960.9" cy="659.8" r="0.85"/>
<circle class="fw" cx="1036.1" cy="631.1" r="0.65"/>
<circle class="fw" cx="972.4" cy="675.0" r="0.65"/>
<circle class="fw" cx="984.3" cy="677.6" r="0.75"/>
<circle class="fw" cx="962.3" cy="647.4" r="0.75"/>
<circle class="fw" cx="959.6" cy="646.6" r="0.55"/>
<circle class="fw" cx="1002.2" cy="665.0" r="0.65"/>
<circle class="fw" cx="1066.4" cy="679.2" r="0.65"/>
<circle class="fw" cx="1032.2" cy="642.9" r="0.75"/>
<circle class="fw" cx="1014.0" cy="671.2" r="0.55"/>
<circle class="fw" cx="1079.2" cy="654.6" r="0.55"/>
<circle class="fw" cx="983.8" cy="667.2" r="0.75"/>
<circle class="fw" cx="1002.5" cy="670.0" r="0.75"/>
<circle class="fw" cx="986.1" cy="633.0" r="0.65"/>
<circle class="fw" cx="1015.0" cy="666.7" r="0.85"/>
<circle class="fw" cx="1078.1" cy="668.2" r="0.65"/>
<circle class="fw" cx="1042.3" cy="637.3" r="0.55"/>
<circle class="fw" cx="1022.0" cy="657.7" r="0.65"/>
<circle class="fw" cx="1080.0" cy="620.5" r="0.85"/>
<circle class="fw" cx="1013.2" cy="618.4" r="0.65"/>
<circle class="fw" cx="987.6" cy="638.5" r="0.55"/>
<circle class="fw" cx="1047.4" cy="665.0" r="0.55"/>
<circle class="fw" cx="972.5" cy="647.9" r="0.55"/>
<circle class="fw" cx="1098.0" cy="668.7" r="0.55"/>
<circle class="fw" cx="1055.3" cy="675.0" r="0.75"/>
<circle class="fw" cx="1043.4" cy="676.1" r="0.85"/>
<circle class="fw" cx="1056.1" cy="649.2" r="0.75"/>
<circle class="fw" cx="1010.3" cy="659.0" r="0.55"/>
<circle class="fw" cx="1115.2" cy="667.1" r="0.75"/>
<circle class="fw" cx="1074.9" cy="615.1" r="0.65"/>
<circle class="fw" cx="962.4" cy="675.3" r="0.75"/>
<circle class="fw" cx="1112.9" cy="676.0" r="0.55"/>
<circle class="fw" cx="970.7" cy="643.9" r="0.75"/>
<circle class="fw" cx="1118.3" cy="625.3" r="0.75"/>
<circle class="fw" cx="1027.1" cy="638.0" r="0.85"/>
<circle class="fw" cx="1007.5" cy="650.2" r="0.75"/>
<circle class="fw" cx="1115.5" cy="645.2" r="0.75"/>
<circle class="fw" cx="1045.1" cy="629.1" r="0.65"/>
<circle class="fw" cx="1100.9" cy="663.9" r="0.65"/>
<circle class="fw" cx="1032.5" cy="631.7" r="0.65"/>
<circle class="fw" cx="1100.5" cy="622.3" r="0.85"/>
<circle class="fw" cx="1011.1" cy="625.8" r="0.85"/>
<circle class="fw" cx="964.5" cy="637.0" r="0.85"/>
<circle class="fw" cx="975.9" cy="658.4" r="0.85"/>
<circle class="fw" cx="1030.5" cy="650.0" r="0.85"/>
<circle class="fw" cx="1076.2" cy="667.6" r="0.85"/>
<circle class="fw" cx="1017.3" cy="633.5" r="0.55"/>
<circle class="fw" cx="1121.5" cy="622.4" r="0.85"/>
<circle class="fw" cx="1088.4" cy="620.1" r="0.85"/>
<circle class="fw" cx="1095.2" cy="632.3" r="0.65"/>
<circle class="fw" cx="955.7" cy="674.9" r="0.75"/>
<circle class="fw" cx="1049.3" cy="653.1" r="0.65"/>
<circle class="fw" cx="1120.8" cy="636.9" r="0.85"/>
<circle class="fw" cx="1033.3" cy="661.6" r="0.85"/>
<circle class="fw" cx="1072.8" cy="644.3" r="0.85"/>
<circle class="fw" cx="999.4" cy="671.5" r="0.65"/>
<circle class="fw" cx="992.8" cy="649.5" r="0.75"/>
<circle class="fw" cx="1055.7" cy="654.1" r="0.65"/>
<circle class="fw" cx="1062.6" cy="630.6" r="0.85"/>
<circle class="fw" cx="1096.4" cy="639.2" r="0.55"/>
<circle class="fw" cx="1057.1" cy="629.7" r="0.85"/>
<circle class="fw" cx="1019.7" cy="677.8" r="0.65"/>
<circle class="fw" cx="960.3" cy="654.3" r="0.75"/>
<circle class="fw" cx="1069.9" cy="622.0" r="0.65"/>
<circle class="fw" cx="1023.7" cy="621.6" r="0.75"/>
<circle class="fw" cx="954.3" cy="625.7" r="0.75"/>
<circle class="fw" cx="980.6" cy="676.2" r="0.65"/>
<circle class="fw" cx="1079.8" cy="631.9" r="0.55"/>
<circle class="fw" cx="1038.2" cy="626.4" r="0.55"/>
<circle class="fw" cx="1077.8" cy="658.5" r="0.85"/>
<circle class="fw" cx="1049.4" cy="636.1" r="0.75"/>
<circle class="fw" cx="993.3" cy="626.6" r="0.55"/>
<circle class="fw" cx="1063.2" cy="638.6" r="0.55"/>
<circle class="fw" cx="1101.6" cy="650.2" r="0.85"/>
<circle class="fw" cx="1065.4" cy="636.8" r="0.85"/>
<circle class="fw" cx="1090.8" cy="621.1" r="0.85"/>
<circle class="fw" cx="999.7" cy="652.0" r="0.75"/>
<circle class="fw" cx="978.5" cy="673.9" r="0.85"/>
<circle class="fw" cx="1044.6" cy="673.9" r="0.75"/>
<circle class="fw" cx="1049.4" cy="625.2" r="0.55"/>
<circle class="fw" cx="1033.8" cy="640.0" r="0.55"/>
<circle class="fw" cx="1017.3" cy="616.7" r="0.85"/>
<circle class="fw" cx="1022.4" cy="633.7" r="0.65"/>
<circle class="fw" cx="1121.1" cy="680.1" r="0.55"/>
<circle class="fw" cx="959.5" cy="668.2" r="0.75"/>
<circle class="fw" cx="1025.1" cy="626.8" r="0.65"/>
<circle class="fw" cx="982.0" cy="616.2" r="0.55"/>
<circle class="fw" cx="986.9" cy="642.4" r="0.85"/>
<circle class="fw" cx="1066.3" cy="634.9" r="0.75"/>
<circle class="fw" cx="1084.6" cy="638.9" r="0.55"/>
<circle class="fw" cx="1053.0" cy="678.4" r="0.65"/>
<circle class="fw" cx="986.1" cy="640.4" r="0.55"/>
<circle class="fw" cx="1098.7" cy="665.4" r="0.75"/>
<circle class="fw" cx="1085.5" cy="615.6" r="0.85"/>
<circle class="fw" cx="1047.1" cy="672.6" r="0.85"/>
<circle class="fw" cx="986.3" cy="628.7" r="0.75"/>
<circle class="fw" cx="960.0" cy="616.8" r="0.85"/>
<circle class="fw" cx="973.3" cy="637.7" r="0.55"/>
<circle class="fw" cx="1067.5" cy="677.2" r="0.85"/>
<circle class="fw" cx="982.9" cy="631.8" r="0.65"/>
<circle class="fw" cx="1093.4" cy="655.0" r="0.85"/>
<circle class="fw" cx="972.8" cy="671.4" r="0.65"/>
<circle class="fw" cx="998.5" cy="622.9" r="0.75"/>
<circle class="fw" cx="1127.6" cy="674.5" r="0.75"/>
<circle class="fw" cx="1015.0" cy="679.7" r="0.55"/>
<circle class="fw" cx="1073.0" cy="659.0" r="0.65"/>
<circle class="fw" cx="988.1" cy="628.7" r="0.65"/>
<circle class="fw" cx="1009.8" cy="623.5" r="0.55"/>
<circle class="fw" cx="1120.7" cy="629.7" r="0.55"/>
<circle class="fw" cx="1057.6" cy="669.3" r="0.75"/>
<circle class="fw" cx="972.2" cy="642.2" r="0.55"/>
<circle class="fw" cx="1086.2" cy="616.3" r="0.85"/>
<circle class="fw" cx="1087.8" cy="641.8" r="0.65"/>
<circle class="fw" cx="1089.1" cy="664.8" r="0.65"/>
<circle class="fw" cx="1010.1" cy="617.8" r="0.65"/>
<circle class="fw" cx="967.5" cy="664.2" r="0.85"/>
<circle class="fw" cx="994.8" cy="651.1" r="0.75"/>
<circle class="fw" cx="994.2" cy="623.2" r="0.75"/>
<circle class="fw" cx="1074.5" cy="659.9" r="0.55"/>
<circle class="fw" cx="1057.0" cy="616.5" r="0.75"/>
<circle class="fw" cx="1123.1" cy="648.9" r="0.85"/>
<circle class="fw" cx="970.8" cy="642.3" r="0.55"/>
<circle class="fw" cx="1018.4" cy="676.7" r="0.75"/>
<circle class="fw" cx="1022.7" cy="631.1" r="0.65"/>
<circle class="fw" cx="969.1" cy="634.2" r="0.85"/>
<circle class="fw" cx="1011.0" cy="632.3" r="0.75"/>
<circle class="fw" cx="1082.8" cy="677.5" r="0.75"/>
<circle class="fw" cx="1090.8" cy="678.7" r="0.75"/>
<circle class="fw" cx="1101.2" cy="633.2" r="0.75"/>
<circle class="fw" cx="1126.9" cy="666.7" r="0.85"/>
<circle class="fw" cx="1051.5" cy="626.1" r="0.55"/>
<circle class="fw" cx="1041.2" cy="680.0" r="0.65"/>
<circle class="fw" cx="994.5" cy="643.0" r="0.55"/>
<circle class="fw" cx="1099.8" cy="645.4" r="0.85"/>
<circle class="fw" cx="1032.6" cy="678.3" r="0.85"/>
<circle class="fw" cx="967.8" cy="638.0" r="0.85"/>
<circle class="fw" cx="972.5" cy="634.3" r="0.75"/>
<circle class="fw" cx="1121.6" cy="667.2" r="0.85"/>
<circle class="fw" cx="1049.5" cy="679.2" r="0.85"/>
<circle class="fw" cx="1025.5" cy="630.7" r="0.85"/>
<circle class="fw" cx="1019.5" cy="673.8" r="0.85"/>
<circle class="fw" cx="1124.9" cy="661.0" r="0.55"/>
<circle class="fw" cx="1018.4" cy="616.1" r="0.75"/>
<circle class="fw" cx="1088.0" cy="662.1" r="0.55"/>
<circle class="fw" cx="1039.6" cy="676.7" r="0.85"/>
<circle class="fw" cx="953.8" cy="631.1" r="0.75"/>
<circle class="fw" cx="1036.5" cy="618.2" r="0.65"/>
<circle class="fw" cx="1130.1" cy="638.2" r="0.55"/>
<circle class="fw" cx="1046.6" cy="618.0" r="0.55"/>
<circle class="fw" cx="956.8" cy="664.2" r="0.85"/>
<circle class="fw" cx="1127.6" cy="663.8" r="0.65"/>
<circle class="fw" cx="1055.2" cy="667.4" r="0.55"/>
<circle class="fw" cx="1057.8" cy="622.8" r="0.75"/>
<circle class="fw" cx="958.9" cy="640.4" r="0.65"/>
<circle class="fw" cx="1126.9" cy="663.1" r="0.55"/>
<circle class="fw" cx="1130.2" cy="668.2" r="0.65"/>
<circle class="fw" cx="1049.0" cy="626.3" r="0.65"/>
<circle class="fw" cx="969.4" cy="625.6" r="0.75"/>
<circle class="fw" cx="985.3" cy="644.2" r="0.55"/>
<circle class="fw" cx="1052.2" cy="638.0" r="0.65"/>
<circle class="fw" cx="1005.5" cy="655.6" r="0.75"/>
<circle class="fw" cx="997.1" cy="675.2" r="0.55"/>
<circle class="fw" cx="1005.2" cy="658.8" r="0.65"/>
<circle class="fw" cx="1065.4" cy="675.1" r="0.65"/>
<circle class="fw" cx="1132.9" cy="637.6" r="0.75"/>
<circle class="fw" cx="1048.0" cy="621.0" r="0.85"/>
<circle class="fw" cx="974.7" cy="677.3" r="0.85"/>
<circle class="fw" cx="1120.3" cy="634.0" r="0.65"/>
<circle class="fw" cx="1043.1" cy="663.8" r="0.55"/>
<circle class="fw" cx="1056.2" cy="675.7" r="0.65"/>
<circle class="fw" cx="998.3" cy="664.1" r="0.85"/>
<circle class="fw" cx="1007.3" cy="673.4" r="0.85"/>
<circle class="fw" cx="971.7" cy="625.5" r="0.75"/>
<circle class="fw" cx="1031.6" cy="651.6" r="0.55"/>
<circle class="fw" cx="1012.5" cy="625.1" r="0.75"/>
<circle class="fw" cx="1066.2" cy="639.5" r="0.85"/>
<circle class="fw" cx="960.0" cy="672.0" r="0.85"/>
<circle class="fw" cx="1084.9" cy="620.8" r="0.75"/>
<circle class="fw" cx="1089.6" cy="656.4" r="0.75"/>
<circle class="fw" cx="1081.5" cy="626.8" r="0.65"/>
<circle class="fw" cx="1068.7" cy="665.5" r="0.65"/>
<circle class="fw" cx="1120.9" cy="673.5" r="0.85"/>
<circle class="fw" cx="1130.5" cy="621.8" r="0.85"/>
<circle class="fw" cx="1106.6" cy="660.5" r="0.65"/>
<circle class="fw" cx="1009.9" cy="622.9" r="0.85"/>
<circle class="fw" cx="1120.4" cy="641.1" r="0.85"/>
<circle class="fw" cx="997.2" cy="634.8" r="0.65"/>
<circle class="fw" cx="1127.0" cy="625.7" r="0.85"/>
<circle class="fw" cx="1092.9" cy="660.0" r="0.85"/>
<circle class="fw" cx="1023.7" cy="670.3" r="0.85"/>
<circle class="fw" cx="1095.5" cy="654.5" r="0.75"/>
<circle class="fw" cx="1026.8" cy="669.2" r="0.55"/>
<circle class="fw" cx="995.3" cy="657.1" r="0.65"/>
<circle class="fw" cx="1011.1" cy="643.3" r="0.85"/>
<circle class="fw" cx="978.9" cy="670.4" r="0.85"/>
<circle class="fw" cx="1102.7" cy="669.6" r="0.75"/>
<circle class="fw" cx="1032.9" cy="633.8" r="0.65"/>
<circle class="fw" cx="1111.9" cy="646.1" r="0.75"/>
<circle class="fw" cx="959.3" cy="656.2" r="0.65"/>
<circle class="fw" cx="959.9" cy="639.5" r="0.55"/>
<circle class="fw" cx="1047.9" cy="620.8" r="0.75"/>
<circle class="fw" cx="955.4" cy="643.2" r="0.85"/>
<circle class="fw" cx="1018.3" cy="640.5" r="0.55"/>
<circle class="fw" cx="1027.0" cy="647.9" r="0.65"/>
<circle class="fw" cx="1104.5" cy="626.4" r="0.75"/>
<circle class="fw" cx="1088.1" cy="673.4" r="0.75"/>
<circle class="fw" cx="1066.3" cy="657.0" r="0.85"/>
<circle class="fw" cx="1130.4" cy="679.5" r="0.55"/>
<circle class="fw" cx="1032.8" cy="656.9" r="0.75"/>
<circle class="fw" cx="1041.7" cy="627.4" r="0.85"/>
<circle class="fw" cx="1044.2" cy="618.0" r="0.65"/>
<circle class="fw" cx="982.3" cy="652.3" r="0.55"/>
<circle class="fw" cx="999.7" cy="639.2" r="0.75"/>
<circle class="fw" cx="956.8" cy="659.4" r="0.55"/>
<circle class="fw" cx="996.3" cy="659.3" r="0.85"/>
<circle class="fw" cx="989.0" cy="653.7" r="0.85"/>
<circle class="fw" cx="1107.3" cy="625.0" r="0.75"/>
<circle class="fw" cx="1092.2" cy="633.9" r="0.55"/>
<circle class="fw" cx="1075.5" cy="675.7" r="0.55"/>
<circle class="fw" cx="995.0" cy="675.0" r="0.55"/>
<circle class="fw" cx="1072.2" cy="657.5" r="0.65"/>
<circle class="fw" cx="1063.5" cy="676.0" r="0.65"/>
<circle class="fw" cx="1087.1" cy="636.0" r="0.85"/>
<circle class="fw" cx="1111.1" cy="663.9" r="0.55"/>
<circle class="fw" cx="1048.8" cy="615.5" r="0.55"/>
<circle class="fw" cx="1042.4" cy="624.6" r="0.65"/>
<circle class="fw" cx="1000.3" cy="666.5" r="0.55"/>
<circle class="fw" cx="1017.0" cy="655.5" r="0.75"/>
<circle class="fw" cx="1004.8" cy="671.6" r="0.85"/>
<circle class="fw" cx="1131.2" cy="652.5" r="0.55"/>
<circle class="fw" cx="988.1" cy="642.9" r="0.85"/>
<circle class="fw" cx="1063.0" cy="637.7" r="0.85"/>
<circle class="fw" cx="1066.6" cy="659.3" r="0.65"/>
<circle class="fw" cx="1088.7" cy="673.4" r="0.55"/>
<circle class="fw" cx="1130.1" cy="673.6" r="0.65"/>
<circle class="fw" cx="1122.8" cy="671.4" r="0.85"/>
<circle class="fw" cx="1112.5" cy="656.7" r="0.85"/>
<circle class="fw" cx="1044.2" cy="636.9" r="0.65"/>
<circle class="fw" cx="991.8" cy="640.0" r="0.55"/>
<circle class="fw" cx="959.9" cy="632.4" r="0.65"/>
<circle class="fw" cx="977.0" cy="627.3" r="0.85"/>
<circle class="fw" cx="1044.5" cy="654.6" r="0.55"/>
<circle class="fw" cx="1039.8" cy="639.4" r="0.55"/>
<circle class="fw" cx="1092.5" cy="667.5" r="0.75"/>
<circle class="fw" cx="953.7" cy="631.6" r="0.75"/>
<circle class="fw" cx="1125.9" cy="643.8" r="0.55"/>
<circle class="fw" cx="1092.4" cy="677.7" r="0.55"/>
<circle class="fw" cx="1011.3" cy="657.2" r="0.75"/>
<circle class="fw" cx="1122.1" cy="631.0" r="0.55"/>
<circle class="fw" cx="1082.6" cy="625.2" r="0.55"/>
<circle class="fw" cx="1112.9" cy="637.9" r="0.75"/>
<circle class="fw" cx="1011.5" cy="655.2" r="0.65"/>
<circle class="fw" cx="1080.2" cy="649.0" r="0.55"/>
<circle class="fw" cx="958.7" cy="616.4" r="0.75"/>
<circle class="fw" cx="1047.3" cy="659.1" r="0.55"/>
<circle class="fw" cx="966.7" cy="619.4" r="0.55"/>
<circle class="fw" cx="1043.7" cy="647.0" r="0.85"/>
<circle class="fw" cx="976.6" cy="649.9" r="0.75"/>
<circle class="fw" cx="1038.2" cy="631.0" r="0.65"/>
<circle class="fw" cx="1101.5" cy="646.9" r="0.85"/>
<circle class="fw" cx="1096.8" cy="639.3" r="0.55"/>
<circle class="fw" cx="1091.7" cy="625.0" r="0.55"/>
<circle class="fw" cx="1005.4" cy="657.6" r="0.55"/>
<circle class="fw" cx="989.6" cy="680.0" r="0.65"/>
<circle class="fw" cx="1128.7" cy="635.3" r="0.85"/>
<circle class="fw" cx="1129.5" cy="647.4" r="0.55"/>
<circle class="fw" cx="1028.5" cy="617.1" r="0.85"/>
<circle class="fw" cx="952.0" cy="656.2" r="0.85"/>
<circle class="fw" cx="1086.0" cy="639.0" r="0.55"/>
<circle class="fw" cx="1055.9" cy="679.7" r="0.85"/>
<circle class="fw" cx="1053.2" cy="629.1" r="0.85"/>
<circle class="fw" cx="1065.2" cy="618.6" r="0.55"/>
<circle class="fw" cx="957.1" cy="633.4" r="0.65"/>
<circle class="fw" cx="1052.5" cy="619.0" r="0.55"/>
<circle class="fw" cx="987.9" cy="641.5" r="0.85"/>
<circle class="fw" cx="1051.9" cy="654.9" r="0.85"/>
<circle class="fw" cx="1119.8" cy="629.6" r="0.65"/>
<circle class="fw" cx="966.3" cy="638.7" r="0.85"/>
<circle class="fw" cx="1065.7" cy="649.7" r="0.85"/>
<circle class="fw" cx="989.5" cy="657.6" r="0.85"/>
<circle class="fw" cx="1122.3" cy="622.6" r="0.55"/>
<circle class="fw" cx="975.3" cy="653.6" r="0.85"/>
<circle class="fw" cx="987.1" cy="676.6" r="0.65"/>
<circle class="fw" cx="1068.8" cy="658.9" r="0.55"/>
<circle class="fw" cx="1094.3" cy="630.2" r="0.75"/>
<circle class="fw" cx="1028.4" cy="651.5" r="0.75"/>
<circle class="fw" cx="1122.7" cy="661.9" r="0.55"/>
<circle class="fw" cx="1045.7" cy="641.3" r="0.85"/>
<circle class="fw" cx="1008.9" cy="618.8" r="0.65"/>
<circle class="fw" cx="1032.0" cy="673.1" r="0.85"/>
<circle class="fw" cx="1111.0" cy="616.9" r="0.75"/>
<circle class="fw" cx="1111.0" cy="656.8" r="0.65"/>
<circle class="fw" cx="1079.5" cy="672.3" r="0.65"/>
<circle class="fw" cx="1066.3" cy="674.0" r="0.75"/>
<circle class="fw" cx="1021.2" cy="623.0" r="0.75"/>
<circle class="fw" cx="1039.0" cy="668.2" r="0.85"/>
<circle class="fw" cx="1116.1" cy="626.6" r="0.65"/>
<circle class="fw" cx="1088.8" cy="671.3" r="0.85"/>
<circle class="fw" cx="1092.3" cy="658.7" r="0.65"/>
<circle class="fw" cx="1123.4" cy="679.5" r="0.65"/>
<circle class="fw" cx="1004.9" cy="653.0" r="0.75"/>
<circle class="fw" cx="970.6" cy="616.8" r="0.75"/>
<circle class="fw" cx="1131.8" cy="615.2" r="0.65"/>
<circle class="fw" cx="1056.9" cy="643.1" r="0.75"/>
<circle class="fw" cx="1111.3" cy="630.9" r="0.65"/>
<circle class="fw" cx="980.6" cy="643.6" r="0.75"/>
<circle class="fw" cx="1025.1" cy="659.4" r="0.55"/>
<circle class="fw" cx="1109.5" cy="648.9" r="0.85"/>
<circle class="fw" cx="1069.8" cy="650.2" r="0.65"/>
<circle class="fw" cx="1071.9" cy="631.7" r="0.85"/>
<circle class="fw" cx="1059.7" cy="622.4" r="0.75"/>
<circle class="fw" cx="976.3" cy="621.6" r="0.85"/>
<circle class="fw" cx="1115.8" cy="622.8" r="0.85"/>
<circle class="fw" cx="1041.7" cy="675.5" r="0.85"/>
<circle class="fw" cx="1061.0" cy="642.4" r="0.75"/>
<circle class="fw" cx="1000.2" cy="636.2" r="0.65"/>
<circle class="fw" cx="963.8" cy="625.3" r="0.75"/>
<circle class="fw" cx="1043.9" cy="644.5" r="0.65"/>
<circle class="fw" cx="1067.2" cy="646.3" r="0.85"/>
<circle class="fw" cx="1013.3" cy="617.0" r="0.65"/>
<circle class="fw" cx="1025.8" cy="621.4" r="0.85"/>
<circle class="fw" cx="1097.7" cy="632.1" r="0.85"/>
<circle class="fw" cx="1085.8" cy="671.2" r="0.75"/>
<circle class="fw" cx="977.6" cy="649.9" r="0.85"/>
<circle class="fw" cx="1040.1" cy="649.4" r="0.65"/>
<circle class="fw" cx="1087.5" cy="655.7" r="0.55"/>
<circle class="fw" cx="955.5" cy="675.4" r="0.75"/>
<circle class="fw" cx="971.0" cy="657.7" r="0.65"/>
<circle class="fw" cx="1040.9" cy="661.4" r="0.55"/>
<circle class="fw" cx="1053.0" cy="671.7" r="0.85"/>
<circle class="fw" cx="1127.9" cy="631.6" r="0.55"/>
<circle class="fw" cx="1029.5" cy="671.7" r="0.75"/>
<circle class="fw" cx="1068.7" cy="616.7" r="0.75"/>
<circle class="fw" cx="971.4" cy="616.0" r="0.75"/>
<circle class="fw" cx="1085.6" cy="670.9" r="0.85"/>
<circle class="fw" cx="1093.9" cy="641.7" r="0.75"/>
<circle class="fw" cx="1077.7" cy="671.4" r="0.85"/>
<circle class="fw" cx="1115.5" cy="652.7" r="0.75"/>
<circle class="fw" cx="1132.1" cy="625.9" r="0.85"/>
<circle class="fw" cx="1003.8" cy="639.8" r="0.85"/>
<circle class="fw" cx="999.7" cy="672.0" r="0.85"/>
<circle class="fw" cx="952.1" cy="632.9" r="0.75"/>
<circle class="fw" cx="1035.2" cy="615.8" r="0.65"/>
<circle class="fw" cx="1070.9" cy="675.4" r="0.75"/>
<circle class="fw" cx="970.2" cy="631.1" r="0.75"/>
<circle class="fw" cx="956.2" cy="632.8" r="0.85"/>
<circle class="fw" cx="987.9" cy="623.6" r="0.75"/>
<circle class="fw" cx="953.5" cy="676.5" r="0.65"/>
<circle class="fw" cx="1004.1" cy="620.3" r="0.85"/>
<circle class="fw" cx="1083.1" cy="677.1" r="0.55"/>
<circle class="fw" cx="952.1" cy="675.6" r="0.85"/>
<circle class="fw" cx="1088.8" cy="647.8" r="0.85"/>
<circle class="fw" cx="973.3" cy="655.7" r="0.85"/>
<circle class="fw" cx="1092.5" cy="615.3" r="0.55"/>
<circle class="fw" cx="1035.3" cy="639.2" r="0.65"/>
<circle class="fw" cx="964.2" cy="677.4" r="0.55"/>
<circle class="fw" cx="1109.5" cy="625.3" r="0.65"/>
<circle class="fw" cx="992.6" cy="641.9" r="0.55"/>
<circle class="fw" cx="1033.8" cy="617.8" r="0.85"/>
<circle class="fw" cx="967.7" cy="673.4" r="0.55"/>
<circle class="fw" cx="962.9" cy="653.7" r="0.65"/>
<circle class="fw" cx="1014.2" cy="640.1" r="0.75"/>
<circle class="fw" cx="1030.8" cy="678.0" r="0.55"/>
<circle class="fw" cx="1120.7" cy="648.5" r="0.65"/>
<circle class="fw" cx="1103.7" cy="671.4" r="0.65"/>
<circle class="fw" cx="1104.3" cy="668.6" r="0.85"/>
<circle class="fw" cx="967.7" cy="655.6" r="0.65"/>
<circle class="fw" cx="1087.2" cy="673.3" r="0.85"/>
<circle class="fw" cx="1011.3" cy="675.3" r="0.85"/>
<circle class="fw" cx="967.8" cy="679.7" r="0.85"/>
<circle class="fw" cx="1027.0" cy="662.0" r="0.75"/>
<circle class="fw" cx="1000.5" cy="624.9" r="0.85"/>
<circle class="fw" cx="1084.2" cy="651.1" r="0.75"/>
<circle class="fw" cx="1046.9" cy="619.0" r="0.55"/>
<circle class="fw" cx="1042.4" cy="632.4" r="0.55"/>
<circle class="fw" cx="1092.4" cy="658.4" r="0.55"/>
<circle class="fw" cx="1110.6" cy="646.1" r="0.65"/>
<circle class="fw" cx="1011.8" cy="621.5" r="0.85"/>
<circle class="fw" cx="996.9" cy="620.3" r="0.55"/>
<circle class="fw" cx="976.9" cy="643.1" r="0.55"/>
<circle class="fw" cx="1031.9" cy="633.9" r="0.85"/>
<circle class="fw" cx="1018.3" cy="675.6" r="0.75"/>
<circle class="fw" cx="1058.8" cy="635.5" r="0.75"/>
<circle class="fw" cx="1106.6" cy="677.9" r="0.75"/>
<circle class="fw" cx="1014.7" cy="640.6" r="0.75"/>
<circle class="fw" cx="1131.2" cy="679.4" r="0.65"/>
<circle class="fw" cx="1020.1" cy="662.8" r="0.85"/>
<circle class="fw" cx="983.5" cy="641.7" r="0.85"/>
<circle class="fw" cx="1000.4" cy="644.5" r="0.55"/>
<circle class="fw" cx="1061.9" cy="676.5" r="0.75"/>
<circle class="fw" cx="1032.1" cy="639.5" r="0.75"/>
<circle class="fw" cx="1086.9" cy="634.6" r="0.75"/>
<circle class="fw" cx="958.7" cy="647.5" r="0.85"/>
<circle class="fw" cx="1026.1" cy="647.1" r="0.55"/>
<circle class="fw" cx="964.3" cy="641.7" r="0.75"/>
<circle class="fw" cx="1069.7" cy="673.0" r="0.65"/>
<circle class="fw" cx="963.2" cy="663.5" r="0.75"/>
<path class="fw" d="M1040.2 668.7 L1038.2 671.3 L1037.0 668.3 Z"/>
<path class="fw" d="M1006.0 665.0 L1005.0 661.6 L1008.5 662.4 Z"/>
<path class="fw" d="M1024.7 656.4 L1027.4 659.6 L1023.3 660.4 Z"/>
<path class="fw" d="M1111.7 664.6 L1113.9 667.9 L1109.9 668.2 Z"/>
<path class="fw" d="M961.9 668.5 L957.7 669.7 L958.7 665.5 Z"/>
<path class="fw" d="M963.5 629.3 L962.2 626.6 L965.2 626.9 Z"/>
<path class="fw" d="M986.6 627.4 L989.0 630.7 L984.9 631.1 Z"/>
<path class="fw" d="M1074.5 642.8 L1075.0 639.2 L1077.9 641.4 Z"/>
<path class="fw" d="M963.5 657.4 L960.0 656.8 L962.3 654.1 Z"/>
<path class="fw" d="M1013.2 679.2 L1009.7 677.8 L1012.6 675.4 Z"/>
<path class="fw" d="M958.7 654.1 L955.6 652.5 L958.5 650.7 Z"/>
<path class="fw" d="M1105.4 634.5 L1107.0 638.2 L1103.0 637.7 Z"/>
<path class="fw" d="M991.9 657.9 L995.8 659.6 L992.4 662.1 Z"/>
<path class="fw" d="M975.7 642.4 L973.7 645.2 L972.2 642.0 Z"/>
<path class="fw" d="M1124.8 675.9 L1125.0 672.1 L1128.2 674.1 Z"/>
<path class="fw" d="M1050.7 642.8 L1054.9 644.0 L1051.9 647.0 Z"/>
<path class="fw" d="M1027.0 627.1 L1024.6 623.8 L1028.7 623.3 Z"/>
<path class="fw" d="M1071.8 643.7 L1074.7 644.4 L1072.6 646.6 Z"/>
<path class="fw" d="M1025.5 641.6 L1028.7 643.2 L1025.7 645.3 Z"/>
<path class="fw" d="M978.6 665.9 L975.9 664.9 L978.1 663.0 Z"/>
<path class="fw" d="M1100.2 656.7 L1102.2 659.9 L1098.4 660.1 Z"/>
<path class="fw" d="M1046.2 651.1 L1045.2 655.1 L1042.3 652.2 Z"/>
<path class="fw" d="M1122.4 647.9 L1125.0 646.4 L1125.0 649.4 Z"/>
<path class="fw" d="M963.0 660.2 L961.0 663.8 L958.8 660.2 Z"/>
<path class="fw" d="M1023.8 652.3 L1020.1 653.1 L1021.3 649.6 Z"/>
<path class="fw" d="M1059.7 652.0 L1059.3 654.8 L1057.0 653.0 Z"/>
<path class="fw" d="M1034.4 624.4 L1038.0 623.3 L1037.1 627.0 Z"/>
<path class="fw" d="M1064.8 653.6 L1061.1 651.9 L1064.5 649.5 Z"/>
<path class="fw" d="M985.6 625.7 L985.9 629.0 L982.9 627.6 Z"/>
<path class="fw" d="M1057.6 679.5 L1056.2 676.0 L1060.0 676.5 Z"/>
<path class="fw" d="M988.5 652.1 L991.5 653.4 L988.8 655.4 Z"/>
<path class="fw" d="M1113.4 634.4 L1112.0 631.0 L1115.7 631.5 Z"/>
<path class="fw" d="M1024.8 645.2 L1021.2 647.1 L1021.3 643.1 Z"/>
<path class="fw" d="M979.1 661.3 L982.1 661.1 L980.8 663.9 Z"/>
<path class="fw" d="M1084.8 672.7 L1088.6 672.1 L1087.2 675.7 Z"/>
<path class="fw" d="M1019.1 632.5 L1018.1 636.2 L1015.4 633.4 Z"/>
<path class="fw" d="M971.9 620.6 L968.1 622.6 L968.2 618.3 Z"/>
<path class="fw" d="M1087.5 663.4 L1087.3 659.6 L1090.6 661.3 Z"/>
<path class="fw" d="M1048.1 643.1 L1049.9 645.5 L1046.9 645.8 Z"/>
<path class="fw" d="M983.3 627.9 L985.1 630.3 L982.1 630.6 Z"/>
<path class="fw" d="M980.9 645.2 L983.3 647.3 L980.3 648.3 Z"/>
<path class="fw" d="M1046.1 664.5 L1046.6 667.7 L1043.6 666.6 Z"/>
<path class="fw" d="M1088.4 635.3 L1090.9 632.2 L1092.3 635.9 Z"/>
<path class="fw" d="M975.5 620.8 L972.4 621.9 L973.0 618.7 Z"/>
<path class="fw" d="M1059.3 657.8 L1062.8 656.3 L1062.4 660.0 Z"/>
<path class="fw" d="M1082.2 621.3 L1084.6 623.3 L1081.7 624.3 Z"/>
<path class="fw" d="M993.1 668.5 L996.7 669.4 L994.2 672.0 Z"/>
<path class="fw" d="M994.1 666.2 L998.0 664.9 L997.1 669.0 Z"/>
<path class="fw" d="M1033.9 629.9 L1033.3 627.0 L1036.1 628.0 Z"/>
<path class="fw" d="M1048.3 643.8 L1045.2 645.9 L1045.0 642.2 Z"/>
<path class="fw" d="M1061.6 641.3 L1057.4 640.9 L1059.9 637.4 Z"/>
<path class="fw" d="M975.1 661.8 L971.8 663.2 L972.3 659.6 Z"/>
<path class="fw" d="M1008.1 625.5 L1007.1 629.0 L1004.6 626.4 Z"/>
<path class="fw" d="M990.7 665.2 L988.6 661.4 L992.9 661.4 Z"/>
<path class="fw" d="M1018.9 620.4 L1022.2 622.8 L1018.5 624.4 Z"/>
<path class="fw" d="M1123.7 667.2 L1122.9 663.6 L1126.5 664.6 Z"/>
<path class="fw" d="M1077.1 655.0 L1074.5 652.1 L1078.4 651.3 Z"/>
<path class="fw" d="M975.7 636.6 L974.4 632.5 L978.7 633.5 Z"/>
<path class="fw" d="M1093.0 647.8 L1093.2 650.9 L1090.4 649.6 Z"/>
<path class="fw" d="M1014.7 665.9 L1016.5 669.3 L1012.6 669.2 Z"/>
<path class="fw" d="M1102.0 654.5 L1105.0 656.1 L1102.2 657.9 Z"/>
<path class="fw" d="M1110.2 631.2 L1106.9 633.0 L1107.0 629.2 Z"/>
<path class="fw" d="M1083.1 633.4 L1079.4 635.7 L1079.3 631.4 Z"/>
<path class="fw" d="M984.5 670.0 L980.4 668.7 L983.5 665.8 Z"/>
<path class="fw" d="M1044.2 627.5 L1045.3 630.7 L1041.9 630.1 Z"/>
<path class="fw" d="M973.2 660.5 L970.5 662.3 L970.3 659.1 Z"/>
<path class="fw" d="M1045.3 628.2 L1045.7 631.6 L1042.5 630.3 Z"/>
<path class="fw" d="M1117.0 652.1 L1114.7 649.9 L1117.8 649.1 Z"/>
<path class="fw" d="M1067.6 654.8 L1064.4 653.2 L1067.3 651.3 Z"/>
<path class="fw" d="M1028.5 654.8 L1026.9 652.0 L1030.2 652.0 Z"/>
<path class="fw" d="M1019.1 619.1 L1023.1 620.7 L1019.8 623.4 Z"/>
<path class="fw" d="M1028.0 658.9 L1026.9 662.9 L1024.0 659.9 Z"/>
<path class="fw" d="M965.9 644.6 L965.3 648.8 L961.9 646.2 Z"/>
<path class="fw" d="M1117.7 625.9 L1114.2 626.8 L1115.2 623.2 Z"/>
<path class="fw" d="M1066.1 629.1 L1063.2 627.8 L1065.8 626.0 Z"/>
<path class="fw" d="M969.5 672.9 L971.0 669.3 L973.3 672.4 Z"/>
<path class="fw" d="M1003.0 641.2 L1000.6 638.4 L1004.1 637.7 Z"/>
<path class="fw" d="M1129.2 652.4 L1128.0 656.6 L1125.0 653.5 Z"/>
<path class="fw" d="M1105.3 656.9 L1103.9 653.6 L1107.5 654.0 Z"/>
<path class="fw" d="M1088.6 659.9 L1085.1 660.8 L1086.1 657.3 Z"/>
<path class="fw" d="M1110.7 673.7 L1107.1 675.1 L1107.7 671.3 Z"/>
<path class="jb" d="M970.4 574.4 L970.4 614.6 L977.9 614.6" style="stroke-width:3.7"/>
<circle cx="970.4" cy="574.4" r="2.5" fill="#e4eef2"/>
<path class="jb" d="M1007.8 574.4 L1007.8 614.6 L1000.3 614.6" style="stroke-width:3.7"/>
<circle cx="1007.8" cy="574.4" r="2.5" fill="#e4eef2"/>
<clipPath id="clipG2"><path d="M888.3 620.6 L948.8 616.2 L948.8 642.2 L888.3 644.8 Z"/></clipPath>
<g clip-path="url(#clipG2)">
<line class="w" x1="882.1" y1="612.5" x2="894.3" y2="612.5" style="stroke-width:1.75"/>
<line class="w" x1="882.1" y1="616.0" x2="894.3" y2="616.0" style="stroke-width:1.75"/>
<line class="w" x1="882.1" y1="619.5" x2="894.3" y2="619.5" style="stroke-width:1.75"/>
<line class="w" x1="884.7" y1="620.3" x2="884.7" y2="632.5" style="stroke-width:1.75"/>
<line class="w" x1="888.2" y1="620.3" x2="888.2" y2="632.5" style="stroke-width:1.75"/>
<line class="w" x1="891.7" y1="620.3" x2="891.7" y2="632.5" style="stroke-width:1.75"/>
<line class="w" x1="882.1" y1="633.3" x2="894.3" y2="633.3" style="stroke-width:1.75"/>
<line class="w" x1="882.1" y1="636.8" x2="894.3" y2="636.8" style="stroke-width:1.75"/>
<line class="w" x1="882.1" y1="640.3" x2="894.3" y2="640.3" style="stroke-width:1.75"/>
<line class="w" x1="884.7" y1="641.1" x2="884.7" y2="653.3" style="stroke-width:1.75"/>
<line class="w" x1="888.2" y1="641.1" x2="888.2" y2="653.3" style="stroke-width:1.75"/>
<line class="w" x1="891.7" y1="641.1" x2="891.7" y2="653.3" style="stroke-width:1.75"/>
<line class="w" x1="895.1" y1="609.9" x2="895.1" y2="622.1" style="stroke-width:1.75"/>
<line class="w" x1="898.6" y1="609.9" x2="898.6" y2="622.1" style="stroke-width:1.75"/>
<line class="w" x1="902.1" y1="609.9" x2="902.1" y2="622.1" style="stroke-width:1.75"/>
<line class="w" x1="892.5" y1="622.9" x2="904.7" y2="622.9" style="stroke-width:1.75"/>
<line class="w" x1="892.5" y1="626.4" x2="904.7" y2="626.4" style="stroke-width:1.75"/>
<line class="w" x1="892.5" y1="629.9" x2="904.7" y2="629.9" style="stroke-width:1.75"/>
<line class="w" x1="895.1" y1="630.7" x2="895.1" y2="642.9" style="stroke-width:1.75"/>
<line class="w" x1="898.6" y1="630.7" x2="898.6" y2="642.9" style="stroke-width:1.75"/>
<line class="w" x1="902.1" y1="630.7" x2="902.1" y2="642.9" style="stroke-width:1.75"/>
<line class="w" x1="892.5" y1="643.7" x2="904.7" y2="643.7" style="stroke-width:1.75"/>
<line class="w" x1="892.5" y1="647.2" x2="904.7" y2="647.2" style="stroke-width:1.75"/>
<line class="w" x1="892.5" y1="650.7" x2="904.7" y2="650.7" style="stroke-width:1.75"/>
<line class="w" x1="902.9" y1="612.5" x2="915.1" y2="612.5" style="stroke-width:1.75"/>
<line class="w" x1="902.9" y1="616.0" x2="915.1" y2="616.0" style="stroke-width:1.75"/>
<line class="w" x1="902.9" y1="619.5" x2="915.1" y2="619.5" style="stroke-width:1.75"/>
<line class="w" x1="905.5" y1="620.3" x2="905.5" y2="632.5" style="stroke-width:1.75"/>
<line class="w" x1="909.0" y1="620.3" x2="909.0" y2="632.5" style="stroke-width:1.75"/>
<line class="w" x1="912.5" y1="620.3" x2="912.5" y2="632.5" style="stroke-width:1.75"/>
<line class="w" x1="902.9" y1="633.3" x2="915.1" y2="633.3" style="stroke-width:1.75"/>
<line class="w" x1="902.9" y1="636.8" x2="915.1" y2="636.8" style="stroke-width:1.75"/>
<line class="w" x1="902.9" y1="640.3" x2="915.1" y2="640.3" style="stroke-width:1.75"/>
<line class="w" x1="905.5" y1="641.1" x2="905.5" y2="653.3" style="stroke-width:1.75"/>
<line class="w" x1="909.0" y1="641.1" x2="909.0" y2="653.3" style="stroke-width:1.75"/>
<line class="w" x1="912.5" y1="641.1" x2="912.5" y2="653.3" style="stroke-width:1.75"/>
<line class="w" x1="915.9" y1="609.9" x2="915.9" y2="622.1" style="stroke-width:1.75"/>
<line class="w" x1="919.4" y1="609.9" x2="919.4" y2="622.1" style="stroke-width:1.75"/>
<line class="w" x1="922.9" y1="609.9" x2="922.9" y2="622.1" style="stroke-width:1.75"/>
<line class="w" x1="913.3" y1="622.9" x2="925.5" y2="622.9" style="stroke-width:1.75"/>
<line class="w" x1="913.3" y1="626.4" x2="925.5" y2="626.4" style="stroke-width:1.75"/>
<line class="w" x1="913.3" y1="629.9" x2="925.5" y2="629.9" style="stroke-width:1.75"/>
<line class="w" x1="915.9" y1="630.7" x2="915.9" y2="642.9" style="stroke-width:1.75"/>
<line class="w" x1="919.4" y1="630.7" x2="919.4" y2="642.9" style="stroke-width:1.75"/>
<line class="w" x1="922.9" y1="630.7" x2="922.9" y2="642.9" style="stroke-width:1.75"/>
<line class="w" x1="913.3" y1="643.7" x2="925.5" y2="643.7" style="stroke-width:1.75"/>
<line class="w" x1="913.3" y1="647.2" x2="925.5" y2="647.2" style="stroke-width:1.75"/>
<line class="w" x1="913.3" y1="650.7" x2="925.5" y2="650.7" style="stroke-width:1.75"/>
<line class="w" x1="923.7" y1="612.5" x2="935.9" y2="612.5" style="stroke-width:1.75"/>
<line class="w" x1="923.7" y1="616.0" x2="935.9" y2="616.0" style="stroke-width:1.75"/>
<line class="w" x1="923.7" y1="619.5" x2="935.9" y2="619.5" style="stroke-width:1.75"/>
<line class="w" x1="926.3" y1="620.3" x2="926.3" y2="632.5" style="stroke-width:1.75"/>
<line class="w" x1="929.8" y1="620.3" x2="929.8" y2="632.5" style="stroke-width:1.75"/>
<line class="w" x1="933.3" y1="620.3" x2="933.3" y2="632.5" style="stroke-width:1.75"/>
<line class="w" x1="923.7" y1="633.3" x2="935.9" y2="633.3" style="stroke-width:1.75"/>
<line class="w" x1="923.7" y1="636.8" x2="935.9" y2="636.8" style="stroke-width:1.75"/>
<line class="w" x1="923.7" y1="640.3" x2="935.9" y2="640.3" style="stroke-width:1.75"/>
<line class="w" x1="926.3" y1="641.1" x2="926.3" y2="653.3" style="stroke-width:1.75"/>
<line class="w" x1="929.8" y1="641.1" x2="929.8" y2="653.3" style="stroke-width:1.75"/>
<line class="w" x1="933.3" y1="641.1" x2="933.3" y2="653.3" style="stroke-width:1.75"/>
<line class="w" x1="936.7" y1="609.9" x2="936.7" y2="622.1" style="stroke-width:1.75"/>
<line class="w" x1="940.2" y1="609.9" x2="940.2" y2="622.1" style="stroke-width:1.75"/>
<line class="w" x1="943.7" y1="609.9" x2="943.7" y2="622.1" style="stroke-width:1.75"/>
<line class="w" x1="934.1" y1="622.9" x2="946.3" y2="622.9" style="stroke-width:1.75"/>
<line class="w" x1="934.1" y1="626.4" x2="946.3" y2="626.4" style="stroke-width:1.75"/>
<line class="w" x1="934.1" y1="629.9" x2="946.3" y2="629.9" style="stroke-width:1.75"/>
<line class="w" x1="936.7" y1="630.7" x2="936.7" y2="642.9" style="stroke-width:1.75"/>
<line class="w" x1="940.2" y1="630.7" x2="940.2" y2="642.9" style="stroke-width:1.75"/>
<line class="w" x1="943.7" y1="630.7" x2="943.7" y2="642.9" style="stroke-width:1.75"/>
<line class="w" x1="934.1" y1="643.7" x2="946.3" y2="643.7" style="stroke-width:1.75"/>
<line class="w" x1="934.1" y1="647.2" x2="946.3" y2="647.2" style="stroke-width:1.75"/>
<line class="w" x1="934.1" y1="650.7" x2="946.3" y2="650.7" style="stroke-width:1.75"/>
<line class="w" x1="944.5" y1="612.5" x2="956.7" y2="612.5" style="stroke-width:1.75"/>
<line class="w" x1="944.5" y1="616.0" x2="956.7" y2="616.0" style="stroke-width:1.75"/>
<line class="w" x1="944.5" y1="619.5" x2="956.7" y2="619.5" style="stroke-width:1.75"/>
<line class="w" x1="947.1" y1="620.3" x2="947.1" y2="632.5" style="stroke-width:1.75"/>
<line class="w" x1="950.6" y1="620.3" x2="950.6" y2="632.5" style="stroke-width:1.75"/>
<line class="w" x1="954.1" y1="620.3" x2="954.1" y2="632.5" style="stroke-width:1.75"/>
<line class="w" x1="944.5" y1="633.3" x2="956.7" y2="633.3" style="stroke-width:1.75"/>
<line class="w" x1="944.5" y1="636.8" x2="956.7" y2="636.8" style="stroke-width:1.75"/>
<line class="w" x1="944.5" y1="640.3" x2="956.7" y2="640.3" style="stroke-width:1.75"/>
<line class="w" x1="947.1" y1="641.1" x2="947.1" y2="653.3" style="stroke-width:1.75"/>
<line class="w" x1="950.6" y1="641.1" x2="950.6" y2="653.3" style="stroke-width:1.75"/>
<line class="w" x1="954.1" y1="641.1" x2="954.1" y2="653.3" style="stroke-width:1.75"/>
</g>
<text class="t" x="1046.4" y="490.2" font-size="11.8" textLength="105.6" lengthAdjust="spacingAndGlyphs">MIN ⁷⁄₁₆" THICK WOOD</text>
<text class="t" x="1046.4" y="501.6" font-size="11.8" textLength="100.8" lengthAdjust="spacingAndGlyphs">STRUCTURAL PANEL</text>
<text class="t" x="1046.4" y="513.1" font-size="11.8" textLength="55.0" lengthAdjust="spacingAndGlyphs">SHEATHING</text>
<line class="c" x1="1042.8" y1="498.9" x2="1006.6" y2="498.9"/>
<line class="c" x1="1006.6" y1="498.9" x2="986.1" y2="470.4"/>
<path class="fc" d="M986.1 470.4 L991.9 475.9 L989.5 477.7 Z"/>
<text class="t" x="1068.8" y="539.0" font-size="11.8" textLength="104.9" lengthAdjust="spacingAndGlyphs">TREATED SILLPLATE</text>
<line class="c" x1="1065.2" y1="535.5" x2="1029.2" y2="535.5"/>
<path class="fc" d="M1029.2 535.5 L1037.1 534.0 L1037.1 537.0 Z"/>
<path class="c" d="M963.2 723.6 L1107.9 723.6 L1107.9 751.3 L963.2 751.3 Z"/>
<text class="tm" x="972.8" y="742.9" font-size="16.3" textLength="106.1" lengthAdjust="spacingAndGlyphs">EXTERIOR VIEW</text>
<line class="c" x1="587.9" y1="786.0" x2="587.9" y2="923.3"/>
<line class="g" x1="595.4" y1="786.0" x2="595.4" y2="866.0"/>
<line class="g" x1="602.9" y1="786.0" x2="602.9" y2="866.0"/>
<line class="g" x1="651.6" y1="786.0" x2="651.6" y2="866.0"/>
<line class="g" x1="659.4" y1="786.0" x2="659.4" y2="866.0"/>
<line class="c" x1="667.0" y1="786.0" x2="667.0" y2="873.3"/>
<line class="g" x1="595.4" y1="866.0" x2="659.4" y2="866.0"/>
<rect class="fc" x="587.9" y="872.8" width="188.3" height="4.4"/>
<line class="g" x1="587.9" y1="915.8" x2="776.2" y2="915.8"/>
<line class="c" x1="587.9" y1="923.3" x2="776.2" y2="923.3"/>
<clipPath id="clipF"><path d="M587.9 786.0 L667.0 786.0 L667.0 873.3 L587.9 873.3 Z"/></clipPath>
<g clip-path="url(#clipF)">
<path class="c" style="stroke-linecap:butt" d="M621.9 761.0L585.5 797.4M610.8 801.0L574.4 837.4M661.7 750.1L625.3 786.5M599.7 841.1L563.3 877.5M650.6 790.2L614.2 826.6M639.5 830.2L603.1 866.6M690.4 779.4L654.0 815.8M628.4 870.3L592.0 906.7M679.3 819.4L642.9 855.8M668.2 859.4L631.8 895.8"/>
</g>
<circle class="fc" cx="591.7" cy="792.4" r="1.5"/>
<line class="c" x1="589.7" y1="792.4" x2="593.7" y2="792.4" style="stroke-width:0.7"/>
<line class="c" x1="591.7" y1="790.4" x2="591.7" y2="794.4" style="stroke-width:0.7"/>
<circle class="fc" cx="598.9" cy="792.4" r="1.5"/>
<line class="c" x1="596.9" y1="792.4" x2="600.9" y2="792.4" style="stroke-width:0.7"/>
<line class="c" x1="598.9" y1="790.4" x2="598.9" y2="794.4" style="stroke-width:0.7"/>
<circle class="fc" cx="655.8" cy="792.4" r="1.5"/>
<line class="c" x1="653.8" y1="792.4" x2="657.8" y2="792.4" style="stroke-width:0.7"/>
<line class="c" x1="655.8" y1="790.4" x2="655.8" y2="794.4" style="stroke-width:0.7"/>
<circle class="fc" cx="663.1" cy="792.4" r="1.5"/>
<line class="c" x1="661.1" y1="792.4" x2="665.1" y2="792.4" style="stroke-width:0.7"/>
<line class="c" x1="663.1" y1="790.4" x2="663.1" y2="794.4" style="stroke-width:0.7"/>
<circle class="fc" cx="591.7" cy="807.3" r="1.5"/>
<line class="c" x1="589.7" y1="807.3" x2="593.7" y2="807.3" style="stroke-width:0.7"/>
<line class="c" x1="591.7" y1="805.3" x2="591.7" y2="809.3" style="stroke-width:0.7"/>
<circle class="fc" cx="598.9" cy="807.3" r="1.5"/>
<line class="c" x1="596.9" y1="807.3" x2="600.9" y2="807.3" style="stroke-width:0.7"/>
<line class="c" x1="598.9" y1="805.3" x2="598.9" y2="809.3" style="stroke-width:0.7"/>
<circle class="fc" cx="655.8" cy="807.3" r="1.5"/>
<line class="c" x1="653.8" y1="807.3" x2="657.8" y2="807.3" style="stroke-width:0.7"/>
<line class="c" x1="655.8" y1="805.3" x2="655.8" y2="809.3" style="stroke-width:0.7"/>
<circle class="fc" cx="663.1" cy="807.3" r="1.5"/>
<line class="c" x1="661.1" y1="807.3" x2="665.1" y2="807.3" style="stroke-width:0.7"/>
<line class="c" x1="663.1" y1="805.3" x2="663.1" y2="809.3" style="stroke-width:0.7"/>
<circle class="fc" cx="591.7" cy="821.8" r="1.5"/>
<line class="c" x1="589.7" y1="821.8" x2="593.7" y2="821.8" style="stroke-width:0.7"/>
<line class="c" x1="591.7" y1="819.8" x2="591.7" y2="823.8" style="stroke-width:0.7"/>
<circle class="fc" cx="598.9" cy="821.8" r="1.5"/>
<line class="c" x1="596.9" y1="821.8" x2="600.9" y2="821.8" style="stroke-width:0.7"/>
<line class="c" x1="598.9" y1="819.8" x2="598.9" y2="823.8" style="stroke-width:0.7"/>
<circle class="fc" cx="655.8" cy="821.8" r="1.5"/>
<line class="c" x1="653.8" y1="821.8" x2="657.8" y2="821.8" style="stroke-width:0.7"/>
<line class="c" x1="655.8" y1="819.8" x2="655.8" y2="823.8" style="stroke-width:0.7"/>
<circle class="fc" cx="663.1" cy="821.8" r="1.5"/>
<line class="c" x1="661.1" y1="821.8" x2="665.1" y2="821.8" style="stroke-width:0.7"/>
<line class="c" x1="663.1" y1="819.8" x2="663.1" y2="823.8" style="stroke-width:0.7"/>
<circle class="fc" cx="591.7" cy="836.7" r="1.5"/>
<line class="c" x1="589.7" y1="836.7" x2="593.7" y2="836.7" style="stroke-width:0.7"/>
<line class="c" x1="591.7" y1="834.7" x2="591.7" y2="838.7" style="stroke-width:0.7"/>
<circle class="fc" cx="598.9" cy="836.7" r="1.5"/>
<line class="c" x1="596.9" y1="836.7" x2="600.9" y2="836.7" style="stroke-width:0.7"/>
<line class="c" x1="598.9" y1="834.7" x2="598.9" y2="838.7" style="stroke-width:0.7"/>
<circle class="fc" cx="655.8" cy="836.7" r="1.5"/>
<line class="c" x1="653.8" y1="836.7" x2="657.8" y2="836.7" style="stroke-width:0.7"/>
<line class="c" x1="655.8" y1="834.7" x2="655.8" y2="838.7" style="stroke-width:0.7"/>
<circle class="fc" cx="663.1" cy="836.7" r="1.5"/>
<line class="c" x1="661.1" y1="836.7" x2="665.1" y2="836.7" style="stroke-width:0.7"/>
<line class="c" x1="663.1" y1="834.7" x2="663.1" y2="838.7" style="stroke-width:0.7"/>
<circle class="fc" cx="591.7" cy="851.6" r="1.5"/>
<line class="c" x1="589.7" y1="851.6" x2="593.7" y2="851.6" style="stroke-width:0.7"/>
<line class="c" x1="591.7" y1="849.6" x2="591.7" y2="853.6" style="stroke-width:0.7"/>
<circle class="fc" cx="598.9" cy="851.6" r="1.5"/>
<line class="c" x1="596.9" y1="851.6" x2="600.9" y2="851.6" style="stroke-width:0.7"/>
<line class="c" x1="598.9" y1="849.6" x2="598.9" y2="853.6" style="stroke-width:0.7"/>
<circle class="fc" cx="655.8" cy="851.6" r="1.5"/>
<line class="c" x1="653.8" y1="851.6" x2="657.8" y2="851.6" style="stroke-width:0.7"/>
<line class="c" x1="655.8" y1="849.6" x2="655.8" y2="853.6" style="stroke-width:0.7"/>
<circle class="fc" cx="663.1" cy="851.6" r="1.5"/>
<line class="c" x1="661.1" y1="851.6" x2="665.1" y2="851.6" style="stroke-width:0.7"/>
<line class="c" x1="663.1" y1="849.6" x2="663.1" y2="853.6" style="stroke-width:0.7"/>
<circle class="fc" cx="591.7" cy="863.6" r="1.5"/>
<line class="c" x1="589.7" y1="863.6" x2="593.7" y2="863.6" style="stroke-width:0.7"/>
<line class="c" x1="591.7" y1="861.6" x2="591.7" y2="865.6" style="stroke-width:0.7"/>
<circle class="fc" cx="598.9" cy="863.6" r="1.5"/>
<line class="c" x1="596.9" y1="863.6" x2="600.9" y2="863.6" style="stroke-width:0.7"/>
<line class="c" x1="598.9" y1="861.6" x2="598.9" y2="865.6" style="stroke-width:0.7"/>
<circle class="fc" cx="655.8" cy="863.6" r="1.5"/>
<line class="c" x1="653.8" y1="863.6" x2="657.8" y2="863.6" style="stroke-width:0.7"/>
<line class="c" x1="655.8" y1="861.6" x2="655.8" y2="865.6" style="stroke-width:0.7"/>
<circle class="fc" cx="663.1" cy="863.6" r="1.5"/>
<line class="c" x1="661.1" y1="863.6" x2="665.1" y2="863.6" style="stroke-width:0.7"/>
<line class="c" x1="663.1" y1="861.6" x2="663.1" y2="865.6" style="stroke-width:0.7"/>
<circle class="fc" cx="621.3" cy="870.5" r="1.5"/>
<line class="c" x1="619.3" y1="870.5" x2="623.3" y2="870.5" style="stroke-width:0.7"/>
<line class="c" x1="621.3" y1="868.5" x2="621.3" y2="872.5" style="stroke-width:0.7"/>
<circle class="fc" cx="636.2" cy="870.5" r="1.5"/>
<line class="c" x1="634.2" y1="870.5" x2="638.2" y2="870.5" style="stroke-width:0.7"/>
<line class="c" x1="636.2" y1="868.5" x2="636.2" y2="872.5" style="stroke-width:0.7"/>
<rect x="587.6" y="866.3" width="22.0" height="16.4" fill="#f0f032" stroke="#f0f032" stroke-width="1.2" stroke-dasharray="2.6 1.4"/>
<rect x="590.6" y="869.3" width="5.5" height="4.2" fill="#23273a"/>
<rect x="599.1" y="869.3" width="2.4" height="4.2" fill="#23273a"/>
<rect x="603.1" y="869.9" width="4.0" height="2.0" fill="#23273a"/>
<rect x="590.6" y="875.3" width="2.4" height="4.6" fill="#23273a"/>
<rect x="594.2" y="876.1" width="4.2" height="2.6" fill="#23273a"/>
<rect x="600.1" y="875.3" width="2.4" height="4.6" fill="#23273a"/>
<rect x="603.8" y="875.7" width="3.4" height="2.2" fill="#23273a"/>
<rect x="596.4" y="871.3" width="2.0" height="3.4" fill="#23273a"/>
<rect x="645.6" y="866.3" width="22.0" height="16.4" fill="#f0f032" stroke="#f0f032" stroke-width="1.2" stroke-dasharray="2.6 1.4"/>
<rect x="648.6" y="869.3" width="5.5" height="4.2" fill="#23273a"/>
<rect x="657.1" y="869.3" width="2.4" height="4.2" fill="#23273a"/>
<rect x="661.1" y="869.9" width="4.0" height="2.0" fill="#23273a"/>
<rect x="648.6" y="875.3" width="2.4" height="4.6" fill="#23273a"/>
<rect x="652.2" y="876.1" width="4.2" height="2.6" fill="#23273a"/>
<rect x="658.1" y="875.3" width="2.4" height="4.6" fill="#23273a"/>
<rect x="661.8" y="875.7" width="3.4" height="2.2" fill="#23273a"/>
<rect x="654.4" y="871.3" width="2.0" height="3.4" fill="#23273a"/>
<text class="t" x="684.6" y="826.0" font-size="11.8" textLength="124.8" lengthAdjust="spacingAndGlyphs">SIMPSON LTP4 FRAMING</text>
<text class="t" x="684.6" y="838.2" font-size="11.8" textLength="43.0" lengthAdjust="spacingAndGlyphs">ANCHOR</text>
<line class="c" x1="682.0" y1="822.8" x2="634.7" y2="822.8"/>
<line class="c" x1="634.7" y1="822.8" x2="602.9" y2="864.5"/>
<path class="fc" d="M602.9 864.5 L606.9 856.4 L609.6 858.5 Z"/>
<line class="c" x1="634.7" y1="822.8" x2="654.6" y2="864.5"/>
<path class="fc" d="M654.6 864.5 L649.3 857.3 L652.3 855.8 Z"/>
<text class="tm" x="581.5" y="974.6" font-size="15.6" textLength="179.8" lengthAdjust="spacingAndGlyphs">FRAMING ANCHOR OPTION</text>
<line class="c" x1="581.5" y1="977.3" x2="761.3" y2="977.3"/>
<line class="c" x1="869.2" y1="786.0" x2="869.2" y2="923.3"/>
<line class="g" x1="876.7" y1="786.0" x2="876.7" y2="866.0"/>
<line class="g" x1="884.7" y1="786.0" x2="884.7" y2="866.0"/>
<line class="g" x1="933.6" y1="786.0" x2="933.6" y2="866.0"/>
<line class="g" x1="941.4" y1="786.0" x2="941.4" y2="866.0"/>
<line class="c" x1="948.5" y1="786.0" x2="948.5" y2="873.3"/>
<line class="g" x1="869.2" y1="866.0" x2="948.5" y2="866.0"/>
<rect class="fc" x="869.2" y="872.8" width="188.8" height="4.4"/>
<line class="g" x1="869.2" y1="915.8" x2="1058.0" y2="915.8"/>
<line class="c" x1="869.2" y1="923.3" x2="1058.0" y2="923.3"/>
<clipPath id="clipW"><path d="M869.2 786.0 L948.5 786.0 L948.5 873.3 L1058.0 873.3 L1058.0 923.3 L869.2 923.3 Z"/></clipPath>
<g clip-path="url(#clipW)">
<path class="c" style="stroke-linecap:butt" d="M880.8 763.4L844.4 799.8M869.7 803.4L833.3 839.8M920.6 752.5L884.2 788.9M909.5 792.5L873.1 828.9M898.4 832.6L862.0 869.0M949.3 781.7L912.9 818.1M887.3 872.7L850.9 909.1M938.2 821.8L901.8 858.2M989.1 770.9L952.7 807.3M876.2 912.7L839.8 949.1M927.1 861.8L890.7 898.2M978.0 810.9L941.6 847.3M1028.9 760.0L992.5 796.4M916.0 901.8L879.6 938.2M966.9 850.9L930.5 887.3M1017.8 800.0L981.4 836.4M1068.7 749.1L1032.3 785.5M955.8 891.0L919.4 927.4M1006.7 840.1L970.3 876.5M1057.6 789.2L1021.2 825.6M995.6 880.2L959.2 916.6M1046.5 829.2L1010.1 865.6M984.5 920.2L948.1 956.6M1035.4 869.3L999.0 905.7M1086.3 818.4L1049.9 854.8M1024.3 909.4L987.9 945.8M1075.2 858.5L1038.8 894.9M1064.1 898.5L1027.7 934.9"/>
</g>
<circle class="fc" cx="873.2" cy="792.4" r="1.5"/>
<line class="c" x1="871.2" y1="792.4" x2="875.2" y2="792.4" style="stroke-width:0.7"/>
<line class="c" x1="873.2" y1="790.4" x2="873.2" y2="794.4" style="stroke-width:0.7"/>
<circle class="fc" cx="880.7" cy="792.4" r="1.5"/>
<line class="c" x1="878.7" y1="792.4" x2="882.7" y2="792.4" style="stroke-width:0.7"/>
<line class="c" x1="880.7" y1="790.4" x2="880.7" y2="794.4" style="stroke-width:0.7"/>
<circle class="fc" cx="937.4" cy="792.4" r="1.5"/>
<line class="c" x1="935.4" y1="792.4" x2="939.4" y2="792.4" style="stroke-width:0.7"/>
<line class="c" x1="937.4" y1="790.4" x2="937.4" y2="794.4" style="stroke-width:0.7"/>
<circle class="fc" cx="945.0" cy="792.4" r="1.5"/>
<line class="c" x1="943.0" y1="792.4" x2="947.0" y2="792.4" style="stroke-width:0.7"/>
<line class="c" x1="945.0" y1="790.4" x2="945.0" y2="794.4" style="stroke-width:0.7"/>
<circle class="fc" cx="873.2" cy="807.3" r="1.5"/>
<line class="c" x1="871.2" y1="807.3" x2="875.2" y2="807.3" style="stroke-width:0.7"/>
<line class="c" x1="873.2" y1="805.3" x2="873.2" y2="809.3" style="stroke-width:0.7"/>
<circle class="fc" cx="880.7" cy="807.3" r="1.5"/>
<line class="c" x1="878.7" y1="807.3" x2="882.7" y2="807.3" style="stroke-width:0.7"/>
<line class="c" x1="880.7" y1="805.3" x2="880.7" y2="809.3" style="stroke-width:0.7"/>
<circle class="fc" cx="937.4" cy="807.3" r="1.5"/>
<line class="c" x1="935.4" y1="807.3" x2="939.4" y2="807.3" style="stroke-width:0.7"/>
<line class="c" x1="937.4" y1="805.3" x2="937.4" y2="809.3" style="stroke-width:0.7"/>
<circle class="fc" cx="945.0" cy="807.3" r="1.5"/>
<line class="c" x1="943.0" y1="807.3" x2="947.0" y2="807.3" style="stroke-width:0.7"/>
<line class="c" x1="945.0" y1="805.3" x2="945.0" y2="809.3" style="stroke-width:0.7"/>
<circle class="fc" cx="873.2" cy="821.8" r="1.5"/>
<line class="c" x1="871.2" y1="821.8" x2="875.2" y2="821.8" style="stroke-width:0.7"/>
<line class="c" x1="873.2" y1="819.8" x2="873.2" y2="823.8" style="stroke-width:0.7"/>
<circle class="fc" cx="880.7" cy="821.8" r="1.5"/>
<line class="c" x1="878.7" y1="821.8" x2="882.7" y2="821.8" style="stroke-width:0.7"/>
<line class="c" x1="880.7" y1="819.8" x2="880.7" y2="823.8" style="stroke-width:0.7"/>
<circle class="fc" cx="937.4" cy="821.8" r="1.5"/>
<line class="c" x1="935.4" y1="821.8" x2="939.4" y2="821.8" style="stroke-width:0.7"/>
<line class="c" x1="937.4" y1="819.8" x2="937.4" y2="823.8" style="stroke-width:0.7"/>
<circle class="fc" cx="945.0" cy="821.8" r="1.5"/>
<line class="c" x1="943.0" y1="821.8" x2="947.0" y2="821.8" style="stroke-width:0.7"/>
<line class="c" x1="945.0" y1="819.8" x2="945.0" y2="823.8" style="stroke-width:0.7"/>
<circle class="fc" cx="873.2" cy="836.7" r="1.5"/>
<line class="c" x1="871.2" y1="836.7" x2="875.2" y2="836.7" style="stroke-width:0.7"/>
<line class="c" x1="873.2" y1="834.7" x2="873.2" y2="838.7" style="stroke-width:0.7"/>
<circle class="fc" cx="880.7" cy="836.7" r="1.5"/>
<line class="c" x1="878.7" y1="836.7" x2="882.7" y2="836.7" style="stroke-width:0.7"/>
<line class="c" x1="880.7" y1="834.7" x2="880.7" y2="838.7" style="stroke-width:0.7"/>
<circle class="fc" cx="937.4" cy="836.7" r="1.5"/>
<line class="c" x1="935.4" y1="836.7" x2="939.4" y2="836.7" style="stroke-width:0.7"/>
<line class="c" x1="937.4" y1="834.7" x2="937.4" y2="838.7" style="stroke-width:0.7"/>
<circle class="fc" cx="945.0" cy="836.7" r="1.5"/>
<line class="c" x1="943.0" y1="836.7" x2="947.0" y2="836.7" style="stroke-width:0.7"/>
<line class="c" x1="945.0" y1="834.7" x2="945.0" y2="838.7" style="stroke-width:0.7"/>
<circle class="fc" cx="873.2" cy="851.6" r="1.5"/>
<line class="c" x1="871.2" y1="851.6" x2="875.2" y2="851.6" style="stroke-width:0.7"/>
<line class="c" x1="873.2" y1="849.6" x2="873.2" y2="853.6" style="stroke-width:0.7"/>
<circle class="fc" cx="880.7" cy="851.6" r="1.5"/>
<line class="c" x1="878.7" y1="851.6" x2="882.7" y2="851.6" style="stroke-width:0.7"/>
<line class="c" x1="880.7" y1="849.6" x2="880.7" y2="853.6" style="stroke-width:0.7"/>
<circle class="fc" cx="937.4" cy="851.6" r="1.5"/>
<line class="c" x1="935.4" y1="851.6" x2="939.4" y2="851.6" style="stroke-width:0.7"/>
<line class="c" x1="937.4" y1="849.6" x2="937.4" y2="853.6" style="stroke-width:0.7"/>
<circle class="fc" cx="945.0" cy="851.6" r="1.5"/>
<line class="c" x1="943.0" y1="851.6" x2="947.0" y2="851.6" style="stroke-width:0.7"/>
<line class="c" x1="945.0" y1="849.6" x2="945.0" y2="853.6" style="stroke-width:0.7"/>
<circle class="fc" cx="873.2" cy="863.6" r="1.5"/>
<line class="c" x1="871.2" y1="863.6" x2="875.2" y2="863.6" style="stroke-width:0.7"/>
<line class="c" x1="873.2" y1="861.6" x2="873.2" y2="865.6" style="stroke-width:0.7"/>
<circle class="fc" cx="880.7" cy="863.6" r="1.5"/>
<line class="c" x1="878.7" y1="863.6" x2="882.7" y2="863.6" style="stroke-width:0.7"/>
<line class="c" x1="880.7" y1="861.6" x2="880.7" y2="865.6" style="stroke-width:0.7"/>
<circle class="fc" cx="937.4" cy="863.6" r="1.5"/>
<line class="c" x1="935.4" y1="863.6" x2="939.4" y2="863.6" style="stroke-width:0.7"/>
<line class="c" x1="937.4" y1="861.6" x2="937.4" y2="865.6" style="stroke-width:0.7"/>
<circle class="fc" cx="945.0" cy="863.6" r="1.5"/>
<line class="c" x1="943.0" y1="863.6" x2="947.0" y2="863.6" style="stroke-width:0.7"/>
<line class="c" x1="945.0" y1="861.6" x2="945.0" y2="865.6" style="stroke-width:0.7"/>
<circle class="fc" cx="873.2" cy="870.3" r="1.5"/>
<line class="c" x1="871.2" y1="870.3" x2="875.2" y2="870.3" style="stroke-width:0.7"/>
<line class="c" x1="873.2" y1="868.3" x2="873.2" y2="872.3" style="stroke-width:0.7"/>
<circle class="fc" cx="888.3" cy="870.3" r="1.5"/>
<line class="c" x1="886.3" y1="870.3" x2="890.3" y2="870.3" style="stroke-width:0.7"/>
<line class="c" x1="888.3" y1="868.3" x2="888.3" y2="872.3" style="stroke-width:0.7"/>
<circle class="fc" cx="902.8" cy="870.3" r="1.5"/>
<line class="c" x1="900.8" y1="870.3" x2="904.8" y2="870.3" style="stroke-width:0.7"/>
<line class="c" x1="902.8" y1="868.3" x2="902.8" y2="872.3" style="stroke-width:0.7"/>
<circle class="fc" cx="917.5" cy="870.3" r="1.5"/>
<line class="c" x1="915.5" y1="870.3" x2="919.5" y2="870.3" style="stroke-width:0.7"/>
<line class="c" x1="917.5" y1="868.3" x2="917.5" y2="872.3" style="stroke-width:0.7"/>
<circle class="fc" cx="932.6" cy="870.3" r="1.5"/>
<line class="c" x1="930.6" y1="870.3" x2="934.6" y2="870.3" style="stroke-width:0.7"/>
<line class="c" x1="932.6" y1="868.3" x2="932.6" y2="872.3" style="stroke-width:0.7"/>
<circle class="fc" cx="945.0" cy="870.3" r="1.5"/>
<line class="c" x1="943.0" y1="870.3" x2="947.0" y2="870.3" style="stroke-width:0.7"/>
<line class="c" x1="945.0" y1="868.3" x2="945.0" y2="872.3" style="stroke-width:0.7"/>
<circle class="fc" cx="873.2" cy="879.5" r="1.5"/>
<line class="c" x1="871.2" y1="879.5" x2="875.2" y2="879.5" style="stroke-width:0.7"/>
<line class="c" x1="873.2" y1="877.5" x2="873.2" y2="881.5" style="stroke-width:0.7"/>
<circle class="fc" cx="888.3" cy="879.5" r="1.5"/>
<line class="c" x1="886.3" y1="879.5" x2="890.3" y2="879.5" style="stroke-width:0.7"/>
<line class="c" x1="888.3" y1="877.5" x2="888.3" y2="881.5" style="stroke-width:0.7"/>
<circle class="fc" cx="902.8" cy="879.5" r="1.5"/>
<line class="c" x1="900.8" y1="879.5" x2="904.8" y2="879.5" style="stroke-width:0.7"/>
<line class="c" x1="902.8" y1="877.5" x2="902.8" y2="881.5" style="stroke-width:0.7"/>
<circle class="fc" cx="917.5" cy="879.5" r="1.5"/>
<line class="c" x1="915.5" y1="879.5" x2="919.5" y2="879.5" style="stroke-width:0.7"/>
<line class="c" x1="917.5" y1="877.5" x2="917.5" y2="881.5" style="stroke-width:0.7"/>
<circle class="fc" cx="932.6" cy="879.5" r="1.5"/>
<line class="c" x1="930.6" y1="879.5" x2="934.6" y2="879.5" style="stroke-width:0.7"/>
<line class="c" x1="932.6" y1="877.5" x2="932.6" y2="881.5" style="stroke-width:0.7"/>
<circle class="fc" cx="945.0" cy="879.5" r="1.5"/>
<line class="c" x1="943.0" y1="879.5" x2="947.0" y2="879.5" style="stroke-width:0.7"/>
<line class="c" x1="945.0" y1="877.5" x2="945.0" y2="881.5" style="stroke-width:0.7"/>
<circle class="fc" cx="873.2" cy="919.1" r="1.5"/>
<line class="c" x1="871.2" y1="919.1" x2="875.2" y2="919.1" style="stroke-width:0.7"/>
<line class="c" x1="873.2" y1="917.1" x2="873.2" y2="921.1" style="stroke-width:0.7"/>
<circle class="fc" cx="888.3" cy="919.1" r="1.5"/>
<line class="c" x1="886.3" y1="919.1" x2="890.3" y2="919.1" style="stroke-width:0.7"/>
<line class="c" x1="888.3" y1="917.1" x2="888.3" y2="921.1" style="stroke-width:0.7"/>
<circle class="fc" cx="902.8" cy="919.1" r="1.5"/>
<line class="c" x1="900.8" y1="919.1" x2="904.8" y2="919.1" style="stroke-width:0.7"/>
<line class="c" x1="902.8" y1="917.1" x2="902.8" y2="921.1" style="stroke-width:0.7"/>
<circle class="fc" cx="917.5" cy="919.1" r="1.5"/>
<line class="c" x1="915.5" y1="919.1" x2="919.5" y2="919.1" style="stroke-width:0.7"/>
<line class="c" x1="917.5" y1="917.1" x2="917.5" y2="921.1" style="stroke-width:0.7"/>
<circle class="fc" cx="932.6" cy="919.1" r="1.5"/>
<line class="c" x1="930.6" y1="919.1" x2="934.6" y2="919.1" style="stroke-width:0.7"/>
<line class="c" x1="932.6" y1="917.1" x2="932.6" y2="921.1" style="stroke-width:0.7"/>
<circle class="fc" cx="945.0" cy="919.1" r="1.5"/>
<line class="c" x1="943.0" y1="919.1" x2="947.0" y2="919.1" style="stroke-width:0.7"/>
<line class="c" x1="945.0" y1="917.1" x2="945.0" y2="921.1" style="stroke-width:0.7"/>
<text class="t" x="966.3" y="802.7" font-size="11.8" textLength="117.7" lengthAdjust="spacingAndGlyphs">8d NAILS @ 3" OC TOP</text>
<text class="t" x="966.3" y="814.9" font-size="11.8" textLength="68.4" lengthAdjust="spacingAndGlyphs">AND BOTTOM</text>
<text class="t" x="966.3" y="832.3" font-size="11.8" textLength="116.5" lengthAdjust="spacingAndGlyphs">EXTEND SHEATHING TO</text>
<text class="t" x="966.3" y="845.2" font-size="11.8" textLength="105.6" lengthAdjust="spacingAndGlyphs">SILL PLATE (DO NOT</text>
<text class="t" x="966.3" y="858.4" font-size="11.8" textLength="38.7" lengthAdjust="spacingAndGlyphs">SPLICE)</text>
<line class="c" x1="964.0" y1="798.9" x2="915.7" y2="798.9"/>
<line class="c" x1="915.7" y1="798.9" x2="873.9" y2="917.3"/>
<path class="fc" d="M873.9 917.3 L875.2 908.4 L878.4 909.5 Z"/>
<line class="c" x1="915.7" y1="798.9" x2="917.5" y2="878.5"/>
<path class="fc" d="M917.5 878.5 L915.6 869.7 L919.0 869.6 Z"/>
<line class="c" x1="915.7" y1="798.9" x2="931.6" y2="864.6"/>
<line class="c" x1="941.6" y1="874.5" x2="929.6" y2="913.3"/>
<path class="fc" d="M929.6 913.3 L930.6 904.4 L933.8 905.4 Z"/>
<path class="c" d="M964.5 827.7 L959.5 828.4 L954.5 838.7 L947.0 866.5"/>
<text class="tm" x="865.8" y="974.6" font-size="15.6" textLength="156.2" lengthAdjust="spacingAndGlyphs">WSP OVERLAP OPTION</text>
<line class="c" x1="865.8" y1="977.3" x2="1022.0" y2="977.3"/>
<path class="c" d="M701.8 997.3 L947.3 997.3 L947.3 1021.4 L701.8 1021.4 Z"/>
<text class="tm" x="707.3" y="1013.5" font-size="14.6" textLength="199.0" lengthAdjust="spacingAndGlyphs">CS-PF - OVER WOOD FLOOR</text>
<circle class="c" cx="497.8" cy="1058.8" r="19.7"/>
<text class="tl" x="488.4" y="1065.9" font-size="24.7" textLength="18.6" lengthAdjust="spacingAndGlyphs">A</text>
<text class="tl" x="533.5" y="1059.7" font-size="18.8" textLength="473.3" lengthAdjust="spacingAndGlyphs">CS-PF: CONTINUOUS PORTAL FRAME CONSTRUCTION</text>
<line class="c" x1="533.5" y1="1062.7" x2="1007.0" y2="1062.7"/>
<text class="t" x="533.5" y="1075.0" font-size="11.0" textLength="294.9" lengthAdjust="spacingAndGlyphs">DETAIL AND APPLICATION BASED ON NCRC FIGURE</text>
<text class="t" x="533.5" y="1088.2" font-size="11.0" textLength="247.3" lengthAdjust="spacingAndGlyphs">R602.10.1 - PORTAL FRAME CONSTRUCTION</text>
<rect x="493.2" y="1205.3" width="3.7" height="172" fill="#f2f2f4" opacity="0.93"/>
<circle cx="494.3" cy="1207.0" r="0.35" fill="#23273a"/>
<circle cx="495.8" cy="1210.0" r="0.35" fill="#23273a"/>
<circle cx="494.3" cy="1213.0" r="0.35" fill="#23273a"/>
<circle cx="495.8" cy="1216.0" r="0.35" fill="#23273a"/>
<circle cx="494.3" cy="1219.0" r="0.35" fill="#23273a"/>
<circle cx="495.8" cy="1222.0" r="0.35" fill="#23273a"/>
<circle cx="494.3" cy="1225.0" r="0.35" fill="#23273a"/>
<circle cx="495.8" cy="1228.0" r="0.35" fill="#23273a"/>
<circle cx="494.3" cy="1231.0" r="0.35" fill="#23273a"/>
<circle cx="495.8" cy="1234.0" r="0.35" fill="#23273a"/>
<circle cx="494.3" cy="1237.0" r="0.35" fill="#23273a"/>
<circle cx="495.8" cy="1240.0" r="0.35" fill="#23273a"/>
<circle cx="494.3" cy="1243.0" r="0.35" fill="#23273a"/>
<circle cx="495.8" cy="1246.0" r="0.35" fill="#23273a"/>
<circle cx="494.3" cy="1249.0" r="0.35" fill="#23273a"/>
<circle cx="495.8" cy="1252.0" r="0.35" fill="#23273a"/>
<circle cx="494.3" cy="1255.0" r="0.35" fill="#23273a"/>
<circle cx="495.8" cy="1258.0" r="0.35" fill="#23273a"/>
<circle cx="494.3" cy="1261.0" r="0.35" fill="#23273a"/>
<circle cx="495.8" cy="1264.0" r="0.35" fill="#23273a"/>
<circle cx="494.3" cy="1267.0" r="0.35" fill="#23273a"/>
<circle cx="495.8" cy="1270.0" r="0.35" fill="#23273a"/>
<circle cx="494.3" cy="1273.0" r="0.35" fill="#23273a"/>
<circle cx="495.8" cy="1276.0" r="0.35" fill="#23273a"/>
<circle cx="494.3" cy="1279.0" r="0.35" fill="#23273a"/>
<circle cx="495.8" cy="1282.0" r="0.35" fill="#23273a"/>
<circle cx="494.3" cy="1285.0" r="0.35" fill="#23273a"/>
<circle cx="495.8" cy="1288.0" r="0.35" fill="#23273a"/>
<circle cx="494.3" cy="1291.0" r="0.35" fill="#23273a"/>
<circle cx="495.8" cy="1294.0" r="0.35" fill="#23273a"/>
<circle cx="494.3" cy="1297.0" r="0.35" fill="#23273a"/>
<circle cx="495.8" cy="1300.0" r="0.35" fill="#23273a"/>
<circle cx="494.3" cy="1303.0" r="0.35" fill="#23273a"/>
<circle cx="495.8" cy="1306.0" r="0.35" fill="#23273a"/>
<circle cx="494.3" cy="1309.0" r="0.35" fill="#23273a"/>
<circle cx="495.8" cy="1312.0" r="0.35" fill="#23273a"/>
<circle cx="494.3" cy="1315.0" r="0.35" fill="#23273a"/>
<circle cx="495.8" cy="1318.0" r="0.35" fill="#23273a"/>
<circle cx="494.3" cy="1321.0" r="0.35" fill="#23273a"/>
<circle cx="495.8" cy="1324.0" r="0.35" fill="#23273a"/>
<circle cx="494.3" cy="1327.0" r="0.35" fill="#23273a"/>
<circle cx="495.8" cy="1330.0" r="0.35" fill="#23273a"/>
<circle cx="494.3" cy="1333.0" r="0.35" fill="#23273a"/>
<circle cx="495.8" cy="1336.0" r="0.35" fill="#23273a"/>
<circle cx="494.3" cy="1339.0" r="0.35" fill="#23273a"/>
<circle cx="495.8" cy="1342.0" r="0.35" fill="#23273a"/>
<circle cx="494.3" cy="1345.0" r="0.35" fill="#23273a"/>
<circle cx="495.8" cy="1348.0" r="0.35" fill="#23273a"/>
<circle cx="494.3" cy="1351.0" r="0.35" fill="#23273a"/>
<circle cx="495.8" cy="1354.0" r="0.35" fill="#23273a"/>
<circle cx="494.3" cy="1357.0" r="0.35" fill="#23273a"/>
<circle cx="495.8" cy="1360.0" r="0.35" fill="#23273a"/>
<circle cx="494.3" cy="1363.0" r="0.35" fill="#23273a"/>
<circle cx="495.8" cy="1366.0" r="0.35" fill="#23273a"/>
<circle cx="494.3" cy="1369.0" r="0.35" fill="#23273a"/>
<circle cx="495.8" cy="1372.0" r="0.35" fill="#23273a"/>
<circle cx="494.3" cy="1375.0" r="0.35" fill="#23273a"/>
<line class="c" x1="524.2" y1="1205.3" x2="524.2" y2="1376.4"/>
<path class="c" d="M496.8 1360.6 L524.2 1360.6 L524.2 1368.4 L496.8 1368.4 Z"/>
<line class="c" x1="496.8" y1="1360.6" x2="524.2" y2="1368.4"/>
<line class="c" x1="496.8" y1="1368.4" x2="524.2" y2="1360.6"/>
<path class="c" d="M496.8 1368.4 L524.2 1368.4 L524.2 1376.4 L496.8 1376.4 Z"/>
<line class="c" x1="496.8" y1="1368.4" x2="524.2" y2="1376.4"/>
<line class="c" x1="496.8" y1="1376.4" x2="524.2" y2="1368.4"/>
<line class="c" x1="493.4" y1="1376.4" x2="493.4" y2="1542.5"/>
<line class="c" x1="532.9" y1="1376.4" x2="532.9" y2="1542.5"/>
<line class="c" x1="493.4" y1="1376.4" x2="532.9" y2="1376.4"/>
<line class="c" x1="493.4" y1="1389.0" x2="532.9" y2="1389.0"/>
<line class="c" x1="493.4" y1="1391.2" x2="532.9" y2="1391.2"/>
<line class="c" x1="493.4" y1="1402.7" x2="532.9" y2="1402.7"/>
<line class="c" x1="493.4" y1="1404.9" x2="532.9" y2="1404.9"/>
<line class="c" x1="493.4" y1="1416.5" x2="532.9" y2="1416.5"/>
<line class="c" x1="493.4" y1="1418.7" x2="532.9" y2="1418.7"/>
<line class="c" x1="493.4" y1="1430.2" x2="511.2" y2="1430.2"/>
<line class="c" x1="493.4" y1="1432.4" x2="511.2" y2="1432.4"/>
<line class="c" x1="493.4" y1="1443.9" x2="511.2" y2="1443.9"/>
<line class="c" x1="493.4" y1="1446.1" x2="511.2" y2="1446.1"/>
<line class="c" x1="493.4" y1="1457.6" x2="511.2" y2="1457.6"/>
<line class="c" x1="493.4" y1="1459.8" x2="511.2" y2="1459.8"/>
<line class="c" x1="493.4" y1="1471.3" x2="511.2" y2="1471.3"/>
<line class="c" x1="493.4" y1="1473.5" x2="511.2" y2="1473.5"/>
<line class="c" x1="493.4" y1="1485.1" x2="511.2" y2="1485.1"/>
<line class="c" x1="493.4" y1="1487.3" x2="511.2" y2="1487.3"/>
<line class="c" x1="493.4" y1="1498.8" x2="511.2" y2="1498.8"/>
<line class="c" x1="493.4" y1="1501.0" x2="511.2" y2="1501.0"/>
<line class="c" x1="491.9" y1="1390.1" x2="532.9" y2="1390.1" style="stroke-width:1.8"/>
<line class="c" x1="491.9" y1="1403.8" x2="532.9" y2="1403.8" style="stroke-width:1.8"/>
<line class="c" x1="491.9" y1="1417.6" x2="532.9" y2="1417.6" style="stroke-width:1.8"/>
<rect x="515.0" y="1418.6" width="5.4" height="80.7" fill="#f2f2f4" opacity="0.92"/>
<circle cx="516.7" cy="1420.3" r="0.85" fill="#23273a"/>
<circle cx="518.4" cy="1422.4" r="0.85" fill="#23273a"/>
<circle cx="516.7" cy="1424.5" r="0.85" fill="#23273a"/>
<circle cx="518.4" cy="1426.6" r="0.85" fill="#23273a"/>
<circle cx="516.7" cy="1428.7" r="0.85" fill="#23273a"/>
<circle cx="518.4" cy="1430.8" r="0.85" fill="#23273a"/>
<circle cx="516.7" cy="1432.9" r="0.85" fill="#23273a"/>
<circle cx="518.4" cy="1435.1" r="0.85" fill="#23273a"/>
<circle cx="516.7" cy="1437.2" r="0.85" fill="#23273a"/>
<circle cx="518.4" cy="1439.3" r="0.85" fill="#23273a"/>
<circle cx="516.7" cy="1441.4" r="0.85" fill="#23273a"/>
<circle cx="518.4" cy="1443.5" r="0.85" fill="#23273a"/>
<circle cx="516.7" cy="1445.6" r="0.85" fill="#23273a"/>
<circle cx="518.4" cy="1447.7" r="0.85" fill="#23273a"/>
<circle cx="516.7" cy="1449.8" r="0.85" fill="#23273a"/>
<circle cx="518.4" cy="1451.9" r="0.85" fill="#23273a"/>
<circle cx="516.7" cy="1454.0" r="0.85" fill="#23273a"/>
<circle cx="518.4" cy="1456.1" r="0.85" fill="#23273a"/>
<circle cx="516.7" cy="1458.2" r="0.85" fill="#23273a"/>
<circle cx="518.4" cy="1460.4" r="0.85" fill="#23273a"/>
<circle cx="516.7" cy="1462.5" r="0.85" fill="#23273a"/>
<circle cx="518.4" cy="1464.6" r="0.85" fill="#23273a"/>
<circle cx="516.7" cy="1466.7" r="0.85" fill="#23273a"/>
<circle cx="518.4" cy="1468.8" r="0.85" fill="#23273a"/>
<circle cx="516.7" cy="1470.9" r="0.85" fill="#23273a"/>
<circle cx="518.4" cy="1473.0" r="0.85" fill="#23273a"/>
<circle cx="516.7" cy="1475.1" r="0.85" fill="#23273a"/>
<circle cx="518.4" cy="1477.2" r="0.85" fill="#23273a"/>
<circle cx="516.7" cy="1479.3" r="0.85" fill="#23273a"/>
<circle cx="518.4" cy="1481.4" r="0.85" fill="#23273a"/>
<circle cx="516.7" cy="1483.5" r="0.85" fill="#23273a"/>
<circle cx="518.4" cy="1485.6" r="0.85" fill="#23273a"/>
<circle cx="516.7" cy="1487.8" r="0.85" fill="#23273a"/>
<circle cx="518.4" cy="1489.9" r="0.85" fill="#23273a"/>
<circle cx="516.7" cy="1492.0" r="0.85" fill="#23273a"/>
<circle cx="518.4" cy="1494.1" r="0.85" fill="#23273a"/>
<circle cx="516.7" cy="1496.2" r="0.85" fill="#23273a"/>
<circle cx="518.4" cy="1498.3" r="0.85" fill="#23273a"/>
<rect x="526.6" y="1418.6" width="6.2" height="80.7" fill="#f2f2f4" opacity="0.92"/>
<circle cx="528.3" cy="1420.3" r="0.85" fill="#23273a"/>
<circle cx="531.7" cy="1420.3" r="0.85" fill="#23273a"/>
<circle cx="530.0" cy="1422.4" r="0.85" fill="#23273a"/>
<circle cx="528.3" cy="1424.5" r="0.85" fill="#23273a"/>
<circle cx="531.7" cy="1424.5" r="0.85" fill="#23273a"/>
<circle cx="530.0" cy="1426.6" r="0.85" fill="#23273a"/>
<circle cx="528.3" cy="1428.7" r="0.85" fill="#23273a"/>
<circle cx="531.7" cy="1428.7" r="0.85" fill="#23273a"/>
<circle cx="530.0" cy="1430.8" r="0.85" fill="#23273a"/>
<circle cx="528.3" cy="1432.9" r="0.85" fill="#23273a"/>
<circle cx="531.7" cy="1432.9" r="0.85" fill="#23273a"/>
<circle cx="530.0" cy="1435.1" r="0.85" fill="#23273a"/>
<circle cx="528.3" cy="1437.2" r="0.85" fill="#23273a"/>
<circle cx="531.7" cy="1437.2" r="0.85" fill="#23273a"/>
<circle cx="530.0" cy="1439.3" r="0.85" fill="#23273a"/>
<circle cx="528.3" cy="1441.4" r="0.85" fill="#23273a"/>
<circle cx="531.7" cy="1441.4" r="0.85" fill="#23273a"/>
<circle cx="530.0" cy="1443.5" r="0.85" fill="#23273a"/>
<circle cx="528.3" cy="1445.6" r="0.85" fill="#23273a"/>
<circle cx="531.7" cy="1445.6" r="0.85" fill="#23273a"/>
<circle cx="530.0" cy="1447.7" r="0.85" fill="#23273a"/>
<circle cx="528.3" cy="1449.8" r="0.85" fill="#23273a"/>
<circle cx="531.7" cy="1449.8" r="0.85" fill="#23273a"/>
<circle cx="530.0" cy="1451.9" r="0.85" fill="#23273a"/>
<circle cx="528.3" cy="1454.0" r="0.85" fill="#23273a"/>
<circle cx="531.7" cy="1454.0" r="0.85" fill="#23273a"/>
<circle cx="530.0" cy="1456.1" r="0.85" fill="#23273a"/>
<circle cx="528.3" cy="1458.2" r="0.85" fill="#23273a"/>
<circle cx="531.7" cy="1458.2" r="0.85" fill="#23273a"/>
<circle cx="530.0" cy="1460.4" r="0.85" fill="#23273a"/>
<circle cx="528.3" cy="1462.5" r="0.85" fill="#23273a"/>
<circle cx="531.7" cy="1462.5" r="0.85" fill="#23273a"/>
<circle cx="530.0" cy="1464.6" r="0.85" fill="#23273a"/>
<circle cx="528.3" cy="1466.7" r="0.85" fill="#23273a"/>
<circle cx="531.7" cy="1466.7" r="0.85" fill="#23273a"/>
<circle cx="530.0" cy="1468.8" r="0.85" fill="#23273a"/>
<circle cx="528.3" cy="1470.9" r="0.85" fill="#23273a"/>
<circle cx="531.7" cy="1470.9" r="0.85" fill="#23273a"/>
<circle cx="530.0" cy="1473.0" r="0.85" fill="#23273a"/>
<circle cx="528.3" cy="1475.1" r="0.85" fill="#23273a"/>
<circle cx="531.7" cy="1475.1" r="0.85" fill="#23273a"/>
<circle cx="530.0" cy="1477.2" r="0.85" fill="#23273a"/>
<circle cx="528.3" cy="1479.3" r="0.85" fill="#23273a"/>
<circle cx="531.7" cy="1479.3" r="0.85" fill="#23273a"/>
<circle cx="530.0" cy="1481.4" r="0.85" fill="#23273a"/>
<circle cx="528.3" cy="1483.5" r="0.85" fill="#23273a"/>
<circle cx="531.7" cy="1483.5" r="0.85" fill="#23273a"/>
<circle cx="530.0" cy="1485.6" r="0.85" fill="#23273a"/>
<circle cx="528.3" cy="1487.8" r="0.85" fill="#23273a"/>
<circle cx="531.7" cy="1487.8" r="0.85" fill="#23273a"/>
<circle cx="530.0" cy="1489.9" r="0.85" fill="#23273a"/>
<circle cx="528.3" cy="1492.0" r="0.85" fill="#23273a"/>
<circle cx="531.7" cy="1492.0" r="0.85" fill="#23273a"/>
<circle cx="530.0" cy="1494.1" r="0.85" fill="#23273a"/>
<circle cx="528.3" cy="1496.2" r="0.85" fill="#23273a"/>
<circle cx="531.7" cy="1496.2" r="0.85" fill="#23273a"/>
<circle cx="530.0" cy="1498.3" r="0.85" fill="#23273a"/>
<line class="c" x1="515.0" y1="1418.6" x2="515.0" y2="1499.3"/>
<line class="c" x1="520.4" y1="1418.6" x2="520.4" y2="1499.3"/>
<line class="c" x1="526.6" y1="1418.6" x2="526.6" y2="1499.3"/>
<line class="c" x1="511.2" y1="1459.0" x2="532.9" y2="1459.0" style="stroke-width:2.0"/>
<line class="c" x1="493.4" y1="1499.6" x2="534.4" y2="1499.6" style="stroke-width:2.4"/>
<rect x="493.5" y="1501.0" width="7.0" height="40.7" fill="#f2f2f4" opacity="0.92"/>
<circle cx="495.2" cy="1502.7" r="0.85" fill="#23273a"/>
<circle cx="498.6" cy="1502.7" r="0.85" fill="#23273a"/>
<circle cx="496.9" cy="1504.8" r="0.85" fill="#23273a"/>
<circle cx="495.2" cy="1506.9" r="0.85" fill="#23273a"/>
<circle cx="498.6" cy="1506.9" r="0.85" fill="#23273a"/>
<circle cx="496.9" cy="1509.0" r="0.85" fill="#23273a"/>
<circle cx="495.2" cy="1511.1" r="0.85" fill="#23273a"/>
<circle cx="498.6" cy="1511.1" r="0.85" fill="#23273a"/>
<circle cx="496.9" cy="1513.2" r="0.85" fill="#23273a"/>
<circle cx="495.2" cy="1515.3" r="0.85" fill="#23273a"/>
<circle cx="498.6" cy="1515.3" r="0.85" fill="#23273a"/>
<circle cx="496.9" cy="1517.5" r="0.85" fill="#23273a"/>
<circle cx="495.2" cy="1519.6" r="0.85" fill="#23273a"/>
<circle cx="498.6" cy="1519.6" r="0.85" fill="#23273a"/>
<circle cx="496.9" cy="1521.7" r="0.85" fill="#23273a"/>
<circle cx="495.2" cy="1523.8" r="0.85" fill="#23273a"/>
<circle cx="498.6" cy="1523.8" r="0.85" fill="#23273a"/>
<circle cx="496.9" cy="1525.9" r="0.85" fill="#23273a"/>
<circle cx="495.2" cy="1528.0" r="0.85" fill="#23273a"/>
<circle cx="498.6" cy="1528.0" r="0.85" fill="#23273a"/>
<circle cx="496.9" cy="1530.1" r="0.85" fill="#23273a"/>
<circle cx="495.2" cy="1532.2" r="0.85" fill="#23273a"/>
<circle cx="498.6" cy="1532.2" r="0.85" fill="#23273a"/>
<circle cx="496.9" cy="1534.3" r="0.85" fill="#23273a"/>
<circle cx="495.2" cy="1536.4" r="0.85" fill="#23273a"/>
<circle cx="498.6" cy="1536.4" r="0.85" fill="#23273a"/>
<circle cx="496.9" cy="1538.5" r="0.85" fill="#23273a"/>
<circle cx="495.2" cy="1540.6" r="0.85" fill="#23273a"/>
<circle cx="498.6" cy="1540.6" r="0.85" fill="#23273a"/>
<rect x="525.7" y="1501.0" width="7.1" height="40.7" fill="#f2f2f4" opacity="0.92"/>
<circle cx="527.4" cy="1502.7" r="0.85" fill="#23273a"/>
<circle cx="530.8" cy="1502.7" r="0.85" fill="#23273a"/>
<circle cx="529.1" cy="1504.8" r="0.85" fill="#23273a"/>
<circle cx="527.4" cy="1506.9" r="0.85" fill="#23273a"/>
<circle cx="530.8" cy="1506.9" r="0.85" fill="#23273a"/>
<circle cx="529.1" cy="1509.0" r="0.85" fill="#23273a"/>
<circle cx="527.4" cy="1511.1" r="0.85" fill="#23273a"/>
<circle cx="530.8" cy="1511.1" r="0.85" fill="#23273a"/>
<circle cx="529.1" cy="1513.2" r="0.85" fill="#23273a"/>
<circle cx="527.4" cy="1515.3" r="0.85" fill="#23273a"/>
<circle cx="530.8" cy="1515.3" r="0.85" fill="#23273a"/>
<circle cx="529.1" cy="1517.5" r="0.85" fill="#23273a"/>
<circle cx="527.4" cy="1519.6" r="0.85" fill="#23273a"/>
<circle cx="530.8" cy="1519.6" r="0.85" fill="#23273a"/>
<circle cx="529.1" cy="1521.7" r="0.85" fill="#23273a"/>
<circle cx="527.4" cy="1523.8" r="0.85" fill="#23273a"/>
<circle cx="530.8" cy="1523.8" r="0.85" fill="#23273a"/>
<circle cx="529.1" cy="1525.9" r="0.85" fill="#23273a"/>
<circle cx="527.4" cy="1528.0" r="0.85" fill="#23273a"/>
<circle cx="530.8" cy="1528.0" r="0.85" fill="#23273a"/>
<circle cx="529.1" cy="1530.1" r="0.85" fill="#23273a"/>
<circle cx="527.4" cy="1532.2" r="0.85" fill="#23273a"/>
<circle cx="530.8" cy="1532.2" r="0.85" fill="#23273a"/>
<circle cx="529.1" cy="1534.3" r="0.85" fill="#23273a"/>
<circle cx="527.4" cy="1536.4" r="0.85" fill="#23273a"/>
<circle cx="530.8" cy="1536.4" r="0.85" fill="#23273a"/>
<circle cx="529.1" cy="1538.5" r="0.85" fill="#23273a"/>
<circle cx="527.4" cy="1540.6" r="0.85" fill="#23273a"/>
<circle cx="530.8" cy="1540.6" r="0.85" fill="#23273a"/>
<line class="c" x1="500.5" y1="1501.0" x2="500.5" y2="1541.7"/>
<line class="c" x1="525.7" y1="1501.0" x2="525.7" y2="1541.7"/>
<path class="c" d="M471.4 1543.2 L554.5 1543.2 L554.5 1584.6 L471.4 1584.6 Z"/>
<circle class="fw" cx="475.0" cy="1550.0" r="0.65"/>
<circle class="fw" cx="485.0" cy="1547.6" r="0.55"/>
<circle class="fw" cx="515.7" cy="1571.6" r="0.55"/>
<circle class="fw" cx="485.5" cy="1572.7" r="0.75"/>
<circle class="fw" cx="478.7" cy="1554.3" r="0.75"/>
<circle class="fw" cx="508.9" cy="1560.9" r="0.75"/>
<circle class="fw" cx="481.3" cy="1546.7" r="0.65"/>
<circle class="fw" cx="500.6" cy="1553.4" r="0.65"/>
<circle class="fw" cx="502.5" cy="1580.4" r="0.55"/>
<circle class="fw" cx="530.5" cy="1561.0" r="0.75"/>
<circle class="fw" cx="516.7" cy="1580.3" r="0.55"/>
<circle class="fw" cx="501.7" cy="1553.3" r="0.65"/>
<circle class="fw" cx="476.4" cy="1572.5" r="0.65"/>
<circle class="fw" cx="524.8" cy="1553.9" r="0.65"/>
<circle class="fw" cx="530.9" cy="1553.0" r="0.75"/>
<circle class="fw" cx="537.9" cy="1563.4" r="0.65"/>
<circle class="fw" cx="500.2" cy="1558.0" r="0.65"/>
<circle class="fw" cx="511.6" cy="1569.4" r="0.65"/>
<circle class="fw" cx="549.0" cy="1581.2" r="0.55"/>
<circle class="fw" cx="535.6" cy="1557.0" r="0.55"/>
<circle class="fw" cx="517.7" cy="1579.7" r="0.75"/>
<circle class="fw" cx="497.0" cy="1552.2" r="0.55"/>
<path class="w" style="stroke-width:1.2" d="M542.8 1564.5 L546.5 1567.6 L541.9 1569.3 Z"/>
<path class="w" style="stroke-width:1.2" d="M503.5 1573.8 L509.3 1576.3 L504.2 1580.1 Z"/>
<path class="w" style="stroke-width:1.2" d="M491.8 1559.6 L493.0 1564.9 L487.8 1563.3 Z"/>
<rect x="511.1" y="1353.4" width="3.9" height="210.5" fill="#f2f2f4"/>
<circle class="fc" cx="512.9" cy="1567.2" r="3.3"/>
<line class="c" x1="508.5" y1="1567.2" x2="517.5" y2="1567.2" style="stroke-width:2.2"/>
<line class="c" x1="509.5" y1="1359.6" x2="516.5" y2="1359.6" style="stroke-width:2.4"/>
<line class="c" x1="532.9" y1="1488.9" x2="646.1" y2="1488.9" style="stroke-width:1.8"/>
<rect x="532.9" y="1489.5" width="2.8" height="20" fill="#f2f2f4"/>
<line class="c" x1="535.7" y1="1509.9" x2="646.1" y2="1509.9" style="stroke-width:1.6"/>
<circle class="fw" cx="546.7" cy="1495.3" r="0.65"/>
<circle class="fw" cx="612.2" cy="1495.7" r="0.55"/>
<circle class="fw" cx="614.5" cy="1493.6" r="0.75"/>
<circle class="fw" cx="573.4" cy="1492.9" r="0.75"/>
<circle class="fw" cx="638.2" cy="1505.7" r="0.65"/>
<circle class="fw" cx="601.9" cy="1500.4" r="0.55"/>
<circle class="fw" cx="593.9" cy="1499.5" r="0.55"/>
<circle class="fw" cx="626.8" cy="1506.8" r="0.55"/>
<circle class="fw" cx="585.6" cy="1497.2" r="0.55"/>
<circle class="fw" cx="641.7" cy="1493.7" r="0.55"/>
<circle class="fw" cx="584.8" cy="1498.7" r="0.55"/>
<circle class="fw" cx="597.1" cy="1495.5" r="0.65"/>
<circle class="fw" cx="571.2" cy="1506.4" r="0.55"/>
<circle class="fw" cx="594.9" cy="1504.6" r="0.65"/>
<circle class="fw" cx="598.5" cy="1500.9" r="0.55"/>
<circle class="fw" cx="600.4" cy="1495.6" r="0.65"/>
<circle class="fw" cx="546.8" cy="1502.3" r="0.65"/>
<circle class="fw" cx="583.5" cy="1493.1" r="0.65"/>
<path class="w" style="stroke-width:1.2" d="M543.7 1499.3 L538.5 1496.5 L543.6 1493.4 Z"/>
<path class="w" style="stroke-width:1.2" d="M627.6 1498.9 L625.2 1494.2 L630.5 1494.5 Z"/>
<path class="w" style="stroke-width:1.2" d="M553.1 1493.5 L558.3 1493.7 L555.5 1498.1 Z"/>
<path class="w" style="stroke-width:1.2" d="M590.3 1502.6 L590.2 1497.6 L594.6 1499.9 Z"/>
<clipPath id="clipGr3"><rect x="533.2" y="1510.7" width="112.9" height="26.1"/></clipPath>
<g clip-path="url(#clipGr3)">
<rect x="533.2" y="1510.7" width="112.9" height="25.1" fill="#f2f2f4"/>
<ellipse cx="486.5" cy="1516.0" rx="3.9" ry="3.3" fill="#23273a"/>
<ellipse cx="496.9" cy="1516.0" rx="4.1" ry="1.8" fill="#23273a"/>
<ellipse cx="492.5" cy="1526.0" rx="5.3" ry="7.0" fill="#23273a" transform="rotate(32 492.5 1526.0)"/>
<ellipse cx="503.4" cy="1524.0" rx="3.3" ry="2.0" fill="#23273a" transform="rotate(-5 503.4 1524.0)"/>
<ellipse cx="502.3" cy="1531.3" rx="5.2" ry="2.7" fill="#23273a" transform="rotate(-14 502.3 1531.3)"/>
<ellipse cx="494.5" cy="1536.3" rx="4.0" ry="2.2" fill="#23273a"/>
<ellipse cx="504.9" cy="1536.3" rx="4.0" ry="2.2" fill="#23273a"/>
<ellipse cx="507.5" cy="1516.0" rx="3.9" ry="3.3" fill="#23273a"/>
<ellipse cx="517.9" cy="1516.0" rx="4.1" ry="1.8" fill="#23273a"/>
<ellipse cx="513.5" cy="1526.0" rx="5.3" ry="7.0" fill="#23273a" transform="rotate(32 513.5 1526.0)"/>
<ellipse cx="524.4" cy="1524.0" rx="3.3" ry="2.0" fill="#23273a" transform="rotate(-5 524.4 1524.0)"/>
<ellipse cx="523.3" cy="1531.3" rx="5.2" ry="2.7" fill="#23273a" transform="rotate(-14 523.3 1531.3)"/>
<ellipse cx="515.5" cy="1536.3" rx="4.0" ry="2.2" fill="#23273a"/>
<ellipse cx="525.9" cy="1536.3" rx="4.0" ry="2.2" fill="#23273a"/>
<ellipse cx="528.5" cy="1516.0" rx="3.9" ry="3.3" fill="#23273a"/>
<ellipse cx="538.9" cy="1516.0" rx="4.1" ry="1.8" fill="#23273a"/>
<ellipse cx="534.5" cy="1526.0" rx="5.3" ry="7.0" fill="#23273a" transform="rotate(32 534.5 1526.0)"/>
<ellipse cx="545.4" cy="1524.0" rx="3.3" ry="2.0" fill="#23273a" transform="rotate(-5 545.4 1524.0)"/>
<ellipse cx="544.3" cy="1531.3" rx="5.2" ry="2.7" fill="#23273a" transform="rotate(-14 544.3 1531.3)"/>
<ellipse cx="536.5" cy="1536.3" rx="4.0" ry="2.2" fill="#23273a"/>
<ellipse cx="546.9" cy="1536.3" rx="4.0" ry="2.2" fill="#23273a"/>
<ellipse cx="549.5" cy="1516.0" rx="3.9" ry="3.3" fill="#23273a"/>
<ellipse cx="559.9" cy="1516.0" rx="4.1" ry="1.8" fill="#23273a"/>
<ellipse cx="555.5" cy="1526.0" rx="5.3" ry="7.0" fill="#23273a" transform="rotate(32 555.5 1526.0)"/>
<ellipse cx="566.4" cy="1524.0" rx="3.3" ry="2.0" fill="#23273a" transform="rotate(-5 566.4 1524.0)"/>
<ellipse cx="565.3" cy="1531.3" rx="5.2" ry="2.7" fill="#23273a" transform="rotate(-14 565.3 1531.3)"/>
<ellipse cx="557.5" cy="1536.3" rx="4.0" ry="2.2" fill="#23273a"/>
<ellipse cx="567.9" cy="1536.3" rx="4.0" ry="2.2" fill="#23273a"/>
<ellipse cx="570.5" cy="1516.0" rx="3.9" ry="3.3" fill="#23273a"/>
<ellipse cx="580.9" cy="1516.0" rx="4.1" ry="1.8" fill="#23273a"/>
<ellipse cx="576.5" cy="1526.0" rx="5.3" ry="7.0" fill="#23273a" transform="rotate(32 576.5 1526.0)"/>
<ellipse cx="587.4" cy="1524.0" rx="3.3" ry="2.0" fill="#23273a" transform="rotate(-5 587.4 1524.0)"/>
<ellipse cx="586.3" cy="1531.3" rx="5.2" ry="2.7" fill="#23273a" transform="rotate(-14 586.3 1531.3)"/>
<ellipse cx="578.5" cy="1536.3" rx="4.0" ry="2.2" fill="#23273a"/>
<ellipse cx="588.9" cy="1536.3" rx="4.0" ry="2.2" fill="#23273a"/>
<ellipse cx="591.5" cy="1516.0" rx="3.9" ry="3.3" fill="#23273a"/>
<ellipse cx="601.9" cy="1516.0" rx="4.1" ry="1.8" fill="#23273a"/>
<ellipse cx="597.5" cy="1526.0" rx="5.3" ry="7.0" fill="#23273a" transform="rotate(32 597.5 1526.0)"/>
<ellipse cx="608.4" cy="1524.0" rx="3.3" ry="2.0" fill="#23273a" transform="rotate(-5 608.4 1524.0)"/>
<ellipse cx="607.3" cy="1531.3" rx="5.2" ry="2.7" fill="#23273a" transform="rotate(-14 607.3 1531.3)"/>
<ellipse cx="599.5" cy="1536.3" rx="4.0" ry="2.2" fill="#23273a"/>
<ellipse cx="609.9" cy="1536.3" rx="4.0" ry="2.2" fill="#23273a"/>
<ellipse cx="612.5" cy="1516.0" rx="3.9" ry="3.3" fill="#23273a"/>
<ellipse cx="622.9" cy="1516.0" rx="4.1" ry="1.8" fill="#23273a"/>
<ellipse cx="618.5" cy="1526.0" rx="5.3" ry="7.0" fill="#23273a" transform="rotate(32 618.5 1526.0)"/>
<ellipse cx="629.4" cy="1524.0" rx="3.3" ry="2.0" fill="#23273a" transform="rotate(-5 629.4 1524.0)"/>
<ellipse cx="628.3" cy="1531.3" rx="5.2" ry="2.7" fill="#23273a" transform="rotate(-14 628.3 1531.3)"/>
<ellipse cx="620.5" cy="1536.3" rx="4.0" ry="2.2" fill="#23273a"/>
<ellipse cx="630.9" cy="1536.3" rx="4.0" ry="2.2" fill="#23273a"/>
<ellipse cx="633.5" cy="1516.0" rx="3.9" ry="3.3" fill="#23273a"/>
<ellipse cx="643.9" cy="1516.0" rx="4.1" ry="1.8" fill="#23273a"/>
<ellipse cx="639.5" cy="1526.0" rx="5.3" ry="7.0" fill="#23273a" transform="rotate(32 639.5 1526.0)"/>
<ellipse cx="650.4" cy="1524.0" rx="3.3" ry="2.0" fill="#23273a" transform="rotate(-5 650.4 1524.0)"/>
<ellipse cx="649.3" cy="1531.3" rx="5.2" ry="2.7" fill="#23273a" transform="rotate(-14 649.3 1531.3)"/>
<ellipse cx="641.5" cy="1536.3" rx="4.0" ry="2.2" fill="#23273a"/>
<ellipse cx="651.9" cy="1536.3" rx="4.0" ry="2.2" fill="#23273a"/>
<ellipse cx="654.5" cy="1516.0" rx="3.9" ry="3.3" fill="#23273a"/>
<ellipse cx="664.9" cy="1516.0" rx="4.1" ry="1.8" fill="#23273a"/>
<ellipse cx="660.5" cy="1526.0" rx="5.3" ry="7.0" fill="#23273a" transform="rotate(32 660.5 1526.0)"/>
<ellipse cx="671.4" cy="1524.0" rx="3.3" ry="2.0" fill="#23273a" transform="rotate(-5 671.4 1524.0)"/>
<ellipse cx="670.3" cy="1531.3" rx="5.2" ry="2.7" fill="#23273a" transform="rotate(-14 670.3 1531.3)"/>
<ellipse cx="662.5" cy="1536.3" rx="4.0" ry="2.2" fill="#23273a"/>
<ellipse cx="672.9" cy="1536.3" rx="4.0" ry="2.2" fill="#23273a"/>
</g>
<path class="c" d="M430.7 1498.2 L445.0 1498.0 L460.0 1496.9 L493.0 1495.0"/>
<text class="t" x="336.9" y="1328.8" font-size="12.4" textLength="97.5" lengthAdjust="spacingAndGlyphs">LOCATE RODS AT</text>
<text class="t" x="336.9" y="1341.8" font-size="12.4" textLength="93.3" lengthAdjust="spacingAndGlyphs">ENDS OF PANELS</text>
<text class="t" x="336.9" y="1389.6" font-size="12.4" textLength="101.4" lengthAdjust="spacingAndGlyphs">"LADDER" WIRE AT</text>
<text class="t" x="336.9" y="1402.6" font-size="12.4" textLength="89.9" lengthAdjust="spacingAndGlyphs">EACH COURSE IN</text>
<text class="t" x="336.9" y="1415.6" font-size="12.4" textLength="96.4" lengthAdjust="spacingAndGlyphs">8" CAP AND THEN</text>
<text class="t" x="336.9" y="1428.7" font-size="12.4" textLength="31.3" lengthAdjust="spacingAndGlyphs">8" OC</text>
<text class="t" x="338.4" y="1454.7" font-size="12.4" textLength="107.0" lengthAdjust="spacingAndGlyphs">4" BRICK SHALL BE</text>
<text class="t" x="338.4" y="1467.6" font-size="12.4" textLength="118.8" lengthAdjust="spacingAndGlyphs">NOTCHED/CHIPPED TO</text>
<text class="t" x="338.4" y="1482.1" font-size="12.4" textLength="111.4" lengthAdjust="spacingAndGlyphs">ALLOW FOR ⅝" ROD</text>
<text class="t" x="338.4" y="1515.3" font-size="12.4" textLength="36.9" lengthAdjust="spacingAndGlyphs">8" CMU</text>
<text class="t" x="605.4" y="1218.8" font-size="12.4" textLength="106.3" lengthAdjust="spacingAndGlyphs">2x6 WALL FRAMING</text>
<text class="t" x="605.4" y="1247.0" font-size="12.4" textLength="129.1" lengthAdjust="spacingAndGlyphs">OPTIONAL WALL PLATE.</text>
<text class="t" x="605.4" y="1260.0" font-size="12.4" textLength="133.4" lengthAdjust="spacingAndGlyphs">MAY COUNTERSINK BOLT</text>
<text class="t" x="605.4" y="1272.8" font-size="12.4" textLength="108.5" lengthAdjust="spacingAndGlyphs">IN OPTIONAL PLATE.</text>
<text class="t" x="605.4" y="1297.8" font-size="12.4" textLength="111.3" lengthAdjust="spacingAndGlyphs">TREATED SILLPLATE</text>
<text class="t" x="605.4" y="1344.5" font-size="12.4" textLength="114.3" lengthAdjust="spacingAndGlyphs">8" SOLID BRICK CAP</text>
<text class="t" x="605.4" y="1381.6" font-size="12.4" textLength="118.7" lengthAdjust="spacingAndGlyphs">4" BRICK AND 4" CMU</text>
<text class="t" x="605.4" y="1395.0" font-size="12.4" textLength="60.7" lengthAdjust="spacingAndGlyphs">(OR BRICK)</text>
<text class="t" x="605.4" y="1415.0" font-size="12.4" textLength="134.5" lengthAdjust="spacingAndGlyphs">⅝" THREADED ROD WITH</text>
<text class="t" x="605.4" y="1427.6" font-size="12.4" textLength="90.0" lengthAdjust="spacingAndGlyphs">2" CUT WASHERS</text>
<text class="t" x="605.4" y="1440.6" font-size="12.4" textLength="116.1" lengthAdjust="spacingAndGlyphs">OR SIMPSON "SET OR</text>
<text class="t" x="605.4" y="1453.6" font-size="12.4" textLength="86.8" lengthAdjust="spacingAndGlyphs">SET-XP" EPOXY.</text>
<text class="t" x="605.4" y="1558.1" font-size="12.4" textLength="122.6" lengthAdjust="spacingAndGlyphs">3" CONC. COVER (TYP)</text>
<text class="t" x="606.0" y="1587.8" font-size="12.4" textLength="136.1" lengthAdjust="spacingAndGlyphs">CONCRETE FOOTING (SEE</text>
<text class="t" x="606.0" y="1601.5" font-size="12.4" textLength="153.5" lengthAdjust="spacingAndGlyphs">PLANS) - CONTINUE FOOTING</text>
<text class="t" x="606.0" y="1614.5" font-size="12.4" textLength="133.9" lengthAdjust="spacingAndGlyphs">ACROSS GARAGE DOOR</text>
<text class="t" x="606.0" y="1627.5" font-size="12.4" textLength="45.6" lengthAdjust="spacingAndGlyphs">OPENING</text>
<line class="c" x1="600.0" y1="1214.7" x2="565.2" y2="1214.7"/>
<line class="c" x1="565.2" y1="1214.7" x2="516.4" y2="1247.7"/>
<path class="fc" d="M516.4 1247.7 L522.1 1242.0 L523.8 1244.6 Z"/>
<line class="c" x1="600.0" y1="1242.9" x2="573.9" y2="1242.9"/>
<line class="c" x1="573.9" y1="1242.9" x2="520.7" y2="1359.4"/>
<path class="fc" d="M520.7 1359.4 L522.6 1351.6 L525.3 1352.9 Z"/>
<line class="c" x1="600.0" y1="1293.7" x2="584.8" y2="1293.7"/>
<line class="c" x1="584.8" y1="1293.7" x2="526.2" y2="1371.4"/>
<path class="fc" d="M526.2 1371.4 L529.7 1364.2 L532.1 1366.0 Z"/>
<line class="c" x1="600.0" y1="1339.9" x2="588.0" y2="1339.9"/>
<line class="c" x1="588.0" y1="1339.9" x2="533.8" y2="1394.1"/>
<path class="fc" d="M533.8 1394.1 L538.3 1387.5 L540.4 1389.6 Z"/>
<line class="c" x1="600.0" y1="1377.9" x2="585.8" y2="1377.9"/>
<line class="c" x1="585.8" y1="1377.9" x2="533.8" y2="1440.8"/>
<path class="fc" d="M533.8 1440.8 L537.6 1433.8 L540.0 1435.7 Z"/>
<line class="c" x1="600.0" y1="1427.8" x2="588.0" y2="1427.8"/>
<line class="c" x1="588.0" y1="1427.8" x2="519.7" y2="1480.1"/>
<path class="fc" d="M519.7 1480.1 L525.0 1474.1 L526.9 1476.5 Z"/>
<line class="c" x1="439.4" y1="1323.6" x2="471.9" y2="1323.6"/>
<line class="c" x1="471.9" y1="1323.6" x2="511.0" y2="1355.1"/>
<path class="fc" d="M511.0 1355.1 L503.9 1351.3 L505.8 1349.0 Z"/>
<line class="c" x1="435.0" y1="1398.9" x2="456.7" y2="1398.9"/>
<line class="c" x1="456.7" y1="1398.9" x2="493.6" y2="1390.5"/>
<path class="fc" d="M493.6 1390.5 L486.3 1393.7 L485.6 1390.8 Z"/>
<line class="c" x1="456.7" y1="1398.9" x2="493.6" y2="1415.2"/>
<path class="fc" d="M493.6 1415.2 L485.8 1413.4 L487.0 1410.6 Z"/>
<path class="c" d="M451.3 1451.2 L473.0 1451.2 L511.0 1438.6"/>
<line class="c" x1="380.3" y1="1510.5" x2="451.9" y2="1510.5"/>
<line class="c" x1="451.9" y1="1510.5" x2="492.5" y2="1531.1"/>
<path class="fc" d="M492.5 1531.1 L484.8 1528.9 L486.2 1526.2 Z"/>
<line class="c" x1="600.0" y1="1552.8" x2="583.7" y2="1552.8"/>
<line class="c" x1="583.7" y1="1552.8" x2="515.3" y2="1571.3"/>
<path class="fc" d="M515.3 1571.3 L522.5 1567.8 L523.3 1570.7 Z"/>
<line class="c" x1="603.2" y1="1595.8" x2="589.1" y2="1595.8"/>
<line class="c" x1="589.1" y1="1595.8" x2="555.5" y2="1574.5"/>
<path class="fc" d="M555.5 1574.5 L562.9 1577.4 L561.3 1580.0 Z"/>
<line class="c" x1="712.4" y1="1214.5" x2="806.3" y2="1214.5"/>
<line class="c" x1="806.3" y1="1214.5" x2="915.5" y2="1282.0"/>
<path class="fc" d="M915.5 1282.0 L908.0 1279.2 L909.6 1276.6 Z"/>
<line class="c" x1="735.6" y1="1242.7" x2="814.2" y2="1242.7"/>
<line class="c" x1="814.2" y1="1242.7" x2="904.7" y2="1359.3"/>
<path class="fc" d="M904.7 1359.3 L898.7 1354.0 L901.1 1352.2 Z"/>
<line class="c" x1="722.6" y1="1293.7" x2="789.4" y2="1293.7"/>
<line class="c" x1="789.4" y1="1293.7" x2="851.5" y2="1367.2"/>
<path class="fc" d="M851.5 1367.2 L845.3 1362.2 L847.6 1360.2 Z"/>
<line class="c" x1="724.7" y1="1339.5" x2="769.0" y2="1339.5"/>
<line class="c" x1="769.0" y1="1339.5" x2="832.3" y2="1388.6"/>
<path class="fc" d="M832.3 1388.6 L825.2 1385.0 L827.0 1382.6 Z"/>
<line class="c" x1="728.0" y1="1378.5" x2="756.2" y2="1378.5"/>
<line class="c" x1="756.2" y1="1378.5" x2="832.3" y2="1436.0"/>
<path class="fc" d="M832.3 1436.0 L825.1 1432.5 L826.9 1430.1 Z"/>
<line class="c" x1="734.5" y1="1428.0" x2="775.8" y2="1428.0"/>
<line class="c" x1="775.8" y1="1428.0" x2="860.6" y2="1484.1"/>
<path class="fc" d="M860.6 1484.1 L853.2 1481.0 L854.9 1478.5 Z"/>
<line class="c" x1="762.7" y1="1594.5" x2="777.5" y2="1594.5"/>
<line class="c" x1="777.5" y1="1594.5" x2="810.9" y2="1554.8"/>
<path class="fc" d="M810.9 1554.8 L807.0 1561.8 L804.7 1559.8 Z"/>
<path class="c" d="M771.3 1509.3 L790.0 1508.8 L805.0 1506.6 L832.8 1505.2"/>
<text class="tm" x="480.3" y="1622.7" font-size="14.6" textLength="59.7" lengthAdjust="spacingAndGlyphs">SECTION</text>
<line class="c" x1="480.3" y1="1625.2" x2="541.0" y2="1625.2"/>
<line class="c" x1="832.8" y1="1178.9" x2="1071.9" y2="1178.9"/>
<line class="c" x1="832.8" y1="1173.9" x2="832.8" y2="1197.6"/>
<line class="c" x1="1071.9" y1="1173.9" x2="1071.9" y2="1197.6"/>
<line class="c" x1="827.8" y1="1183.9" x2="837.8" y2="1173.9"/>
<line class="c" x1="1066.9" y1="1183.9" x2="1076.9" y2="1173.9"/>
<text class="t" x="927.3" y="1174.8" font-size="12.4" textLength="52.0" lengthAdjust="spacingAndGlyphs">48" MAX</text>
<line class="c" x1="832.8" y1="1204.4" x2="832.8" y2="1361.1"/>
<line class="c" x1="841.4" y1="1204.4" x2="841.4" y2="1361.1"/>
<line class="c" x1="916.0" y1="1204.4" x2="916.0" y2="1361.1"/>
<line class="c" x1="924.3" y1="1204.4" x2="924.3" y2="1361.1"/>
<line class="c" x1="998.9" y1="1204.4" x2="998.9" y2="1361.1"/>
<line class="c" x1="1007.1" y1="1204.4" x2="1007.1" y2="1361.1"/>
<line class="c" x1="1064.0" y1="1204.4" x2="1064.0" y2="1361.1"/>
<line class="c" x1="1071.9" y1="1204.4" x2="1071.9" y2="1361.1"/>
<line class="c" x1="1079.6" y1="1204.4" x2="1079.6" y2="1495.9"/>
<line class="c" x1="832.8" y1="1361.1" x2="1071.9" y2="1361.1"/>
<line class="c" x1="832.8" y1="1368.8" x2="1071.9" y2="1368.8"/>
<line class="c" x1="832.8" y1="1376.7" x2="1071.9" y2="1376.7"/>
<line class="c" x1="832.8" y1="1361.1" x2="832.8" y2="1542.9"/>
<line class="c" x1="1071.9" y1="1361.1" x2="1071.9" y2="1542.9"/>
<line class="c" x1="832.8" y1="1415.4" x2="1071.9" y2="1415.4"/>
<line class="c" x1="832.8" y1="1418.1" x2="1071.9" y2="1418.1"/>
<line class="c" x1="832.8" y1="1457.6" x2="1071.9" y2="1457.6"/>
<line class="c" x1="832.8" y1="1460.4" x2="1071.9" y2="1460.4"/>
<line class="c" x1="832.8" y1="1498.3" x2="1071.9" y2="1498.3"/>
<line class="c" x1="832.8" y1="1501.3" x2="1071.9" y2="1501.3"/>
<line class="c" x1="832.8" y1="1540.1" x2="1071.9" y2="1540.1"/>
<line class="c" x1="832.8" y1="1542.9" x2="1071.9" y2="1542.9"/>
<line class="c" x1="911.0" y1="1376.7" x2="911.0" y2="1415.4"/>
<line class="c" x1="914.4" y1="1376.7" x2="914.4" y2="1415.4"/>
<line class="c" x1="991.0" y1="1376.7" x2="991.0" y2="1415.4"/>
<line class="c" x1="994.4" y1="1376.7" x2="994.4" y2="1415.4"/>
<line class="c" x1="870.3" y1="1418.1" x2="870.3" y2="1457.6"/>
<line class="c" x1="873.0" y1="1418.1" x2="873.0" y2="1457.6"/>
<line class="c" x1="951.7" y1="1418.1" x2="951.7" y2="1457.6"/>
<line class="c" x1="954.4" y1="1418.1" x2="954.4" y2="1457.6"/>
<line class="c" x1="1031.9" y1="1418.1" x2="1031.9" y2="1457.6"/>
<line class="c" x1="1034.6" y1="1418.1" x2="1034.6" y2="1457.6"/>
<line class="c" x1="911.0" y1="1460.4" x2="911.0" y2="1498.3"/>
<line class="c" x1="914.4" y1="1460.4" x2="914.4" y2="1498.3"/>
<line class="c" x1="991.0" y1="1460.4" x2="991.0" y2="1498.3"/>
<line class="c" x1="994.4" y1="1460.4" x2="994.4" y2="1498.3"/>
<line class="c" x1="870.3" y1="1501.3" x2="870.3" y2="1540.1"/>
<line class="c" x1="873.0" y1="1501.3" x2="873.0" y2="1540.1"/>
<line class="c" x1="951.7" y1="1501.3" x2="951.7" y2="1540.1"/>
<line class="c" x1="954.4" y1="1501.3" x2="954.4" y2="1540.1"/>
<line class="c" x1="1031.9" y1="1501.3" x2="1031.9" y2="1540.1"/>
<line class="c" x1="1034.6" y1="1501.3" x2="1034.6" y2="1540.1"/>
<line x1="863.7" y1="1354.0" x2="863.7" y2="1566.0" stroke="#7eecf0" stroke-width="4.0" stroke-linecap="round"/>
<circle class="fc" cx="863.7" cy="1567.5" r="3.2"/>
<line class="c" x1="859.2" y1="1361.0" x2="868.2" y2="1361.0" style="stroke-width:2.4"/>
<circle class="fc" cx="863.7" cy="1358.5" r="2.6"/>
<line x1="1043.3" y1="1354.0" x2="1043.3" y2="1566.0" stroke="#7eecf0" stroke-width="4.0" stroke-linecap="round"/>
<circle class="fc" cx="1043.3" cy="1567.5" r="3.2"/>
<line class="c" x1="1038.8" y1="1361.0" x2="1047.8" y2="1361.0" style="stroke-width:2.4"/>
<circle class="fc" cx="1043.3" cy="1358.5" r="2.6"/>
<path class="c" d="M812.4 1542.9 L1185.3 1542.9 L1185.3 1584.2 L812.4 1584.2 Z"/>
<circle class="fw" cx="955.0" cy="1553.9" r="0.55"/>
<circle class="fw" cx="1146.5" cy="1559.5" r="0.75"/>
<circle class="fw" cx="919.2" cy="1555.5" r="0.75"/>
<circle class="fw" cx="1095.5" cy="1545.8" r="0.55"/>
<circle class="fw" cx="1058.1" cy="1575.9" r="0.65"/>
<circle class="fw" cx="1163.7" cy="1581.2" r="0.75"/>
<circle class="fw" cx="932.2" cy="1554.8" r="0.75"/>
<circle class="fw" cx="1043.1" cy="1547.7" r="0.75"/>
<circle class="fw" cx="827.1" cy="1576.9" r="0.75"/>
<circle class="fw" cx="894.3" cy="1571.8" r="0.75"/>
<circle class="fw" cx="989.6" cy="1565.6" r="0.55"/>
<circle class="fw" cx="860.5" cy="1578.6" r="0.75"/>
<circle class="fw" cx="1146.1" cy="1551.9" r="0.65"/>
<circle class="fw" cx="931.8" cy="1567.9" r="0.75"/>
<circle class="fw" cx="1027.3" cy="1561.2" r="0.55"/>
<circle class="fw" cx="925.8" cy="1550.8" r="0.75"/>
<circle class="fw" cx="849.4" cy="1546.3" r="0.75"/>
<circle class="fw" cx="996.3" cy="1559.8" r="0.55"/>
<circle class="fw" cx="846.6" cy="1548.3" r="0.75"/>
<circle class="fw" cx="962.7" cy="1564.8" r="0.65"/>
<circle class="fw" cx="1013.4" cy="1577.4" r="0.75"/>
<circle class="fw" cx="985.4" cy="1551.9" r="0.55"/>
<circle class="fw" cx="1078.2" cy="1571.6" r="0.75"/>
<circle class="fw" cx="1136.4" cy="1572.7" r="0.55"/>
<circle class="fw" cx="1177.6" cy="1571.0" r="0.65"/>
<circle class="fw" cx="1055.9" cy="1572.6" r="0.75"/>
<circle class="fw" cx="1009.4" cy="1567.3" r="0.55"/>
<circle class="fw" cx="1168.4" cy="1554.3" r="0.65"/>
<circle class="fw" cx="948.5" cy="1562.1" r="0.75"/>
<circle class="fw" cx="965.9" cy="1561.8" r="0.75"/>
<circle class="fw" cx="916.4" cy="1553.2" r="0.75"/>
<circle class="fw" cx="906.4" cy="1559.2" r="0.75"/>
<circle class="fw" cx="934.7" cy="1579.0" r="0.65"/>
<circle class="fw" cx="1104.5" cy="1556.2" r="0.65"/>
<circle class="fw" cx="1084.0" cy="1553.3" r="0.55"/>
<circle class="fw" cx="893.6" cy="1553.7" r="0.65"/>
<circle class="fw" cx="1060.0" cy="1547.8" r="0.55"/>
<circle class="fw" cx="1016.3" cy="1568.0" r="0.65"/>
<circle class="fw" cx="935.9" cy="1553.8" r="0.75"/>
<circle class="fw" cx="1080.2" cy="1575.3" r="0.65"/>
<circle class="fw" cx="1035.0" cy="1571.3" r="0.75"/>
<circle class="fw" cx="1099.3" cy="1559.7" r="0.65"/>
<circle class="fw" cx="1143.4" cy="1575.3" r="0.55"/>
<circle class="fw" cx="880.6" cy="1571.1" r="0.55"/>
<circle class="fw" cx="1049.6" cy="1564.1" r="0.75"/>
<circle class="fw" cx="1153.0" cy="1560.4" r="0.55"/>
<circle class="fw" cx="830.4" cy="1569.6" r="0.75"/>
<circle class="fw" cx="944.4" cy="1570.2" r="0.65"/>
<circle class="fw" cx="919.3" cy="1554.9" r="0.65"/>
<circle class="fw" cx="1039.9" cy="1575.5" r="0.75"/>
<circle class="fw" cx="917.7" cy="1566.8" r="0.65"/>
<circle class="fw" cx="963.2" cy="1563.3" r="0.55"/>
<circle class="fw" cx="850.9" cy="1562.5" r="0.65"/>
<circle class="fw" cx="900.6" cy="1552.1" r="0.65"/>
<circle class="fw" cx="922.1" cy="1554.4" r="0.65"/>
<circle class="fw" cx="1160.4" cy="1575.4" r="0.55"/>
<circle class="fw" cx="1039.4" cy="1581.7" r="0.75"/>
<circle class="fw" cx="1011.6" cy="1572.9" r="0.75"/>
<circle class="fw" cx="886.8" cy="1574.6" r="0.65"/>
<circle class="fw" cx="1152.5" cy="1566.5" r="0.65"/>
<circle class="fw" cx="1133.8" cy="1553.5" r="0.75"/>
<circle class="fw" cx="1003.8" cy="1550.9" r="0.75"/>
<circle class="fw" cx="1031.9" cy="1559.1" r="0.55"/>
<circle class="fw" cx="1117.7" cy="1555.3" r="0.55"/>
<circle class="fw" cx="1019.7" cy="1564.5" r="0.55"/>
<circle class="fw" cx="956.8" cy="1552.2" r="0.75"/>
<circle class="fw" cx="935.3" cy="1564.0" r="0.55"/>
<circle class="fw" cx="994.9" cy="1566.1" r="0.75"/>
<circle class="fw" cx="829.7" cy="1558.9" r="0.65"/>
<circle class="fw" cx="993.0" cy="1572.8" r="0.65"/>
<circle class="fw" cx="821.2" cy="1556.7" r="0.65"/>
<circle class="fw" cx="957.8" cy="1547.9" r="0.65"/>
<circle class="fw" cx="1061.1" cy="1572.7" r="0.65"/>
<circle class="fw" cx="1003.2" cy="1552.0" r="0.55"/>
<circle class="fw" cx="951.2" cy="1558.2" r="0.65"/>
<circle class="fw" cx="878.6" cy="1551.3" r="0.55"/>
<circle class="fw" cx="839.0" cy="1546.0" r="0.65"/>
<circle class="fw" cx="1146.9" cy="1556.8" r="0.55"/>
<circle class="fw" cx="886.6" cy="1578.2" r="0.75"/>
<path class="w" style="stroke-width:1.2" d="M862.6 1551.4 L856.8 1548.9 L861.9 1545.2 Z"/>
<path class="w" style="stroke-width:1.2" d="M1007.6 1581.0 L1005.2 1574.7 L1011.8 1575.7 Z"/>
<path class="w" style="stroke-width:1.2" d="M1090.9 1571.6 L1093.3 1577.5 L1087.0 1576.6 Z"/>
<path class="w" style="stroke-width:1.2" d="M962.3 1565.5 L967.5 1568.6 L962.2 1571.6 Z"/>
<path class="w" style="stroke-width:1.2" d="M1073.8 1569.1 L1067.9 1566.0 L1073.6 1562.5 Z"/>
<path class="w" style="stroke-width:1.2" d="M1108.2 1551.7 L1106.4 1546.9 L1111.4 1547.8 Z"/>
<path class="w" style="stroke-width:1.2" d="M1118.2 1561.8 L1116.2 1555.5 L1122.7 1556.8 Z"/>
<path class="w" style="stroke-width:1.2" d="M926.3 1558.2 L920.9 1558.8 L923.1 1553.8 Z"/>
<path class="w" style="stroke-width:1.2" d="M1027.6 1550.4 L1026.0 1556.2 L1021.8 1552.0 Z"/>
<path class="w" style="stroke-width:1.2" d="M1081.2 1558.7 L1077.4 1562.9 L1075.7 1557.5 Z"/>
<path class="w" style="stroke-width:1.2" d="M1101.5 1563.9 L1106.5 1566.7 L1101.6 1569.6 Z"/>
<path class="w" style="stroke-width:1.2" d="M900.9 1575.1 L894.9 1576.0 L897.2 1570.3 Z"/>
<path class="w" style="stroke-width:1.2" d="M823.9 1560.3 L828.6 1563.9 L823.1 1566.1 Z"/>
<path class="w" style="stroke-width:1.2" d="M1021.8 1559.9 L1022.9 1564.9 L1018.1 1563.4 Z"/>
<path class="w" style="stroke-width:1.2" d="M1121.1 1553.7 L1123.7 1548.2 L1127.2 1553.3 Z"/>
<line class="c" x1="1185.3" y1="1453.8" x2="1185.3" y2="1600.0"/>
<line class="c" x1="1073.8" y1="1495.9" x2="1185.3" y2="1495.9"/>
<line class="c" x1="1073.8" y1="1495.9" x2="1073.8" y2="1542.9" style="stroke-width:3.0"/>
<line class="c" x1="1071.9" y1="1516.9" x2="1185.3" y2="1516.9" style="stroke-width:1.8"/>
<circle class="fw" cx="1145.0" cy="1499.4" r="0.65"/>
<circle class="fw" cx="1104.0" cy="1501.1" r="0.55"/>
<circle class="fw" cx="1148.9" cy="1512.4" r="0.55"/>
<circle class="fw" cx="1139.9" cy="1499.5" r="0.55"/>
<circle class="fw" cx="1101.2" cy="1506.6" r="0.55"/>
<circle class="fw" cx="1136.9" cy="1509.7" r="0.75"/>
<circle class="fw" cx="1135.2" cy="1502.3" r="0.75"/>
<circle class="fw" cx="1107.4" cy="1512.0" r="0.55"/>
<circle class="fw" cx="1151.1" cy="1504.1" r="0.55"/>
<circle class="fw" cx="1100.9" cy="1510.5" r="0.55"/>
<circle class="fw" cx="1088.1" cy="1500.5" r="0.65"/>
<circle class="fw" cx="1141.3" cy="1511.1" r="0.75"/>
<circle class="fw" cx="1126.3" cy="1500.9" r="0.65"/>
<circle class="fw" cx="1086.7" cy="1503.4" r="0.75"/>
<circle class="fw" cx="1142.8" cy="1511.9" r="0.75"/>
<circle class="fw" cx="1098.5" cy="1500.0" r="0.75"/>
<circle class="fw" cx="1102.2" cy="1503.3" r="0.55"/>
<path class="w" style="stroke-width:1.2" d="M1163.7 1512.1 L1165.0 1507.5 L1168.3 1511.0 Z"/>
<path class="w" style="stroke-width:1.2" d="M1161.8 1505.5 L1162.5 1500.4 L1166.5 1503.5 Z"/>
<path class="w" style="stroke-width:1.2" d="M1153.1 1509.6 L1148.1 1510.0 L1150.3 1505.4 Z"/>
<clipPath id="clipGr4"><rect x="1073.0" y="1517.6" width="112.3" height="24.8"/></clipPath>
<g clip-path="url(#clipGr4)">
<rect x="1073.0" y="1517.6" width="112.3" height="23.8" fill="#f2f2f4"/>
<ellipse cx="1046.2" cy="1522.6" rx="3.9" ry="3.3" fill="#23273a"/>
<ellipse cx="1056.6" cy="1522.6" rx="4.1" ry="1.8" fill="#23273a"/>
<ellipse cx="1052.2" cy="1532.1" rx="5.3" ry="7.0" fill="#23273a" transform="rotate(32 1052.2 1532.1)"/>
<ellipse cx="1063.1" cy="1530.2" rx="3.3" ry="2.0" fill="#23273a" transform="rotate(-5 1063.1 1530.2)"/>
<ellipse cx="1062.0" cy="1537.1" rx="5.2" ry="2.7" fill="#23273a" transform="rotate(-14 1062.0 1537.1)"/>
<ellipse cx="1054.2" cy="1541.9" rx="4.0" ry="2.2" fill="#23273a"/>
<ellipse cx="1064.6" cy="1541.9" rx="4.0" ry="2.2" fill="#23273a"/>
<ellipse cx="1067.0" cy="1522.6" rx="3.9" ry="3.3" fill="#23273a"/>
<ellipse cx="1077.4" cy="1522.6" rx="4.1" ry="1.8" fill="#23273a"/>
<ellipse cx="1073.0" cy="1532.1" rx="5.3" ry="7.0" fill="#23273a" transform="rotate(32 1073.0 1532.1)"/>
<ellipse cx="1083.9" cy="1530.2" rx="3.3" ry="2.0" fill="#23273a" transform="rotate(-5 1083.9 1530.2)"/>
<ellipse cx="1082.8" cy="1537.1" rx="5.2" ry="2.7" fill="#23273a" transform="rotate(-14 1082.8 1537.1)"/>
<ellipse cx="1075.0" cy="1541.9" rx="4.0" ry="2.2" fill="#23273a"/>
<ellipse cx="1085.4" cy="1541.9" rx="4.0" ry="2.2" fill="#23273a"/>
<ellipse cx="1087.8" cy="1522.6" rx="3.9" ry="3.3" fill="#23273a"/>
<ellipse cx="1098.2" cy="1522.6" rx="4.1" ry="1.8" fill="#23273a"/>
<ellipse cx="1093.8" cy="1532.1" rx="5.3" ry="7.0" fill="#23273a" transform="rotate(32 1093.8 1532.1)"/>
<ellipse cx="1104.7" cy="1530.2" rx="3.3" ry="2.0" fill="#23273a" transform="rotate(-5 1104.7 1530.2)"/>
<ellipse cx="1103.6" cy="1537.1" rx="5.2" ry="2.7" fill="#23273a" transform="rotate(-14 1103.6 1537.1)"/>
<ellipse cx="1095.8" cy="1541.9" rx="4.0" ry="2.2" fill="#23273a"/>
<ellipse cx="1106.2" cy="1541.9" rx="4.0" ry="2.2" fill="#23273a"/>
<ellipse cx="1108.6" cy="1522.6" rx="3.9" ry="3.3" fill="#23273a"/>
<ellipse cx="1119.0" cy="1522.6" rx="4.1" ry="1.8" fill="#23273a"/>
<ellipse cx="1114.6" cy="1532.1" rx="5.3" ry="7.0" fill="#23273a" transform="rotate(32 1114.6 1532.1)"/>
<ellipse cx="1125.5" cy="1530.2" rx="3.3" ry="2.0" fill="#23273a" transform="rotate(-5 1125.5 1530.2)"/>
<ellipse cx="1124.4" cy="1537.1" rx="5.2" ry="2.7" fill="#23273a" transform="rotate(-14 1124.4 1537.1)"/>
<ellipse cx="1116.6" cy="1541.9" rx="4.0" ry="2.2" fill="#23273a"/>
<ellipse cx="1127.0" cy="1541.9" rx="4.0" ry="2.2" fill="#23273a"/>
<ellipse cx="1129.4" cy="1522.6" rx="3.9" ry="3.3" fill="#23273a"/>
<ellipse cx="1139.8" cy="1522.6" rx="4.1" ry="1.8" fill="#23273a"/>
<ellipse cx="1135.4" cy="1532.1" rx="5.3" ry="7.0" fill="#23273a" transform="rotate(32 1135.4 1532.1)"/>
<ellipse cx="1146.3" cy="1530.2" rx="3.3" ry="2.0" fill="#23273a" transform="rotate(-5 1146.3 1530.2)"/>
<ellipse cx="1145.2" cy="1537.1" rx="5.2" ry="2.7" fill="#23273a" transform="rotate(-14 1145.2 1537.1)"/>
<ellipse cx="1137.4" cy="1541.9" rx="4.0" ry="2.2" fill="#23273a"/>
<ellipse cx="1147.8" cy="1541.9" rx="4.0" ry="2.2" fill="#23273a"/>
<ellipse cx="1150.2" cy="1522.6" rx="3.9" ry="3.3" fill="#23273a"/>
<ellipse cx="1160.6" cy="1522.6" rx="4.1" ry="1.8" fill="#23273a"/>
<ellipse cx="1156.2" cy="1532.1" rx="5.3" ry="7.0" fill="#23273a" transform="rotate(32 1156.2 1532.1)"/>
<ellipse cx="1167.1" cy="1530.2" rx="3.3" ry="2.0" fill="#23273a" transform="rotate(-5 1167.1 1530.2)"/>
<ellipse cx="1166.0" cy="1537.1" rx="5.2" ry="2.7" fill="#23273a" transform="rotate(-14 1166.0 1537.1)"/>
<ellipse cx="1158.2" cy="1541.9" rx="4.0" ry="2.2" fill="#23273a"/>
<ellipse cx="1168.6" cy="1541.9" rx="4.0" ry="2.2" fill="#23273a"/>
<ellipse cx="1171.0" cy="1522.6" rx="3.9" ry="3.3" fill="#23273a"/>
<ellipse cx="1181.4" cy="1522.6" rx="4.1" ry="1.8" fill="#23273a"/>
<ellipse cx="1177.0" cy="1532.1" rx="5.3" ry="7.0" fill="#23273a" transform="rotate(32 1177.0 1532.1)"/>
<ellipse cx="1187.9" cy="1530.2" rx="3.3" ry="2.0" fill="#23273a" transform="rotate(-5 1187.9 1530.2)"/>
<ellipse cx="1186.8" cy="1537.1" rx="5.2" ry="2.7" fill="#23273a" transform="rotate(-14 1186.8 1537.1)"/>
<ellipse cx="1179.0" cy="1541.9" rx="4.0" ry="2.2" fill="#23273a"/>
<ellipse cx="1189.4" cy="1541.9" rx="4.0" ry="2.2" fill="#23273a"/>
<ellipse cx="1191.8" cy="1522.6" rx="3.9" ry="3.3" fill="#23273a"/>
<ellipse cx="1202.2" cy="1522.6" rx="4.1" ry="1.8" fill="#23273a"/>
<ellipse cx="1197.8" cy="1532.1" rx="5.3" ry="7.0" fill="#23273a" transform="rotate(32 1197.8 1532.1)"/>
<ellipse cx="1208.7" cy="1530.2" rx="3.3" ry="2.0" fill="#23273a" transform="rotate(-5 1208.7 1530.2)"/>
<ellipse cx="1207.6" cy="1537.1" rx="5.2" ry="2.7" fill="#23273a" transform="rotate(-14 1207.6 1537.1)"/>
<ellipse cx="1199.8" cy="1541.9" rx="4.0" ry="2.2" fill="#23273a"/>
<ellipse cx="1210.2" cy="1541.9" rx="4.0" ry="2.2" fill="#23273a"/>
</g>
<line class="c" x1="1071.9" y1="1542.5" x2="1185.3" y2="1542.5" style="stroke-width:1.8"/>
<line class="c" x1="1091.8" y1="1376.7" x2="1223.4" y2="1376.7"/>
<line class="c" x1="1185.3" y1="1542.9" x2="1224.0" y2="1542.9"/>
<line class="c" x1="1220.7" y1="1376.7" x2="1220.7" y2="1542.9"/>
<line class="c" x1="1215.7" y1="1371.7" x2="1225.7" y2="1381.7"/>
<line class="c" x1="1215.7" y1="1537.9" x2="1225.7" y2="1547.9"/>
<text class="t" x="1217.6" y="1486.0" font-size="12.4" textLength="52.0" lengthAdjust="spacingAndGlyphs" transform="rotate(-90 1217.6 1486.0)">48" MAX</text>
<text class="t" x="1137.9" y="1302.1" font-size="12.4" textLength="79.8" lengthAdjust="spacingAndGlyphs">GARAGE SLAB</text>
<text class="t" x="1137.9" y="1315.0" font-size="12.4" textLength="99.5" lengthAdjust="spacingAndGlyphs">OVER GRAVEL AS</text>
<text class="t" x="1137.9" y="1327.9" font-size="12.4" textLength="56.1" lengthAdjust="spacingAndGlyphs">SPECIFIED</text>
<line class="c" x1="1133.0" y1="1298.7" x2="1095.0" y2="1298.7"/>
<line class="c" x1="1095.0" y1="1298.7" x2="1116.7" y2="1493.1"/>
<path class="fc" d="M1116.7 1493.1 L1114.3 1485.5 L1117.3 1485.1 Z"/>
<text class="tm" x="939.2" y="1622.6" font-size="14.6" textLength="80.3" lengthAdjust="spacingAndGlyphs">ELEVATION</text>
<line class="c" x1="939.2" y1="1625.2" x2="1020.0" y2="1625.2"/>
<path class="c" d="M372.2 1700.5 A20.4 20.4 0 1 1 389.4 1700.5"/>
<text class="tl" x="369.8" y="1691.0" font-size="26.5" textLength="17.2" lengthAdjust="spacingAndGlyphs">B</text>
<text class="tl" x="410.0" y="1681.3" font-size="20.3" textLength="339.7" lengthAdjust="spacingAndGlyphs">GARAGE 'WING WALL' REINFORCING</text>
<line class="c" x1="410.0" y1="1684.9" x2="750.5" y2="1684.9"/>
<text class="t" x="410.0" y="1698.5" font-size="12.0" textLength="257.0" lengthAdjust="spacingAndGlyphs">(CODE REFERENCE: IRC FIGURE R602.10.7)</text>
</svg>
</body></html>
